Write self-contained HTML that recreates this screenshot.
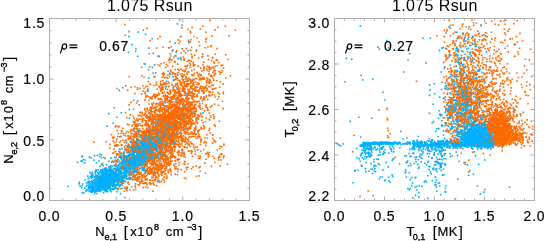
<!DOCTYPE html>
<html><head><meta charset="utf-8"><style>
html,body{margin:0;padding:0;background:#fff;}
svg{display:block;font-family:"Liberation Sans", sans-serif;}
</style></head><body>
<svg width="544" height="241" viewBox="0 0 544 241">
<rect width="544" height="241" fill="#fff"/>
<g stroke-width="1.6" fill="none"><path stroke="#ff6a00" d="M179.3 118.7h1.6M168.9 127.8h1.6M181.3 143.0h1.6M156.3 132.7h1.6M146.5 109.4h1.6M179.2 122.1h1.6M153.5 138.9h1.6M178.8 93.1h1.6M154.1 129.2h1.6M151.1 157.5h1.6M192.0 88.8h1.6M148.6 149.9h1.6M170.2 121.9h1.6M172.1 115.7h1.6M154.6 129.7h1.6M174.0 104.0h1.6M190.9 112.1h1.6M129.7 131.8h1.6M156.4 143.5h1.6M167.3 133.4h1.6M173.2 131.1h1.6M168.0 134.3h1.6M183.1 105.7h1.6M163.5 140.5h1.6M138.4 134.7h1.6M174.7 108.9h1.6M155.6 125.9h1.6M153.6 163.0h1.6M143.8 152.0h1.6M162.3 105.1h1.6M164.7 141.2h1.6M185.6 95.8h1.6M165.8 117.3h1.6M167.7 138.9h1.6M190.9 123.9h1.6M136.9 177.3h1.6M165.2 149.8h1.6M166.6 137.7h1.6M187.7 103.8h1.6M168.9 129.1h1.6M162.4 103.8h1.6M166.5 134.9h1.6M174.2 96.6h1.6M168.6 121.7h1.6M145.3 164.1h1.6M159.6 120.0h1.6M176.5 129.9h1.6M179.9 119.1h1.6M166.0 155.6h1.6M167.5 123.3h1.6M146.4 135.5h1.6M151.7 117.4h1.6M123.9 187.4h1.6M137.9 139.7h1.6M140.3 147.8h1.6M182.5 112.4h1.6M182.5 120.2h1.6M167.3 107.6h1.6M192.6 62.3h1.6M164.6 119.5h1.6M153.2 111.8h1.6M177.5 112.9h1.6M173.2 115.1h1.6M190.0 110.8h1.6M128.4 76.8h1.6M214.4 70.8h1.6M131.0 186.8h1.6M173.6 125.6h1.6M184.0 164.1h1.6M213.2 68.1h1.6M170.4 108.3h1.6M143.2 77.3h1.6M147.2 110.8h1.6M186.8 143.7h1.6M182.2 117.5h1.6M200.8 88.5h1.6M148.3 104.0h1.6M170.9 101.9h1.6M187.0 113.1h1.6M150.0 111.2h1.6M207.5 82.4h1.6M217.6 157.9h1.6M154.2 114.7h1.6M186.6 96.3h1.6M162.1 143.3h1.6M200.8 78.8h1.6M177.6 108.2h1.6M169.9 142.9h1.6M150.8 130.0h1.6M153.1 154.2h1.6M168.5 47.9h1.6M199.8 113.3h1.6M144.9 131.5h1.6M145.7 132.2h1.6M126.9 146.6h1.6M149.4 116.9h1.6M180.4 138.6h1.6M150.3 152.0h1.6M155.8 167.5h1.6M146.9 187.5h1.6M156.7 126.5h1.6M192.0 84.6h1.6M155.7 82.3h1.6M161.4 138.1h1.6M144.7 134.2h1.6M164.2 128.0h1.6M177.0 72.8h1.6M193.2 111.6h1.6M160.1 115.7h1.6M169.4 139.8h1.6M180.3 125.2h1.6M187.1 80.1h1.6M139.5 125.3h1.6M161.1 107.6h1.6M197.0 90.9h1.6M168.5 163.5h1.6M222.6 93.7h1.6M195.6 166.1h1.6M162.3 129.8h1.6M195.8 120.3h1.6M166.3 122.4h1.6M170.4 129.1h1.6M153.5 132.8h1.6M171.8 121.3h1.6M172.1 106.6h1.6M163.5 120.1h1.6M162.6 75.3h1.6M220.4 65.4h1.6M198.6 91.7h1.6M172.2 72.6h1.6M205.6 81.6h1.6M163.3 62.7h1.6M166.3 98.9h1.6M170.1 56.0h1.6M186.5 110.8h1.6M204.9 87.1h1.6M215.5 60.1h1.6M199.9 67.9h1.6M180.0 59.5h1.6M199.5 29.0h1.6M167.7 47.7h1.6M213.4 141.2h1.6M185.0 138.5h1.6M199.3 166.9h1.6M203.2 142.6h1.6M222.6 157.8h1.6M159.8 144.2h1.6M145.3 161.8h1.6M146.4 179.4h1.6M170.6 155.2h1.6M158.1 140.8h1.6M151.3 163.7h1.6M137.1 165.0h1.6M140.7 167.4h1.6M169.8 149.6h1.6M144.4 176.5h1.6M151.9 162.5h1.6M150.9 177.3h1.6M174.5 168.9h1.6M133.3 131.5h1.6M136.7 142.0h1.6M134.1 164.7h1.6M116.3 153.8h1.6M129.1 137.8h1.6M138.6 148.7h1.6M145.6 128.6h1.6M500.5 127.4h1.6M498.8 123.5h1.6M502.1 127.9h1.6M488.0 124.8h1.6M504.1 135.3h1.6M497.8 137.6h1.6M493.1 131.9h1.6M500.1 134.7h1.6M491.0 126.6h1.6M504.5 138.3h1.6M490.6 126.8h1.6M506.7 121.8h1.6M497.4 131.3h1.6M498.0 115.9h1.6M495.8 119.5h1.6M488.3 111.0h1.6M495.6 129.4h1.6M487.9 131.0h1.6M500.0 122.6h1.6M501.2 140.3h1.6M497.4 142.8h1.6M484.3 126.7h1.6M490.8 129.1h1.6M503.4 132.2h1.6M508.7 126.7h1.6M504.5 129.2h1.6M490.1 140.1h1.6M502.5 122.1h1.6M502.5 136.4h1.6M484.9 121.3h1.6M493.8 129.5h1.6M500.6 122.5h1.6M504.7 118.5h1.6M503.9 123.8h1.6M506.6 135.7h1.6M489.4 124.6h1.6M495.8 116.7h1.6M518.3 132.2h1.6M496.0 128.4h1.6M516.9 135.6h1.6M503.2 139.3h1.6M526.0 124.5h1.6M495.5 139.4h1.6M509.2 131.1h1.6M531.7 134.8h1.6M504.2 132.1h1.6M507.3 134.1h1.6M518.4 138.5h1.6M500.9 116.8h1.6M506.0 112.8h1.6M495.8 98.8h1.6M461.6 113.6h1.6M462.8 69.7h1.6M466.7 51.9h1.6M442.5 117.8h1.6M484.5 118.9h1.6M476.9 65.4h1.6M469.9 123.6h1.6M459.3 105.6h1.6M465.1 66.7h1.6M457.2 83.5h1.6M472.2 111.8h1.6M469.4 110.6h1.6M449.7 99.5h1.6M450.3 129.0h1.6M482.6 101.2h1.6M463.7 87.0h1.6M470.2 123.8h1.6M446.7 94.2h1.6M470.5 101.2h1.6M467.4 119.4h1.6M452.6 95.0h1.6M448.3 130.5h1.6M451.6 103.0h1.6M458.3 87.9h1.6M494.9 105.3h1.6M471.2 43.0h1.6M460.2 75.3h1.6M466.9 121.9h1.6M461.3 26.4h1.6M473.0 109.6h1.6M483.8 74.3h1.6M483.6 92.6h1.6M449.6 85.4h1.6M499.1 63.7h1.6M481.7 39.9h1.6M454.7 106.1h1.6M488.9 58.6h1.6M468.7 142.1h1.6M487.4 93.7h1.6M475.7 87.7h1.6M523.4 145.8h1.6M467.0 99.7h1.6M490.0 119.4h1.6M495.1 118.4h1.6M465.2 110.1h1.6M462.0 99.8h1.6M467.5 64.7h1.6M499.6 99.7h1.6M514.0 139.3h1.6M485.7 93.3h1.6M509.5 104.0h1.6M485.9 109.2h1.6M472.8 119.7h1.6M479.3 81.8h1.6M529.9 49.3h1.6M514.4 44.4h1.6M499.8 21.3h1.6M452.6 58.0h1.6M475.6 23.5h1.6M393.1 158.7h1.6M367.4 191.0h1.6M482.6 112.2h1.6"/><path stroke="#00b0ff" d="M106.7 181.1h1.6M109.1 184.7h1.6M108.0 177.4h1.6M108.2 178.0h1.6M116.2 169.1h1.6M101.7 178.9h1.6M99.5 180.0h1.6M113.7 174.0h1.6M100.9 185.4h1.6M102.1 169.3h1.6M108.8 176.4h1.6M105.1 186.8h1.6M101.9 182.7h1.6M106.3 179.0h1.6M104.8 177.1h1.6M99.0 183.3h1.6M102.9 177.5h1.6M101.7 179.3h1.6M103.7 178.0h1.6M100.3 176.5h1.6M100.9 175.9h1.6M107.6 182.9h1.6M123.8 173.0h1.6M100.0 179.4h1.6M114.9 168.6h1.6M101.8 185.9h1.6M104.2 184.1h1.6M117.4 182.7h1.6M95.6 186.3h1.6M103.5 177.2h1.6M105.1 183.1h1.6M93.9 184.5h1.6M111.7 172.3h1.6M103.2 179.5h1.6M91.8 187.0h1.6M106.2 176.8h1.6M99.9 183.7h1.6M101.5 185.1h1.6M111.2 171.6h1.6M108.4 183.8h1.6M110.4 174.9h1.6M123.1 157.0h1.6M184.3 104.9h1.6M147.8 139.4h1.6M146.5 153.5h1.6M97.5 182.2h1.6M135.9 165.1h1.6M153.2 153.8h1.6M148.7 149.4h1.6M133.4 161.3h1.6M158.2 148.2h1.6M126.6 156.2h1.6M142.7 151.0h1.6M143.1 150.3h1.6M164.1 155.1h1.6M142.4 149.7h1.6M137.6 143.4h1.6M139.3 157.7h1.6M144.0 156.8h1.6M126.0 156.2h1.6M134.2 151.9h1.6M132.2 164.2h1.6M115.6 172.2h1.6M130.7 155.6h1.6M139.0 145.5h1.6M134.9 157.9h1.6M154.3 127.6h1.6M143.0 154.7h1.6M144.4 151.5h1.6M118.4 169.6h1.6M147.0 137.6h1.6M148.8 151.6h1.6M150.1 150.4h1.6M133.9 165.9h1.6M127.0 157.6h1.6M132.8 161.5h1.6M133.6 147.2h1.6M144.7 147.2h1.6M107.0 185.8h1.6M128.0 165.3h1.6M122.2 162.9h1.6M141.2 148.5h1.6M139.7 164.6h1.6M106.7 180.2h1.6M128.4 175.1h1.6M121.0 156.7h1.6M164.3 140.8h1.6M150.1 149.2h1.6M137.2 155.4h1.6M157.7 154.7h1.6M124.8 170.9h1.6M136.0 149.5h1.6M118.6 149.2h1.6M140.5 164.2h1.6M145.1 157.7h1.6M162.8 142.1h1.6M172.6 113.6h1.6M141.3 160.6h1.6M144.1 148.9h1.6M135.2 161.0h1.6M135.0 164.4h1.6M152.2 122.9h1.6M128.6 118.1h1.6M189.6 117.2h1.6M172.1 50.1h1.6M106.3 126.1h1.6M93.8 155.6h1.6M127.7 52.3h1.6M124.5 35.2h1.6M488.4 138.0h1.6M484.3 125.9h1.6M467.4 137.1h1.6M472.3 142.7h1.6M490.9 144.1h1.6M480.6 134.9h1.6M465.4 138.3h1.6M465.5 137.1h1.6M484.0 135.3h1.6M481.2 131.9h1.6M484.6 133.9h1.6M473.0 133.2h1.6M474.6 140.8h1.6M481.6 139.6h1.6M473.1 144.2h1.6M472.7 143.6h1.6M478.0 140.7h1.6M471.6 143.9h1.6M471.4 137.3h1.6M469.2 128.3h1.6M473.8 146.2h1.6M471.8 135.0h1.6M477.8 135.8h1.6M470.9 139.5h1.6M488.6 142.9h1.6M474.9 128.0h1.6M465.6 138.1h1.6M474.9 137.3h1.6M480.2 142.1h1.6M465.4 134.9h1.6M474.9 134.1h1.6M480.0 138.4h1.6M474.7 134.1h1.6M473.6 129.7h1.6M477.6 138.0h1.6M463.9 137.3h1.6M472.0 143.5h1.6M374.9 143.4h1.6M392.2 143.2h1.6M389.9 143.2h1.6M383.5 142.8h1.6M389.5 142.6h1.6M387.8 143.3h1.6M404.2 143.5h1.6M372.5 148.6h1.6M425.6 143.6h1.6M423.9 145.9h1.6M413.6 144.8h1.6M429.7 141.6h1.6M426.1 144.1h1.6M478.7 146.3h1.6M459.1 143.2h1.6M460.9 145.1h1.6M485.8 145.2h1.6M490.8 140.8h1.6M469.0 141.0h1.6M473.9 140.9h1.6M468.7 145.3h1.6M489.4 146.1h1.6M470.7 145.3h1.6M446.2 144.4h1.6M476.9 142.5h1.6M470.2 144.4h1.6M456.4 143.5h1.6M477.7 145.2h1.6M474.8 145.4h1.6M365.3 162.5h1.6M363.0 148.3h1.6M367.2 144.5h1.6M361.7 157.9h1.6M362.9 147.9h1.6M368.5 145.1h1.6M364.6 168.6h1.6M374.1 168.7h1.6M352.1 182.7h1.6M389.2 182.3h1.6M377.6 159.3h1.6M426.0 164.8h1.6M414.7 195.4h1.6M404.6 172.7h1.6M420.9 155.3h1.6M414.3 187.3h1.6M419.5 154.4h1.6M440.4 148.3h1.6M429.7 171.9h1.6M405.5 155.8h1.6M439.9 115.8h1.6M465.6 89.5h1.6M475.4 131.4h1.6M447.1 103.4h1.6M459.2 140.3h1.6M460.7 126.6h1.6M431.5 123.0h1.6M461.5 76.0h1.6M470.9 70.5h1.6M464.3 37.4h1.6M456.4 55.4h1.6M464.9 46.6h1.6M463.4 120.2h1.6M476.1 113.9h1.6M469.8 101.0h1.6M458.2 120.0h1.6M454.8 138.3h1.6M437.7 118.3h1.6M463.0 124.2h1.6M453.0 121.3h1.6M457.9 95.5h1.6M454.6 115.3h1.6M451.7 82.6h1.6"/><path stroke="#ff6a00" d="M188.9 115.0h1.6M171.7 131.0h1.6M164.8 102.1h1.6M214.7 73.5h1.6M182.2 117.1h1.6M188.0 103.5h1.6M140.6 162.7h1.6M186.3 81.2h1.6M181.8 114.1h1.6M186.9 86.0h1.6M180.6 119.6h1.6M169.2 129.2h1.6M177.4 114.2h1.6M169.6 135.6h1.6M143.8 135.4h1.6M191.8 86.0h1.6M163.2 140.4h1.6M161.8 144.2h1.6M177.6 110.3h1.6M174.3 98.7h1.6M180.3 108.5h1.6M162.0 109.1h1.6M135.5 174.5h1.6M170.9 127.7h1.6M138.5 119.2h1.6M203.5 88.5h1.6M156.5 127.6h1.6M152.8 137.9h1.6M167.6 136.6h1.6M175.9 102.5h1.6M142.4 149.3h1.6M158.6 145.6h1.6M176.4 109.1h1.6M161.6 142.8h1.6M171.4 150.6h1.6M157.5 142.9h1.6M172.7 136.8h1.6M164.9 144.3h1.6M175.7 98.8h1.6M162.1 120.0h1.6M160.6 154.2h1.6M189.5 112.6h1.6M168.0 123.7h1.6M172.3 127.9h1.6M171.8 123.8h1.6M149.3 118.1h1.6M167.7 116.7h1.6M166.5 116.9h1.6M155.4 107.3h1.6M159.8 131.7h1.6M160.5 155.7h1.6M152.2 125.1h1.6M168.8 151.4h1.6M176.9 107.4h1.6M192.3 95.6h1.6M194.8 127.9h1.6M158.7 140.0h1.6M137.0 139.5h1.6M117.5 169.3h1.6M129.4 179.4h1.6M162.8 124.3h1.6M154.8 133.8h1.6M143.5 145.9h1.6M160.6 150.0h1.6M149.8 138.9h1.6M194.9 90.3h1.6M145.1 117.2h1.6M176.5 134.1h1.6M208.4 67.2h1.6M180.7 123.3h1.6M132.8 173.3h1.6M145.2 96.1h1.6M160.1 136.6h1.6M173.4 128.3h1.6M165.0 124.8h1.6M193.8 128.2h1.6M162.7 136.7h1.6M185.7 48.6h1.6M199.9 142.3h1.6M171.4 142.2h1.6M160.8 104.4h1.6M188.2 120.9h1.6M175.5 136.1h1.6M144.8 179.0h1.6M179.1 136.9h1.6M150.4 121.5h1.6M193.6 129.6h1.6M201.0 57.3h1.6M160.2 132.0h1.6M145.5 137.9h1.6M158.1 180.6h1.6M176.6 110.8h1.6M197.3 66.1h1.6M158.2 130.9h1.6M190.5 132.0h1.6M158.4 166.8h1.6M185.4 109.4h1.6M203.6 128.0h1.6M171.9 66.3h1.6M192.7 101.5h1.6M153.1 85.5h1.6M176.0 120.9h1.6M211.8 57.8h1.6M157.2 123.6h1.6M201.3 101.0h1.6M132.5 139.4h1.6M174.2 134.4h1.6M198.1 42.0h1.6M150.8 146.9h1.6M141.8 118.6h1.6M134.2 122.2h1.6M188.9 105.4h1.6M179.4 103.6h1.6M181.8 114.4h1.6M177.3 144.3h1.6M130.5 129.5h1.6M149.4 97.4h1.6M190.0 126.1h1.6M155.5 129.3h1.6M163.4 130.6h1.6M151.6 129.8h1.6M181.6 121.7h1.6M125.6 176.4h1.6M186.9 112.8h1.6M169.7 106.9h1.6M199.3 107.5h1.6M198.7 79.9h1.6M183.4 74.7h1.6M176.0 110.9h1.6M162.0 80.8h1.6M203.3 78.3h1.6M192.1 117.0h1.6M153.2 94.4h1.6M216.2 48.6h1.6M156.0 48.0h1.6M190.9 47.5h1.6M128.3 31.6h1.6M194.5 154.3h1.6M217.8 160.0h1.6M153.6 155.7h1.6M164.8 130.4h1.6M160.3 174.1h1.6M175.3 166.7h1.6M120.8 183.2h1.6M138.2 153.8h1.6M166.5 159.9h1.6M167.7 154.3h1.6M139.8 173.3h1.6M157.4 169.4h1.6M152.9 155.2h1.6M173.9 147.7h1.6M171.5 161.2h1.6M158.7 153.6h1.6M133.0 147.2h1.6M119.9 141.0h1.6M140.4 131.5h1.6M139.1 123.8h1.6M120.5 153.1h1.6M120.5 144.6h1.6M495.6 135.2h1.6M498.4 134.5h1.6M500.7 133.0h1.6M501.9 120.1h1.6M488.8 132.9h1.6M494.9 123.3h1.6M496.6 131.9h1.6M508.4 136.3h1.6M496.6 130.0h1.6M488.5 128.2h1.6M505.3 139.9h1.6M502.2 123.3h1.6M505.5 128.3h1.6M502.8 122.5h1.6M497.8 122.7h1.6M515.0 136.6h1.6M509.8 127.9h1.6M505.6 129.9h1.6M497.3 114.3h1.6M504.1 130.6h1.6M497.7 133.8h1.6M501.4 133.4h1.6M506.3 112.2h1.6M489.0 127.7h1.6M496.6 123.3h1.6M519.1 138.6h1.6M504.5 140.7h1.6M507.0 138.6h1.6M512.7 142.4h1.6M509.6 143.5h1.6M509.4 128.8h1.6M497.4 137.7h1.6M505.8 137.8h1.6M511.5 138.9h1.6M507.9 138.1h1.6M509.6 133.1h1.6M520.8 136.0h1.6M518.5 121.4h1.6M497.1 127.4h1.6M490.5 126.3h1.6M482.4 104.0h1.6M499.1 116.9h1.6M494.3 117.2h1.6M470.9 38.3h1.6M442.8 62.4h1.6M469.7 125.4h1.6M445.6 110.2h1.6M447.6 110.1h1.6M483.6 101.4h1.6M444.9 130.8h1.6M450.3 112.8h1.6M482.3 67.5h1.6M446.4 115.3h1.6M468.8 81.1h1.6M451.2 115.8h1.6M470.2 94.6h1.6M460.6 97.7h1.6M467.9 69.2h1.6M467.1 64.7h1.6M448.3 143.2h1.6M454.8 91.5h1.6M490.1 127.6h1.6M465.2 111.7h1.6M448.3 77.6h1.6M459.5 71.3h1.6M479.0 76.9h1.6M485.2 86.7h1.6M457.5 95.1h1.6M497.0 127.2h1.6M471.8 103.9h1.6M491.6 124.8h1.6M444.6 107.1h1.6M498.7 137.8h1.6M462.2 64.8h1.6M467.5 88.0h1.6M496.2 113.4h1.6M483.6 87.6h1.6M515.1 127.8h1.6M521.1 129.2h1.6M484.7 117.7h1.6M476.0 61.0h1.6M469.3 130.7h1.6M455.0 141.4h1.6M469.3 87.6h1.6M489.1 66.7h1.6M500.1 83.1h1.6M466.6 92.0h1.6M527.5 95.8h1.6M470.8 90.1h1.6M472.8 121.7h1.6M463.2 91.9h1.6M491.2 86.2h1.6M474.2 118.6h1.6M475.6 49.6h1.6M468.6 92.8h1.6M503.5 95.2h1.6M479.4 100.6h1.6M496.8 67.7h1.6M470.9 105.5h1.6M488.3 84.7h1.6M489.3 56.0h1.6M490.0 93.5h1.6M499.6 60.9h1.6M464.5 35.4h1.6M498.2 49.5h1.6M496.6 57.3h1.6M454.9 59.1h1.6M468.0 172.1h1.6M386.8 135.7h1.6M471.8 152.3h1.6"/><path stroke="#00b0ff" d="M109.4 182.3h1.6M117.7 180.4h1.6M106.6 183.6h1.6M91.2 191.3h1.6M98.5 189.7h1.6M124.7 173.6h1.6M109.6 174.5h1.6M113.6 176.6h1.6M103.8 175.0h1.6M95.4 183.2h1.6M104.3 174.4h1.6M120.2 168.3h1.6M97.2 181.0h1.6M97.5 184.5h1.6M99.6 178.9h1.6M92.8 188.4h1.6M97.8 176.5h1.6M67.3 186.2h1.6M98.4 177.3h1.6M104.3 171.3h1.6M91.9 189.3h1.6M96.6 185.8h1.6M111.1 174.5h1.6M96.9 189.4h1.6M103.5 184.5h1.6M97.4 177.2h1.6M109.3 179.4h1.6M107.9 183.3h1.6M110.8 183.5h1.6M110.9 179.8h1.6M128.1 173.2h1.6M111.5 180.1h1.6M94.2 182.8h1.6M98.8 180.8h1.6M95.0 187.6h1.6M113.7 174.1h1.6M99.6 179.8h1.6M113.3 182.6h1.6M114.1 181.4h1.6M96.2 185.7h1.6M108.8 172.4h1.6M110.7 176.0h1.6M107.8 183.3h1.6M93.6 189.9h1.6M104.9 173.1h1.6M117.7 168.2h1.6M157.5 143.6h1.6M144.5 147.3h1.6M139.3 155.5h1.6M132.9 152.4h1.6M140.0 148.8h1.6M135.7 171.8h1.6M139.9 159.0h1.6M133.7 169.1h1.6M153.1 146.9h1.6M173.6 140.3h1.6M130.8 165.4h1.6M167.2 129.3h1.6M127.0 162.6h1.6M141.6 153.6h1.6M168.9 140.1h1.6M161.5 131.7h1.6M145.5 158.8h1.6M140.5 158.5h1.6M137.8 134.3h1.6M132.5 159.1h1.6M131.6 160.0h1.6M149.3 149.0h1.6M134.7 178.5h1.6M146.4 144.6h1.6M128.8 163.2h1.6M167.2 143.7h1.6M146.3 145.7h1.6M103.4 183.9h1.6M158.9 148.1h1.6M138.5 153.3h1.6M137.2 147.4h1.6M122.1 168.3h1.6M140.4 153.7h1.6M128.1 174.0h1.6M144.2 152.1h1.6M121.2 165.5h1.6M143.8 164.7h1.6M147.7 127.8h1.6M156.0 143.8h1.6M139.1 137.1h1.6M145.3 147.7h1.6M146.6 144.7h1.6M153.7 145.9h1.6M119.8 154.0h1.6M136.9 169.7h1.6M149.0 152.8h1.6M118.4 171.2h1.6M136.4 170.2h1.6M156.7 150.7h1.6M158.6 138.9h1.6M162.3 141.4h1.6M145.2 162.4h1.6M140.7 151.5h1.6M154.6 146.2h1.6M147.6 144.9h1.6M138.7 157.0h1.6M123.4 172.3h1.6M160.0 124.4h1.6M116.2 117.3h1.6M177.0 171.5h1.6M172.2 76.8h1.6M163.4 119.0h1.6M159.3 105.1h1.6M154.9 109.2h1.6M148.8 67.0h1.6M152.1 120.4h1.6M115.7 153.7h1.6M98.3 161.0h1.6M488.3 133.8h1.6M479.3 129.9h1.6M461.6 134.9h1.6M476.5 142.4h1.6M490.9 135.7h1.6M467.9 134.8h1.6M487.9 139.4h1.6M467.6 138.4h1.6M469.7 135.3h1.6M491.1 141.2h1.6M468.2 136.9h1.6M488.8 130.7h1.6M482.6 134.4h1.6M468.7 130.4h1.6M484.8 141.7h1.6M483.8 127.2h1.6M473.6 137.1h1.6M472.5 142.0h1.6M477.9 131.4h1.6M489.3 138.7h1.6M485.3 140.1h1.6M473.4 142.4h1.6M480.5 132.6h1.6M468.3 131.8h1.6M474.4 138.5h1.6M485.1 145.2h1.6M462.7 136.6h1.6M487.9 139.7h1.6M474.7 143.5h1.6M475.4 114.7h1.6M472.0 138.4h1.6M492.0 133.5h1.6M477.5 132.4h1.6M457.0 133.5h1.6M473.8 138.1h1.6M456.5 138.8h1.6M473.3 140.6h1.6M472.7 138.0h1.6M482.1 146.0h1.6M481.2 132.8h1.6M456.0 131.7h1.6M475.3 126.8h1.6M488.1 146.4h1.6M472.0 145.7h1.6M392.3 144.1h1.6M372.6 142.3h1.6M384.6 142.9h1.6M364.4 143.4h1.6M364.6 143.7h1.6M384.3 142.1h1.6M384.9 143.0h1.6M378.0 143.6h1.6M386.6 143.1h1.6M395.4 142.2h1.6M374.7 171.8h1.6M384.2 149.7h1.6M437.0 141.4h1.6M412.9 143.6h1.6M434.0 143.5h1.6M414.1 145.3h1.6M437.0 141.8h1.6M434.5 148.2h1.6M433.4 145.3h1.6M427.3 146.2h1.6M435.5 145.2h1.6M438.9 142.5h1.6M432.6 143.9h1.6M420.6 141.3h1.6M488.5 145.4h1.6M485.2 145.0h1.6M477.0 146.7h1.6M470.9 148.1h1.6M491.6 144.2h1.6M486.7 148.7h1.6M454.9 143.0h1.6M454.9 146.4h1.6M444.7 145.2h1.6M451.5 143.9h1.6M481.4 141.9h1.6M480.3 145.3h1.6M457.0 142.9h1.6M360.5 146.2h1.6M364.4 145.9h1.6M368.8 145.8h1.6M360.5 145.1h1.6M368.0 144.7h1.6M359.4 145.6h1.6M368.9 153.3h1.6M373.1 166.6h1.6M417.3 159.7h1.6M432.9 168.1h1.6M418.6 156.4h1.6M435.4 169.1h1.6M479.5 69.4h1.6M465.5 100.8h1.6M453.4 80.1h1.6M456.4 116.8h1.6M472.9 93.8h1.6M452.7 49.2h1.6M477.6 90.3h1.6M454.1 83.0h1.6M463.1 130.8h1.6M453.8 139.9h1.6M478.9 50.5h1.6M429.5 38.3h1.6M361.9 79.9h1.6M441.0 114.9h1.6M456.2 121.0h1.6M462.9 93.6h1.6M447.6 111.1h1.6M473.1 96.9h1.6M452.8 97.2h1.6M477.6 102.3h1.6M464.5 129.6h1.6M449.0 112.7h1.6"/><path stroke="#ff6a00" d="M155.0 136.5h1.6M181.1 100.3h1.6M165.2 145.1h1.6M159.6 132.1h1.6M149.8 172.4h1.6M183.7 116.8h1.6M154.9 135.8h1.6M135.2 164.9h1.6M162.0 129.1h1.6M188.3 78.4h1.6M150.0 136.5h1.6M157.4 139.7h1.6M191.1 108.8h1.6M152.5 131.0h1.6M135.4 128.9h1.6M154.3 143.6h1.6M188.3 98.4h1.6M153.1 140.7h1.6M156.7 147.6h1.6M137.2 146.6h1.6M169.3 117.6h1.6M173.6 104.5h1.6M160.5 155.8h1.6M148.7 132.5h1.6M190.8 96.3h1.6M166.5 114.8h1.6M159.6 133.2h1.6M186.1 99.3h1.6M160.6 129.4h1.6M143.6 161.7h1.6M183.3 120.2h1.6M150.9 109.2h1.6M166.2 118.3h1.6M148.6 133.1h1.6M181.5 111.0h1.6M185.8 102.5h1.6M187.0 106.8h1.6M159.9 136.5h1.6M182.8 126.4h1.6M174.8 119.0h1.6M174.6 76.2h1.6M175.1 129.8h1.6M164.1 149.7h1.6M171.6 104.9h1.6M162.8 130.8h1.6M176.9 116.1h1.6M167.4 159.2h1.6M142.1 141.6h1.6M130.5 159.0h1.6M181.8 120.0h1.6M166.1 125.3h1.6M187.4 98.0h1.6M184.8 100.7h1.6M182.2 122.5h1.6M158.8 163.3h1.6M150.0 138.3h1.6M137.9 151.9h1.6M164.1 159.8h1.6M168.8 138.1h1.6M143.9 140.0h1.6M135.9 155.4h1.6M175.7 140.5h1.6M185.4 104.6h1.6M179.4 129.8h1.6M159.6 131.8h1.6M144.1 114.3h1.6M125.0 85.7h1.6M169.9 114.6h1.6M159.0 65.6h1.6M181.9 77.3h1.6M190.3 122.5h1.6M179.7 144.3h1.6M200.5 127.3h1.6M155.5 165.5h1.6M153.9 158.2h1.6M163.7 106.3h1.6M165.6 134.6h1.6M170.6 136.7h1.6M178.2 70.3h1.6M196.6 96.5h1.6M155.1 177.5h1.6M177.8 146.0h1.6M178.5 126.6h1.6M181.1 120.5h1.6M213.7 104.3h1.6M198.2 175.9h1.6M159.5 115.6h1.6M195.5 87.3h1.6M183.9 147.0h1.6M174.2 126.7h1.6M221.8 101.2h1.6M180.4 109.3h1.6M195.8 120.4h1.6M145.1 143.3h1.6M170.8 117.2h1.6M149.4 148.5h1.6M197.5 115.5h1.6M182.5 104.6h1.6M166.2 142.6h1.6M211.7 92.4h1.6M165.0 151.7h1.6M194.4 114.6h1.6M165.1 157.6h1.6M197.8 76.6h1.6M205.1 41.8h1.6M188.8 60.5h1.6M178.6 89.2h1.6M212.2 72.3h1.6M170.4 46.7h1.6M219.4 154.3h1.6M159.6 158.7h1.6M157.1 157.1h1.6M170.7 141.5h1.6M165.4 147.6h1.6M170.5 137.5h1.6M154.1 163.7h1.6M174.6 147.0h1.6M152.8 166.2h1.6M153.4 148.5h1.6M165.6 168.3h1.6M163.1 156.3h1.6M160.9 152.7h1.6M157.9 159.9h1.6M152.3 173.5h1.6M146.4 161.3h1.6M151.1 170.5h1.6M174.6 160.9h1.6M177.6 169.3h1.6M174.9 163.8h1.6M141.8 170.1h1.6M157.1 172.1h1.6M139.9 134.9h1.6M142.9 155.3h1.6M142.0 139.1h1.6M124.3 148.8h1.6M134.9 136.7h1.6M136.6 139.9h1.6M133.5 128.2h1.6M132.6 144.8h1.6M141.5 126.2h1.6M128.8 151.1h1.6M136.3 145.0h1.6M500.7 140.6h1.6M504.4 132.7h1.6M489.2 122.7h1.6M493.4 135.7h1.6M497.0 124.1h1.6M498.9 124.3h1.6M490.8 143.8h1.6M497.4 121.5h1.6M503.5 136.1h1.6M501.3 127.5h1.6M489.6 135.8h1.6M491.6 118.6h1.6M491.5 123.7h1.6M506.0 119.9h1.6M499.8 117.7h1.6M513.3 137.0h1.6M487.9 122.4h1.6M485.7 134.4h1.6M497.6 143.2h1.6M499.3 111.6h1.6M502.5 134.2h1.6M493.8 122.9h1.6M495.2 137.3h1.6M497.3 142.7h1.6M489.4 127.8h1.6M512.4 134.9h1.6M496.5 144.5h1.6M497.0 121.8h1.6M507.7 111.5h1.6M506.4 131.6h1.6M485.9 132.0h1.6M504.6 124.6h1.6M498.0 129.9h1.6M491.5 143.6h1.6M501.3 140.4h1.6M510.5 131.6h1.6M488.0 131.0h1.6M494.6 132.6h1.6M488.7 132.6h1.6M508.4 144.2h1.6M493.8 137.1h1.6M507.1 131.3h1.6M514.3 136.6h1.6M528.5 139.1h1.6M513.4 137.8h1.6M504.8 136.5h1.6M496.2 138.6h1.6M498.7 128.1h1.6M502.5 109.8h1.6M513.5 111.9h1.6M490.8 110.1h1.6M459.6 45.0h1.6M462.2 34.6h1.6M443.2 77.1h1.6M471.5 93.2h1.6M446.5 125.7h1.6M475.8 94.5h1.6M469.8 110.2h1.6M467.1 98.9h1.6M474.4 108.3h1.6M480.0 89.1h1.6M470.6 61.9h1.6M450.9 128.6h1.6M461.3 75.8h1.6M471.3 117.0h1.6M467.3 105.8h1.6M482.2 97.0h1.6M477.4 112.7h1.6M488.1 110.9h1.6M475.0 87.2h1.6M466.8 123.8h1.6M480.9 125.8h1.6M458.0 59.5h1.6M481.3 62.6h1.6M461.2 46.0h1.6M475.0 74.1h1.6M472.2 70.0h1.6M480.0 47.6h1.6M526.0 70.0h1.6M456.7 115.5h1.6M493.7 96.3h1.6M459.3 109.1h1.6M467.7 112.9h1.6M483.8 124.5h1.6M467.7 116.6h1.6M508.7 73.2h1.6M464.5 88.3h1.6M484.3 101.1h1.6M479.2 50.2h1.6M475.5 125.0h1.6M489.3 127.9h1.6M453.7 94.2h1.6M492.9 53.7h1.6M469.7 123.8h1.6M448.4 106.6h1.6M481.9 86.6h1.6M505.3 141.8h1.6M511.4 99.2h1.6M480.2 108.2h1.6M464.3 43.5h1.6M480.4 25.0h1.6M451.1 113.9h1.6M475.0 97.1h1.6M511.5 38.6h1.6M508.2 136.4h1.6M504.3 109.5h1.6M488.6 94.7h1.6M491.7 138.7h1.6M513.5 44.6h1.6M477.1 57.4h1.6M497.8 24.9h1.6M431.4 157.5h1.6M386.2 108.2h1.6"/><path stroke="#00b0ff" d="M96.6 179.7h1.6M101.5 183.5h1.6M89.8 187.7h1.6M107.1 187.7h1.6M108.0 178.8h1.6M108.4 183.8h1.6M117.8 173.9h1.6M116.2 173.7h1.6M97.9 183.8h1.6M110.0 177.7h1.6M105.2 175.9h1.6M121.3 177.6h1.6M113.7 174.9h1.6M97.7 184.6h1.6M98.9 178.5h1.6M106.0 170.6h1.6M99.9 175.2h1.6M92.1 184.6h1.6M115.8 176.4h1.6M93.9 182.1h1.6M111.6 183.3h1.6M91.7 183.6h1.6M103.4 178.5h1.6M112.9 179.2h1.6M92.9 182.7h1.6M112.2 171.1h1.6M107.2 178.2h1.6M118.6 173.6h1.6M106.8 170.8h1.6M105.6 177.1h1.6M85.2 191.1h1.6M96.9 177.1h1.6M104.1 173.6h1.6M108.3 183.9h1.6M110.1 185.6h1.6M114.0 184.8h1.6M108.9 177.1h1.6M106.5 177.9h1.6M113.3 185.5h1.6M94.0 183.1h1.6M122.6 175.7h1.6M88.7 190.8h1.6M90.4 176.7h1.6M92.0 183.8h1.6M105.9 181.6h1.6M125.2 164.9h1.6M99.6 190.3h1.6M137.1 156.8h1.6M140.7 157.8h1.6M139.4 156.4h1.6M152.2 148.6h1.6M159.6 152.7h1.6M147.0 137.5h1.6M156.8 139.3h1.6M145.4 145.8h1.6M155.5 122.8h1.6M154.2 123.8h1.6M148.3 148.0h1.6M139.4 160.8h1.6M146.4 148.2h1.6M167.3 120.3h1.6M152.1 149.1h1.6M140.6 157.3h1.6M147.2 151.9h1.6M162.1 130.2h1.6M161.2 141.5h1.6M139.4 153.1h1.6M151.1 137.6h1.6M140.3 153.5h1.6M126.5 158.9h1.6M129.4 167.1h1.6M131.9 166.1h1.6M134.0 150.1h1.6M150.0 145.0h1.6M153.2 142.6h1.6M112.7 180.2h1.6M121.2 176.0h1.6M154.3 130.0h1.6M116.7 183.4h1.6M146.3 153.6h1.6M132.0 159.3h1.6M136.3 148.6h1.6M150.1 151.0h1.6M139.0 158.6h1.6M152.2 149.4h1.6M144.3 150.8h1.6M140.9 148.6h1.6M134.7 162.4h1.6M155.7 141.7h1.6M134.9 51.2h1.6M153.8 64.9h1.6M143.4 63.8h1.6M176.6 23.9h1.6M81.3 156.9h1.6M490.9 133.2h1.6M486.6 135.3h1.6M473.8 134.4h1.6M469.6 128.5h1.6M463.7 139.1h1.6M481.4 138.3h1.6M472.2 141.1h1.6M461.5 138.2h1.6M471.9 144.8h1.6M475.1 139.1h1.6M473.5 127.9h1.6M469.4 136.5h1.6M468.7 124.2h1.6M472.9 128.5h1.6M487.6 135.0h1.6M476.9 145.7h1.6M476.0 132.2h1.6M480.9 131.8h1.6M471.5 146.3h1.6M473.5 127.6h1.6M470.4 135.7h1.6M478.1 138.0h1.6M461.3 138.0h1.6M475.7 137.0h1.6M481.9 136.8h1.6M470.5 126.9h1.6M481.2 136.3h1.6M463.2 139.5h1.6M486.3 121.7h1.6M471.9 133.4h1.6M466.0 133.2h1.6M478.2 141.9h1.6M469.6 134.2h1.6M477.5 125.5h1.6M476.6 143.9h1.6M482.3 145.5h1.6M487.4 138.1h1.6M469.7 146.1h1.6M484.7 130.8h1.6M471.3 137.5h1.6M472.2 139.8h1.6M485.3 139.3h1.6M470.2 142.0h1.6M466.6 121.2h1.6M482.6 141.5h1.6M388.6 143.6h1.6M384.7 143.3h1.6M373.6 144.4h1.6M369.5 143.8h1.6M378.6 143.2h1.6M370.3 142.8h1.6M380.2 147.7h1.6M374.3 147.0h1.6M413.9 148.4h1.6M413.3 142.9h1.6M437.2 144.8h1.6M430.2 142.1h1.6M413.7 149.4h1.6M428.2 145.3h1.6M420.6 143.0h1.6M436.3 145.8h1.6M458.2 143.1h1.6M447.5 144.2h1.6M482.3 141.3h1.6M458.8 143.5h1.6M491.8 143.6h1.6M466.0 145.9h1.6M479.9 144.9h1.6M465.4 142.2h1.6M478.1 147.9h1.6M466.4 143.2h1.6M479.8 144.3h1.6M478.4 141.7h1.6M454.7 145.1h1.6M474.7 141.6h1.6M450.0 140.7h1.6M453.2 145.0h1.6M360.8 153.8h1.6M362.7 146.3h1.6M381.3 149.3h1.6M361.1 166.1h1.6M385.3 162.4h1.6M440.5 152.0h1.6M414.3 177.8h1.6M421.1 158.3h1.6M439.7 147.1h1.6M427.0 175.8h1.6M426.9 148.1h1.6M441.6 175.1h1.6M435.4 187.0h1.6M444.6 153.7h1.6M483.2 192.1h1.6M477.9 164.3h1.6M457.1 179.1h1.6M466.9 104.4h1.6M449.2 65.0h1.6M473.0 76.3h1.6M460.4 79.8h1.6M462.9 93.9h1.6M474.8 119.6h1.6M456.4 131.9h1.6M471.7 83.3h1.6M441.0 48.0h1.6M469.8 112.6h1.6M479.7 102.5h1.6M448.4 105.7h1.6M459.8 47.6h1.6M458.6 62.8h1.6M449.9 74.6h1.6M406.1 137.8h1.6M448.9 109.0h1.6M454.3 110.2h1.6M461.5 104.2h1.6M448.1 118.2h1.6M449.3 115.5h1.6M470.6 129.7h1.6M455.3 108.5h1.6"/><path stroke="#ff6a00" d="M145.2 153.8h1.6M165.3 130.0h1.6M180.0 125.4h1.6M180.6 108.6h1.6M147.5 160.1h1.6M149.6 172.6h1.6M176.4 103.6h1.6M144.9 163.5h1.6M166.6 92.1h1.6M187.9 141.3h1.6M199.2 105.1h1.6M139.0 168.8h1.6M140.8 179.9h1.6M171.4 135.9h1.6M178.3 106.0h1.6M182.9 88.9h1.6M151.8 130.2h1.6M158.2 161.9h1.6M211.2 85.4h1.6M161.1 139.8h1.6M179.4 96.4h1.6M153.8 150.3h1.6M183.9 115.9h1.6M156.2 116.8h1.6M162.0 128.1h1.6M193.5 73.4h1.6M175.6 112.9h1.6M148.2 129.9h1.6M169.9 158.8h1.6M172.1 142.7h1.6M139.7 156.8h1.6M146.8 149.9h1.6M178.2 108.9h1.6M170.6 121.0h1.6M159.2 127.0h1.6M169.3 133.8h1.6M120.8 157.4h1.6M164.0 121.0h1.6M161.8 154.7h1.6M149.0 120.5h1.6M153.6 134.7h1.6M139.5 146.8h1.6M184.6 123.7h1.6M191.0 110.4h1.6M197.0 90.7h1.6M201.7 103.5h1.6M227.2 59.5h1.6M162.9 134.0h1.6M155.6 169.4h1.6M150.8 142.1h1.6M124.8 145.5h1.6M155.3 167.0h1.6M184.0 95.3h1.6M185.5 121.2h1.6M171.7 115.6h1.6M169.8 140.5h1.6M149.2 130.9h1.6M129.0 173.3h1.6M179.4 96.6h1.6M161.6 117.1h1.6M174.1 157.7h1.6M150.2 137.0h1.6M175.0 118.3h1.6M163.3 141.1h1.6M190.9 136.6h1.6M160.0 102.2h1.6M142.7 147.7h1.6M159.8 83.4h1.6M152.3 122.2h1.6M167.7 125.1h1.6M156.0 84.8h1.6M161.7 179.3h1.6M171.4 148.5h1.6M135.8 142.4h1.6M160.1 115.5h1.6M209.5 20.5h1.6M211.4 89.1h1.6M173.7 119.4h1.6M191.0 86.0h1.6M142.8 118.7h1.6M178.1 117.5h1.6M155.2 94.8h1.6M151.5 123.2h1.6M119.0 136.9h1.6M166.5 126.6h1.6M165.0 161.3h1.6M166.8 102.4h1.6M165.9 83.7h1.6M167.6 124.5h1.6M165.4 115.7h1.6M191.7 132.6h1.6M141.2 119.5h1.6M191.2 123.0h1.6M185.0 98.1h1.6M176.3 106.9h1.6M187.1 89.4h1.6M151.4 111.8h1.6M184.7 124.4h1.6M200.4 75.3h1.6M167.6 172.7h1.6M188.5 127.0h1.6M113.5 137.3h1.6M182.8 113.0h1.6M188.8 137.4h1.6M148.9 116.8h1.6M160.5 127.4h1.6M180.9 149.9h1.6M146.8 86.3h1.6M194.8 87.4h1.6M137.5 176.6h1.6M151.5 114.4h1.6M196.1 78.8h1.6M119.4 153.2h1.6M195.7 176.2h1.6M152.2 115.5h1.6M174.0 112.0h1.6M179.3 115.1h1.6M151.4 115.3h1.6M205.6 95.7h1.6M154.6 112.5h1.6M122.0 166.1h1.6M175.2 125.2h1.6M176.2 141.4h1.6M161.3 87.8h1.6M179.4 81.1h1.6M187.4 83.9h1.6M191.0 74.8h1.6M208.1 74.4h1.6M170.4 97.4h1.6M213.3 88.6h1.6M205.1 32.3h1.6M188.2 137.1h1.6M218.4 156.2h1.6M142.3 168.1h1.6M165.0 152.4h1.6M190.0 133.7h1.6M154.0 169.6h1.6M149.3 169.5h1.6M158.6 144.3h1.6M159.5 165.8h1.6M142.9 163.2h1.6M155.0 165.3h1.6M167.9 165.3h1.6M167.1 162.8h1.6M185.4 167.6h1.6M166.3 159.8h1.6M141.1 180.7h1.6M142.9 157.7h1.6M148.6 134.7h1.6M138.3 150.9h1.6M127.4 138.6h1.6M132.8 150.7h1.6M136.1 118.9h1.6M129.1 154.4h1.6M164.9 115.2h1.6M500.4 131.1h1.6M492.7 118.5h1.6M500.7 122.5h1.6M477.6 117.2h1.6M505.3 121.9h1.6M494.0 127.9h1.6M499.3 122.9h1.6M498.1 115.0h1.6M514.2 135.7h1.6M493.1 121.9h1.6M485.7 129.0h1.6M507.8 127.1h1.6M499.2 107.0h1.6M492.6 138.9h1.6M511.3 137.8h1.6M498.5 120.5h1.6M494.1 109.7h1.6M505.0 125.8h1.6M495.7 115.2h1.6M487.3 125.2h1.6M481.2 123.6h1.6M496.9 118.5h1.6M485.6 116.0h1.6M504.4 134.5h1.6M497.3 131.7h1.6M497.0 137.6h1.6M502.1 117.2h1.6M508.1 137.2h1.6M495.1 126.2h1.6M521.1 120.4h1.6M496.8 137.9h1.6M504.9 122.1h1.6M501.6 134.1h1.6M509.6 135.2h1.6M504.0 109.4h1.6M491.6 147.3h1.6M487.3 128.8h1.6M503.0 130.0h1.6M507.9 134.5h1.6M503.6 126.3h1.6M509.3 136.3h1.6M519.6 135.1h1.6M495.7 143.2h1.6M507.1 125.2h1.6M497.9 119.9h1.6M475.5 77.7h1.6M465.0 111.4h1.6M455.9 47.2h1.6M480.8 124.9h1.6M456.5 97.6h1.6M460.0 86.9h1.6M484.8 36.4h1.6M462.8 40.9h1.6M470.4 79.3h1.6M478.0 76.7h1.6M475.9 119.0h1.6M450.6 89.2h1.6M453.1 110.1h1.6M445.0 123.1h1.6M447.5 88.4h1.6M459.1 82.9h1.6M454.3 54.8h1.6M476.7 74.3h1.6M450.8 97.7h1.6M476.3 84.8h1.6M461.1 70.7h1.6M454.1 126.7h1.6M462.2 78.1h1.6M500.2 54.1h1.6M456.6 86.8h1.6M481.9 76.5h1.6M470.2 85.2h1.6M455.3 40.7h1.6M453.5 76.7h1.6M478.7 87.3h1.6M486.5 87.1h1.6M476.3 98.4h1.6M487.1 93.3h1.6M486.9 127.2h1.6M515.8 114.5h1.6M469.6 106.0h1.6M456.1 72.0h1.6M460.6 118.9h1.6M470.3 102.6h1.6M461.7 133.1h1.6M516.5 41.8h1.6M462.2 105.8h1.6M501.9 129.9h1.6M489.6 94.0h1.6M467.1 90.6h1.6M512.7 111.9h1.6M487.7 109.2h1.6M472.5 85.9h1.6M478.1 111.3h1.6M510.3 127.1h1.6M519.7 113.9h1.6M462.5 87.3h1.6M509.8 90.7h1.6M524.1 92.1h1.6M458.8 37.5h1.6M473.7 73.0h1.6M515.9 144.7h1.6M450.1 55.4h1.6M485.3 23.2h1.6M504.1 40.1h1.6M475.1 140.1h1.6M436.0 35.7h1.6"/><path stroke="#00b0ff" d="M98.0 183.1h1.6M99.6 171.9h1.6M103.9 180.8h1.6M106.7 179.6h1.6M101.7 181.8h1.6M115.7 173.5h1.6M97.4 188.3h1.6M115.3 175.6h1.6M111.1 174.3h1.6M109.2 168.3h1.6M81.7 184.0h1.6M98.0 186.6h1.6M101.4 185.4h1.6M111.0 179.1h1.6M129.4 171.2h1.6M97.2 185.4h1.6M101.6 181.3h1.6M108.6 184.1h1.6M111.8 170.0h1.6M104.1 175.9h1.6M100.0 184.7h1.6M94.6 183.0h1.6M105.9 175.8h1.6M103.2 171.2h1.6M106.8 178.4h1.6M107.8 184.1h1.6M104.2 179.0h1.6M98.7 183.1h1.6M123.6 173.7h1.6M101.0 172.6h1.6M106.8 179.5h1.6M91.1 192.2h1.6M110.1 179.5h1.6M113.3 175.4h1.6M112.5 181.6h1.6M101.7 189.0h1.6M97.6 189.4h1.6M114.4 165.7h1.6M116.2 170.2h1.6M133.8 162.0h1.6M120.6 168.4h1.6M152.1 131.0h1.6M132.0 151.4h1.6M125.1 173.5h1.6M133.6 156.9h1.6M137.7 148.4h1.6M137.6 149.6h1.6M169.0 140.9h1.6M139.0 131.6h1.6M122.0 168.5h1.6M133.1 154.9h1.6M137.2 160.5h1.6M158.9 144.6h1.6M156.9 133.3h1.6M161.0 148.0h1.6M157.5 156.2h1.6M123.1 160.7h1.6M143.4 143.5h1.6M149.9 143.6h1.6M123.8 167.6h1.6M157.9 139.8h1.6M160.2 152.5h1.6M145.5 147.0h1.6M161.3 151.4h1.6M149.0 152.4h1.6M133.6 156.5h1.6M163.2 144.4h1.6M137.6 166.1h1.6M132.1 154.1h1.6M162.3 144.4h1.6M122.2 162.5h1.6M150.1 138.7h1.6M154.7 153.8h1.6M154.7 144.1h1.6M138.9 159.1h1.6M138.9 155.9h1.6M133.9 164.0h1.6M145.6 139.4h1.6M120.4 166.7h1.6M134.3 179.1h1.6M135.1 165.3h1.6M127.0 162.5h1.6M147.0 136.0h1.6M117.2 178.8h1.6M164.4 144.9h1.6M107.5 178.3h1.6M130.8 163.1h1.6M156.5 137.0h1.6M152.0 143.2h1.6M126.3 147.3h1.6M132.5 148.8h1.6M146.8 157.6h1.6M129.8 163.3h1.6M163.7 132.7h1.6M145.0 124.3h1.6M149.8 155.8h1.6M135.5 165.5h1.6M136.3 140.9h1.6M133.6 176.2h1.6M151.3 38.8h1.6M196.5 115.8h1.6M95.6 162.8h1.6M470.5 139.6h1.6M481.1 141.9h1.6M470.9 125.3h1.6M483.2 136.8h1.6M462.0 144.7h1.6M478.2 145.9h1.6M466.3 133.5h1.6M483.1 129.2h1.6M470.8 126.6h1.6M476.8 143.3h1.6M470.5 136.7h1.6M467.7 143.5h1.6M485.4 140.9h1.6M488.2 134.5h1.6M469.3 138.8h1.6M475.2 132.7h1.6M477.0 143.3h1.6M480.2 132.2h1.6M489.0 143.6h1.6M462.4 139.1h1.6M464.5 143.3h1.6M471.8 140.0h1.6M487.2 133.1h1.6M467.4 134.2h1.6M486.0 140.0h1.6M481.4 134.2h1.6M467.8 136.4h1.6M488.6 145.8h1.6M478.5 124.4h1.6M490.6 146.5h1.6M482.9 144.3h1.6M457.7 141.8h1.6M463.8 145.3h1.6M479.7 141.9h1.6M477.7 137.6h1.6M472.9 123.4h1.6M492.8 137.9h1.6M477.5 132.3h1.6M480.6 134.6h1.6M492.7 144.3h1.6M388.0 142.5h1.6M370.0 143.7h1.6M381.5 143.3h1.6M373.8 143.4h1.6M375.9 143.3h1.6M370.3 143.1h1.6M390.0 143.2h1.6M368.0 143.5h1.6M379.1 142.1h1.6M389.5 144.7h1.6M377.9 143.3h1.6M407.1 143.5h1.6M371.3 169.2h1.6M393.1 148.5h1.6M374.0 147.6h1.6M420.3 142.0h1.6M426.5 143.9h1.6M421.9 146.3h1.6M430.0 143.4h1.6M420.5 143.0h1.6M413.4 147.2h1.6M420.5 143.4h1.6M423.6 141.8h1.6M487.1 146.5h1.6M478.2 143.6h1.6M476.8 144.3h1.6M455.6 147.3h1.6M490.1 141.8h1.6M486.9 145.7h1.6M456.1 146.9h1.6M486.1 144.1h1.6M481.5 145.1h1.6M484.0 147.8h1.6M486.1 144.4h1.6M485.2 146.4h1.6M442.2 144.4h1.6M370.7 155.8h1.6M377.5 163.8h1.6M435.7 157.5h1.6M418.4 167.0h1.6M418.0 196.9h1.6M438.9 186.0h1.6M437.6 148.0h1.6M472.8 88.4h1.6M460.8 95.2h1.6M449.4 76.7h1.6M485.7 139.3h1.6M462.2 135.4h1.6M474.7 129.9h1.6M443.9 88.4h1.6M471.9 36.4h1.6M454.6 90.6h1.6M483.6 82.9h1.6M475.5 46.2h1.6M463.7 117.8h1.6M386.0 40.6h1.6M408.9 53.7h1.6M432.4 104.3h1.6M462.3 140.3h1.6M451.6 84.1h1.6M464.0 116.0h1.6M463.2 99.0h1.6M472.8 123.7h1.6M459.6 115.9h1.6M453.6 110.6h1.6"/><path stroke="#ff6a00" d="M173.4 104.8h1.6M157.1 146.0h1.6M173.0 124.3h1.6M183.1 126.3h1.6M160.8 172.5h1.6M203.0 70.1h1.6M167.7 124.2h1.6M156.6 131.4h1.6M159.9 145.3h1.6M133.2 176.4h1.6M170.6 97.0h1.6M172.6 118.9h1.6M166.3 130.3h1.6M164.8 138.0h1.6M143.1 161.8h1.6M147.8 144.3h1.6M161.5 88.4h1.6M181.0 137.2h1.6M177.6 97.4h1.6M159.1 136.3h1.6M170.4 121.7h1.6M209.2 80.4h1.6M200.5 114.6h1.6M152.5 137.8h1.6M167.9 116.6h1.6M165.4 132.4h1.6M172.9 111.2h1.6M123.7 191.2h1.6M165.5 110.2h1.6M132.0 147.8h1.6M199.6 98.8h1.6M177.0 102.1h1.6M169.3 135.2h1.6M156.0 103.5h1.6M171.4 131.8h1.6M191.1 103.6h1.6M188.0 93.6h1.6M177.3 134.1h1.6M151.9 144.4h1.6M177.7 127.9h1.6M174.6 105.5h1.6M161.0 124.4h1.6M186.2 79.3h1.6M168.3 129.7h1.6M131.8 167.9h1.6M147.0 149.2h1.6M150.4 134.9h1.6M129.8 168.1h1.6M172.4 153.5h1.6M150.8 139.9h1.6M156.7 132.3h1.6M176.0 130.4h1.6M144.7 178.1h1.6M167.1 133.0h1.6M177.1 119.3h1.6M164.3 133.5h1.6M170.4 127.1h1.6M174.3 117.6h1.6M151.6 127.6h1.6M141.3 150.5h1.6M146.1 125.9h1.6M178.1 152.5h1.6M170.5 128.6h1.6M186.1 84.7h1.6M178.7 118.9h1.6M187.3 109.4h1.6M169.5 128.4h1.6M157.1 118.9h1.6M177.7 89.8h1.6M179.4 100.3h1.6M138.7 174.3h1.6M170.4 116.2h1.6M160.5 148.7h1.6M174.4 120.7h1.6M184.7 113.5h1.6M192.9 147.2h1.6M178.7 104.6h1.6M149.4 182.8h1.6M162.5 134.3h1.6M157.8 118.4h1.6M157.9 93.1h1.6M167.4 101.5h1.6M162.2 119.2h1.6M187.5 93.0h1.6M149.3 116.4h1.6M203.8 110.9h1.6M165.1 106.1h1.6M175.6 101.5h1.6M178.2 115.5h1.6M195.3 119.2h1.6M176.2 106.0h1.6M185.3 118.4h1.6M117.1 177.5h1.6M173.8 129.4h1.6M123.1 156.0h1.6M172.2 139.0h1.6M164.4 124.0h1.6M183.6 178.0h1.6M193.5 69.4h1.6M135.3 135.8h1.6M119.1 155.7h1.6M163.5 109.6h1.6M173.0 129.3h1.6M152.6 151.9h1.6M165.5 142.1h1.6M149.8 126.2h1.6M145.3 111.6h1.6M189.2 120.9h1.6M181.8 118.3h1.6M139.7 130.8h1.6M202.9 62.1h1.6M162.6 83.4h1.6M173.5 94.8h1.6M197.3 75.0h1.6M161.7 73.9h1.6M213.8 95.0h1.6M156.4 95.5h1.6M187.9 72.1h1.6M203.2 67.8h1.6M157.3 56.1h1.6M224.5 26.3h1.6M187.8 40.3h1.6M204.3 47.8h1.6M209.6 115.8h1.6M205.0 153.7h1.6M194.6 151.4h1.6M160.9 171.9h1.6M160.3 169.9h1.6M167.8 160.6h1.6M123.6 174.5h1.6M150.8 148.4h1.6M151.4 159.9h1.6M162.0 166.4h1.6M160.8 158.1h1.6M131.8 174.1h1.6M170.2 160.9h1.6M163.3 121.3h1.6M165.8 158.0h1.6M163.7 171.1h1.6M146.1 162.1h1.6M142.6 149.2h1.6M153.9 179.6h1.6M134.6 178.4h1.6M156.0 177.4h1.6M155.6 163.8h1.6M138.7 185.0h1.6M134.5 169.0h1.6M137.2 179.5h1.6M154.3 173.2h1.6M142.5 158.5h1.6M170.8 138.6h1.6M133.0 154.7h1.6M145.8 175.8h1.6M168.9 152.2h1.6M149.1 170.1h1.6M115.9 145.7h1.6M139.0 119.2h1.6M140.0 142.4h1.6M141.8 142.6h1.6M113.2 168.4h1.6M137.5 131.1h1.6M129.4 141.9h1.6M110.9 171.4h1.6M136.7 138.9h1.6M139.1 162.7h1.6M126.8 147.1h1.6M130.6 146.4h1.6M500.3 144.6h1.6M492.1 116.0h1.6M495.2 116.0h1.6M493.7 141.1h1.6M500.9 139.4h1.6M491.0 119.2h1.6M492.3 140.8h1.6M487.6 118.9h1.6M500.7 132.3h1.6M503.2 123.6h1.6M490.2 127.9h1.6M499.5 115.6h1.6M506.0 142.0h1.6M500.8 131.3h1.6M500.5 136.8h1.6M505.5 134.8h1.6M503.5 119.0h1.6M493.8 124.2h1.6M501.3 135.5h1.6M497.2 120.8h1.6M497.6 128.7h1.6M498.2 119.4h1.6M490.4 117.7h1.6M505.4 129.5h1.6M493.2 114.2h1.6M502.7 123.5h1.6M495.2 138.1h1.6M507.3 121.1h1.6M509.4 133.2h1.6M489.7 133.6h1.6M507.5 125.8h1.6M501.0 130.1h1.6M508.1 137.2h1.6M522.1 130.2h1.6M507.8 133.3h1.6M488.4 128.2h1.6M527.3 103.7h1.6M476.4 119.9h1.6M479.9 117.8h1.6M510.8 117.0h1.6M493.7 133.3h1.6M504.2 116.9h1.6M503.7 121.5h1.6M453.8 56.3h1.6M478.6 130.8h1.6M457.1 83.4h1.6M452.0 101.0h1.6M476.5 83.3h1.6M463.9 103.7h1.6M469.6 78.1h1.6M469.6 79.7h1.6M478.3 33.4h1.6M465.5 119.5h1.6M455.6 104.8h1.6M465.8 121.7h1.6M479.8 84.8h1.6M456.7 97.0h1.6M475.7 103.9h1.6M472.1 145.1h1.6M447.8 46.5h1.6M450.9 108.0h1.6M481.2 104.4h1.6M491.7 90.4h1.6M457.6 145.4h1.6M466.5 32.6h1.6M459.2 125.3h1.6M462.2 75.4h1.6M467.7 86.6h1.6M448.0 85.6h1.6M474.8 87.0h1.6M479.2 98.5h1.6M496.6 71.3h1.6M488.8 123.1h1.6M498.8 97.1h1.6M481.5 85.3h1.6M498.7 91.3h1.6M475.3 102.3h1.6M460.7 93.8h1.6M459.5 71.7h1.6M455.1 106.7h1.6M453.5 110.5h1.6M507.6 111.4h1.6M480.8 131.5h1.6M499.2 76.9h1.6M473.2 122.8h1.6M486.0 101.3h1.6M474.2 80.4h1.6M471.9 100.0h1.6M508.6 111.5h1.6M481.8 91.0h1.6M475.4 98.5h1.6M498.1 98.4h1.6M483.3 73.9h1.6M479.0 97.2h1.6M487.0 99.8h1.6M452.8 88.5h1.6M493.8 40.3h1.6M500.2 106.2h1.6M452.4 33.6h1.6M459.5 42.8h1.6M504.4 48.3h1.6M443.4 36.6h1.6M415.7 81.3h1.6M501.5 150.6h1.6"/><path stroke="#00b0ff" d="M115.4 184.9h1.6M104.3 187.7h1.6M90.7 189.0h1.6M111.1 182.7h1.6M108.7 183.0h1.6M107.3 182.3h1.6M104.6 175.8h1.6M93.7 177.5h1.6M113.9 179.0h1.6M118.2 176.7h1.6M90.9 181.9h1.6M106.9 176.0h1.6M93.8 176.7h1.6M109.6 181.3h1.6M102.2 171.7h1.6M101.0 173.4h1.6M105.1 183.6h1.6M107.3 174.6h1.6M96.4 189.1h1.6M83.1 192.9h1.6M106.6 177.7h1.6M94.9 182.9h1.6M107.3 180.7h1.6M104.8 182.7h1.6M105.0 176.8h1.6M104.2 187.4h1.6M94.7 183.4h1.6M104.2 181.9h1.6M109.4 175.4h1.6M120.4 171.2h1.6M103.8 179.6h1.6M106.2 174.6h1.6M97.0 186.7h1.6M115.0 175.7h1.6M126.0 170.0h1.6M97.2 178.2h1.6M112.5 176.2h1.6M102.2 184.9h1.6M141.3 146.1h1.6M158.4 131.4h1.6M151.0 140.0h1.6M131.3 160.7h1.6M123.6 162.5h1.6M132.8 155.0h1.6M129.3 159.8h1.6M150.1 148.7h1.6M154.3 144.4h1.6M148.8 155.2h1.6M136.3 149.1h1.6M129.9 159.6h1.6M158.3 135.2h1.6M141.3 150.4h1.6M157.5 137.4h1.6M133.4 155.4h1.6M122.4 181.3h1.6M151.6 148.8h1.6M144.2 147.4h1.6M128.7 171.9h1.6M115.4 157.6h1.6M156.4 132.2h1.6M143.7 139.6h1.6M146.0 144.0h1.6M125.9 158.1h1.6M121.0 160.1h1.6M105.7 164.9h1.6M140.0 149.0h1.6M141.1 152.2h1.6M122.9 173.0h1.6M117.2 189.7h1.6M143.4 150.1h1.6M153.9 148.2h1.6M151.3 137.2h1.6M143.6 154.3h1.6M132.5 153.0h1.6M160.9 129.4h1.6M137.1 143.7h1.6M155.2 132.1h1.6M124.3 155.8h1.6M141.1 159.0h1.6M117.3 179.1h1.6M128.4 155.6h1.6M136.6 166.9h1.6M146.3 158.0h1.6M141.7 144.9h1.6M147.7 153.6h1.6M150.3 147.4h1.6M142.1 162.3h1.6M141.6 161.6h1.6M154.4 143.1h1.6M148.8 152.3h1.6M155.5 146.7h1.6M119.5 181.3h1.6M133.8 159.5h1.6M133.7 160.4h1.6M145.5 164.6h1.6M139.4 156.4h1.6M121.4 177.9h1.6M136.9 56.3h1.6M151.9 131.6h1.6M189.0 104.8h1.6M101.7 163.9h1.6M473.7 132.1h1.6M483.7 137.1h1.6M473.0 130.1h1.6M478.1 138.7h1.6M476.2 131.9h1.6M483.2 140.5h1.6M476.5 138.4h1.6M473.5 125.5h1.6M477.2 125.4h1.6M491.4 137.5h1.6M462.8 134.6h1.6M479.5 136.0h1.6M476.1 125.4h1.6M471.3 144.1h1.6M465.2 141.8h1.6M489.8 145.0h1.6M473.4 137.6h1.6M488.9 131.0h1.6M486.6 136.5h1.6M475.5 126.0h1.6M464.9 133.8h1.6M470.1 134.2h1.6M480.1 132.0h1.6M478.2 145.5h1.6M462.8 143.3h1.6M494.5 143.6h1.6M479.5 131.6h1.6M466.1 140.8h1.6M479.7 136.8h1.6M477.0 142.1h1.6M492.8 145.6h1.6M486.6 147.1h1.6M464.3 136.6h1.6M474.3 117.0h1.6M481.9 144.2h1.6M477.1 124.1h1.6M462.5 132.7h1.6M473.0 134.8h1.6M484.3 139.0h1.6M469.0 144.2h1.6M477.2 137.9h1.6M482.5 131.7h1.6M469.4 130.0h1.6M382.4 142.5h1.6M390.2 142.9h1.6M387.4 142.5h1.6M380.7 143.4h1.6M380.3 143.8h1.6M385.1 143.0h1.6M378.5 144.4h1.6M378.8 142.6h1.6M374.7 142.9h1.6M382.5 142.8h1.6M376.7 144.4h1.6M366.8 144.3h1.6M398.8 143.2h1.6M379.1 149.0h1.6M420.0 144.0h1.6M417.7 149.2h1.6M439.5 143.9h1.6M415.4 143.7h1.6M420.0 142.1h1.6M439.2 147.3h1.6M437.4 143.4h1.6M439.2 146.8h1.6M417.2 144.9h1.6M456.0 142.4h1.6M463.9 144.0h1.6M483.3 143.8h1.6M454.3 143.9h1.6M449.7 146.1h1.6M482.3 145.2h1.6M451.4 141.9h1.6M460.0 142.7h1.6M479.5 142.3h1.6M458.6 147.0h1.6M452.5 143.1h1.6M448.2 145.6h1.6M452.0 142.0h1.6M452.9 146.8h1.6M476.2 144.3h1.6M479.1 144.7h1.6M370.2 154.4h1.6M363.4 147.6h1.6M368.1 171.2h1.6M367.9 153.9h1.6M366.5 143.9h1.6M368.1 149.7h1.6M354.2 171.1h1.6M422.5 151.7h1.6M431.0 149.2h1.6M413.2 163.5h1.6M416.9 164.6h1.6M429.2 166.6h1.6M443.2 155.0h1.6M439.9 153.4h1.6M437.5 146.8h1.6M418.3 150.5h1.6M438.6 159.2h1.6M442.4 150.1h1.6M456.7 155.4h1.6M466.6 164.9h1.6M469.0 170.6h1.6M477.4 112.4h1.6M449.1 124.3h1.6M476.9 108.3h1.6M478.7 96.5h1.6M463.1 83.4h1.6M450.2 109.6h1.6M461.9 139.0h1.6M472.3 65.8h1.6M444.7 56.1h1.6M460.2 97.4h1.6M467.8 99.6h1.6M470.6 90.5h1.6M458.4 89.5h1.6M467.1 116.2h1.6M370.9 118.3h1.6M445.8 131.1h1.6M466.9 103.9h1.6M452.7 100.5h1.6M441.8 125.4h1.6M458.0 117.3h1.6M459.3 126.8h1.6"/><path stroke="#ff6a00" d="M175.6 79.0h1.6M148.0 133.6h1.6M179.7 123.3h1.6M171.5 129.7h1.6M187.0 109.0h1.6M160.0 118.4h1.6M152.8 128.4h1.6M151.1 133.9h1.6M194.5 104.7h1.6M152.1 149.6h1.6M136.8 151.7h1.6M169.5 128.0h1.6M171.1 157.2h1.6M167.4 139.9h1.6M179.0 112.1h1.6M139.2 146.2h1.6M155.1 121.6h1.6M160.4 135.7h1.6M144.4 183.0h1.6M191.8 120.4h1.6M176.7 118.3h1.6M174.8 111.4h1.6M174.0 127.6h1.6M166.8 105.8h1.6M183.8 70.8h1.6M192.3 136.7h1.6M171.8 138.4h1.6M205.2 107.2h1.6M153.4 131.2h1.6M140.4 152.3h1.6M175.7 127.6h1.6M160.7 125.3h1.6M169.6 137.2h1.6M159.4 117.4h1.6M174.2 106.3h1.6M160.5 129.3h1.6M152.8 134.2h1.6M189.5 117.0h1.6M170.7 107.4h1.6M159.6 141.1h1.6M170.9 153.3h1.6M163.6 130.9h1.6M168.5 115.6h1.6M189.4 114.8h1.6M157.7 142.8h1.6M191.2 88.2h1.6M184.2 114.8h1.6M169.1 115.4h1.6M162.8 128.8h1.6M184.2 88.9h1.6M167.7 135.7h1.6M132.1 142.3h1.6M189.8 124.2h1.6M178.6 159.4h1.6M179.1 80.4h1.6M168.1 143.0h1.6M199.2 88.3h1.6M191.8 80.7h1.6M152.6 128.1h1.6M151.2 123.0h1.6M181.8 127.7h1.6M176.2 118.0h1.6M146.3 118.1h1.6M162.0 121.6h1.6M206.1 134.7h1.6M141.2 75.7h1.6M189.5 108.1h1.6M189.3 92.3h1.6M193.2 133.9h1.6M124.4 135.8h1.6M177.7 109.0h1.6M182.6 87.6h1.6M171.1 149.0h1.6M164.5 95.1h1.6M158.4 86.6h1.6M187.3 92.5h1.6M191.9 134.3h1.6M157.6 139.1h1.6M151.6 149.3h1.6M147.7 116.8h1.6M194.2 89.4h1.6M137.6 173.7h1.6M172.3 121.7h1.6M116.4 130.8h1.6M174.8 157.0h1.6M124.3 187.9h1.6M177.6 154.8h1.6M181.1 118.3h1.6M191.3 93.6h1.6M208.8 128.6h1.6M189.2 115.0h1.6M208.6 113.1h1.6M174.1 62.3h1.6M171.7 96.9h1.6M122.6 182.5h1.6M166.9 115.5h1.6M164.3 119.5h1.6M176.2 168.8h1.6M215.0 88.3h1.6M177.3 98.2h1.6M135.4 148.6h1.6M150.0 110.1h1.6M161.8 136.5h1.6M169.9 92.9h1.6M182.8 103.3h1.6M132.7 109.2h1.6M166.8 150.2h1.6M135.4 156.3h1.6M144.1 120.3h1.6M161.5 119.6h1.6M149.6 84.7h1.6M167.4 130.4h1.6M154.5 108.2h1.6M162.8 105.2h1.6M145.5 154.3h1.6M145.0 86.6h1.6M157.2 119.3h1.6M186.3 147.6h1.6M134.8 126.1h1.6M218.5 121.2h1.6M190.7 153.4h1.6M150.6 134.9h1.6M199.3 78.1h1.6M173.3 97.1h1.6M172.4 105.7h1.6M184.1 113.9h1.6M161.1 124.8h1.6M157.7 154.1h1.6M207.0 80.3h1.6M185.3 138.4h1.6M144.8 135.9h1.6M163.6 182.4h1.6M159.7 106.9h1.6M180.9 155.0h1.6M187.4 139.6h1.6M171.9 127.6h1.6M183.7 90.5h1.6M192.4 79.4h1.6M213.0 80.2h1.6M222.7 68.1h1.6M205.3 91.0h1.6M221.8 65.4h1.6M169.1 41.6h1.6M219.5 146.3h1.6M214.0 162.5h1.6M139.3 159.2h1.6M146.5 154.4h1.6M167.2 162.5h1.6M158.0 142.5h1.6M139.0 178.9h1.6M144.0 164.5h1.6M139.6 173.8h1.6M122.8 169.8h1.6M140.8 167.5h1.6M156.4 157.6h1.6M132.7 190.0h1.6M147.4 167.3h1.6M171.3 154.9h1.6M154.3 168.2h1.6M137.7 172.3h1.6M174.4 160.5h1.6M101.3 186.3h1.6M168.0 170.8h1.6M141.3 177.8h1.6M135.0 150.0h1.6M121.1 145.1h1.6M127.7 161.0h1.6M138.6 128.9h1.6M115.3 163.7h1.6M111.7 161.1h1.6M137.4 139.1h1.6M138.9 131.3h1.6M134.2 143.7h1.6M496.8 139.8h1.6M495.5 127.0h1.6M512.1 134.3h1.6M498.9 104.2h1.6M495.0 145.5h1.6M496.8 114.7h1.6M500.9 136.1h1.6M493.4 124.2h1.6M501.7 134.2h1.6M496.4 114.0h1.6M503.2 120.2h1.6M499.9 128.7h1.6M513.5 127.7h1.6M495.2 119.3h1.6M482.7 123.2h1.6M491.5 118.7h1.6M500.1 129.0h1.6M494.5 129.1h1.6M499.5 138.8h1.6M498.0 139.5h1.6M498.9 133.6h1.6M494.0 116.6h1.6M502.1 122.4h1.6M516.8 137.1h1.6M496.8 139.1h1.6M482.2 114.6h1.6M509.2 116.0h1.6M507.3 131.1h1.6M516.4 138.5h1.6M519.7 142.4h1.6M513.1 137.7h1.6M509.9 141.4h1.6M509.0 143.4h1.6M506.8 128.6h1.6M511.6 130.3h1.6M521.5 136.5h1.6M505.2 120.9h1.6M480.2 119.8h1.6M491.0 126.8h1.6M508.7 111.7h1.6M463.4 123.6h1.6M456.9 115.6h1.6M469.9 104.8h1.6M479.3 122.9h1.6M447.7 107.6h1.6M455.4 118.3h1.6M472.9 70.2h1.6M450.7 84.4h1.6M458.8 100.3h1.6M464.7 103.4h1.6M466.6 94.5h1.6M462.5 89.5h1.6M469.5 116.1h1.6M476.0 89.3h1.6M473.3 75.5h1.6M463.1 78.5h1.6M477.3 98.8h1.6M455.6 78.2h1.6M449.4 44.8h1.6M472.5 112.7h1.6M459.3 109.0h1.6M453.3 112.0h1.6M469.3 93.6h1.6M474.7 100.2h1.6M470.6 112.5h1.6M453.4 81.3h1.6M459.1 68.5h1.6M488.6 73.1h1.6M465.2 94.0h1.6M463.4 79.2h1.6M465.9 74.4h1.6M448.4 101.4h1.6M447.7 123.4h1.6M457.1 125.4h1.6M464.0 126.6h1.6M489.9 67.5h1.6M461.9 93.9h1.6M455.0 102.5h1.6M475.9 114.6h1.6M474.1 101.8h1.6M492.4 72.5h1.6M478.2 47.4h1.6M466.3 76.3h1.6M466.9 133.3h1.6M508.3 107.6h1.6M468.7 99.8h1.6M472.0 57.9h1.6M489.3 118.1h1.6M463.7 128.0h1.6M497.7 94.0h1.6M458.2 97.4h1.6M492.6 115.2h1.6M480.9 92.5h1.6M478.2 105.3h1.6M466.3 77.3h1.6M509.1 133.6h1.6M467.4 101.1h1.6M484.9 40.1h1.6M485.9 125.5h1.6M496.8 119.2h1.6M469.3 52.9h1.6M462.6 115.2h1.6M478.0 70.1h1.6M467.7 29.0h1.6M448.2 20.1h1.6M500.0 21.0h1.6M494.4 24.2h1.6M451.4 156.0h1.6"/><path stroke="#00b0ff" d="M102.5 177.4h1.6M120.6 179.6h1.6M104.6 180.2h1.6M109.3 182.7h1.6M107.3 181.5h1.6M107.3 177.1h1.6M92.0 189.7h1.6M105.8 176.8h1.6M115.3 172.3h1.6M104.9 177.4h1.6M102.6 184.0h1.6M122.1 179.3h1.6M92.7 184.7h1.6M105.3 173.6h1.6M102.8 174.1h1.6M89.1 190.8h1.6M114.5 172.5h1.6M102.4 184.4h1.6M104.8 181.3h1.6M98.9 172.3h1.6M99.0 188.8h1.6M102.5 182.0h1.6M105.3 174.9h1.6M96.8 178.0h1.6M119.5 185.8h1.6M101.4 185.6h1.6M98.8 178.7h1.6M106.6 185.3h1.6M88.1 178.2h1.6M93.7 193.7h1.6M99.5 181.0h1.6M103.8 173.6h1.6M110.9 181.0h1.6M110.1 177.0h1.6M120.0 174.2h1.6M109.9 189.6h1.6M105.1 171.5h1.6M102.8 176.3h1.6M107.8 175.6h1.6M122.1 181.0h1.6M103.8 177.9h1.6M113.9 177.9h1.6M110.0 178.6h1.6M142.4 151.0h1.6M141.9 154.2h1.6M122.8 161.3h1.6M117.4 177.2h1.6M125.5 160.4h1.6M153.6 156.1h1.6M154.8 143.3h1.6M138.4 150.8h1.6M117.6 183.8h1.6M157.9 146.4h1.6M147.9 148.7h1.6M139.5 162.2h1.6M134.5 161.1h1.6M145.6 152.0h1.6M125.2 157.6h1.6M150.5 152.8h1.6M133.6 148.0h1.6M128.0 160.8h1.6M134.5 163.6h1.6M143.5 132.7h1.6M138.3 157.3h1.6M134.8 144.1h1.6M114.5 174.0h1.6M139.6 162.1h1.6M126.0 164.8h1.6M145.2 149.7h1.6M129.1 151.8h1.6M144.3 132.2h1.6M152.1 145.7h1.6M154.3 145.1h1.6M160.6 132.8h1.6M140.9 154.6h1.6M153.4 140.9h1.6M124.5 160.9h1.6M138.5 140.7h1.6M133.1 168.4h1.6M109.1 175.2h1.6M128.2 152.3h1.6M117.7 165.6h1.6M136.5 160.8h1.6M129.3 162.8h1.6M129.6 169.4h1.6M150.8 144.0h1.6M158.6 143.4h1.6M148.8 157.4h1.6M124.8 174.0h1.6M156.2 137.8h1.6M141.0 145.5h1.6M146.4 153.9h1.6M140.9 154.1h1.6M149.1 153.9h1.6M125.7 163.6h1.6M136.9 153.9h1.6M126.2 171.0h1.6M117.3 176.9h1.6M103.3 189.4h1.6M141.1 137.6h1.6M168.8 101.9h1.6M187.0 94.2h1.6M150.0 117.0h1.6M128.1 156.1h1.6M100.7 154.7h1.6M480.4 144.3h1.6M482.6 140.7h1.6M472.9 130.9h1.6M466.9 131.7h1.6M481.3 136.2h1.6M465.2 142.1h1.6M468.9 139.2h1.6M481.6 138.7h1.6M471.9 133.9h1.6M484.0 129.7h1.6M481.6 142.8h1.6M478.4 121.0h1.6M467.2 147.2h1.6M487.7 141.8h1.6M473.9 130.2h1.6M486.3 141.6h1.6M465.5 133.4h1.6M466.1 139.2h1.6M483.2 142.0h1.6M473.4 140.4h1.6M476.1 135.7h1.6M487.1 146.5h1.6M481.3 136.3h1.6M473.6 124.6h1.6M476.6 136.0h1.6M475.2 131.0h1.6M473.7 128.0h1.6M474.1 141.0h1.6M491.4 145.6h1.6M487.9 144.0h1.6M487.3 121.5h1.6M490.1 133.6h1.6M484.9 124.7h1.6M486.8 136.9h1.6M484.1 128.8h1.6M475.6 146.7h1.6M478.8 137.6h1.6M479.3 128.3h1.6M479.5 143.0h1.6M476.7 138.9h1.6M476.1 141.8h1.6M476.4 145.4h1.6M475.1 134.1h1.6M374.5 143.2h1.6M386.2 143.5h1.6M363.9 142.9h1.6M387.8 143.1h1.6M364.5 143.0h1.6M379.7 143.8h1.6M370.4 143.9h1.6M372.9 144.1h1.6M409.4 142.5h1.6M407.0 143.5h1.6M397.2 143.7h1.6M381.3 148.4h1.6M382.8 151.9h1.6M412.0 143.6h1.6M425.5 144.6h1.6M415.6 143.4h1.6M431.4 145.9h1.6M416.0 146.6h1.6M417.2 142.8h1.6M420.9 143.2h1.6M428.4 150.2h1.6M413.8 145.3h1.6M431.2 144.5h1.6M424.8 145.6h1.6M414.5 145.2h1.6M424.0 145.2h1.6M463.2 143.1h1.6M449.9 143.8h1.6M459.8 143.9h1.6M441.5 141.7h1.6M466.8 143.2h1.6M441.1 148.7h1.6M460.8 144.8h1.6M470.4 140.9h1.6M487.2 140.8h1.6M491.2 142.3h1.6M460.3 141.7h1.6M369.2 145.6h1.6M367.8 155.2h1.6M361.2 145.7h1.6M370.9 152.1h1.6M368.8 149.4h1.6M361.6 153.1h1.6M354.4 170.2h1.6M411.1 148.6h1.6M428.1 166.5h1.6M416.2 190.0h1.6M443.7 164.2h1.6M435.0 150.3h1.6M460.0 85.1h1.6M465.8 101.0h1.6M466.1 103.8h1.6M451.7 79.2h1.6M456.0 116.6h1.6M449.4 93.0h1.6M474.4 49.6h1.6M457.7 94.9h1.6M472.4 37.3h1.6M464.9 107.5h1.6M460.8 120.7h1.6M494.3 92.3h1.6M358.0 117.2h1.6M470.4 110.7h1.6M460.2 105.3h1.6M468.2 105.1h1.6M438.3 110.7h1.6M464.3 105.1h1.6M444.9 88.9h1.6"/><path stroke="#ff6a00" d="M145.6 130.5h1.6M189.7 93.0h1.6M159.4 152.0h1.6M146.5 108.4h1.6M180.3 95.2h1.6M160.0 98.6h1.6M176.1 108.1h1.6M172.0 104.6h1.6M134.3 163.0h1.6M168.8 117.4h1.6M186.6 129.3h1.6M170.6 116.0h1.6M189.7 82.4h1.6M177.8 129.2h1.6M154.0 158.6h1.6M128.1 169.3h1.6M160.8 132.5h1.6M167.8 120.8h1.6M141.5 122.0h1.6M183.3 108.0h1.6M192.5 65.9h1.6M159.7 141.6h1.6M159.5 142.7h1.6M145.3 157.2h1.6M188.8 121.7h1.6M139.6 174.2h1.6M164.7 122.8h1.6M202.8 96.9h1.6M170.2 113.9h1.6M186.1 104.2h1.6M171.9 115.0h1.6M164.3 98.2h1.6M147.8 161.2h1.6M160.2 147.8h1.6M154.8 142.5h1.6M134.5 148.6h1.6M139.7 165.3h1.6M158.2 159.3h1.6M174.5 127.0h1.6M163.7 119.0h1.6M172.7 95.0h1.6M169.6 114.4h1.6M173.4 79.9h1.6M187.5 102.3h1.6M133.4 155.3h1.6M170.3 139.3h1.6M153.4 159.0h1.6M155.3 128.9h1.6M159.6 139.7h1.6M164.1 105.7h1.6M162.2 121.9h1.6M193.9 114.0h1.6M170.2 129.7h1.6M155.3 149.7h1.6M175.7 124.9h1.6M202.9 90.5h1.6M181.1 113.6h1.6M132.6 168.8h1.6M157.2 95.1h1.6M170.4 137.5h1.6M180.4 127.6h1.6M174.0 149.5h1.6M184.8 134.5h1.6M179.3 101.3h1.6M150.4 113.0h1.6M210.6 166.4h1.6M154.9 129.7h1.6M169.7 141.1h1.6M178.5 90.2h1.6M195.8 87.7h1.6M151.5 96.8h1.6M148.7 130.6h1.6M170.2 142.5h1.6M177.1 108.2h1.6M201.1 91.1h1.6M202.3 89.0h1.6M163.8 150.0h1.6M140.9 94.0h1.6M151.3 107.3h1.6M203.6 99.6h1.6M145.2 133.4h1.6M180.2 94.1h1.6M163.9 141.3h1.6M161.9 141.0h1.6M161.0 150.6h1.6M169.3 90.4h1.6M183.9 120.1h1.6M193.9 106.3h1.6M188.5 109.6h1.6M117.0 136.5h1.6M183.4 132.5h1.6M162.3 140.3h1.6M154.4 129.1h1.6M160.2 153.7h1.6M121.8 128.3h1.6M163.5 109.1h1.6M217.3 92.6h1.6M191.6 156.2h1.6M173.4 124.3h1.6M193.0 82.5h1.6M153.3 171.5h1.6M146.2 184.6h1.6M170.2 130.3h1.6M217.7 105.2h1.6M168.8 119.7h1.6M191.3 27.4h1.6M207.1 55.9h1.6M152.5 73.1h1.6M202.8 79.3h1.6M151.5 67.4h1.6M171.9 90.7h1.6M183.3 82.1h1.6M165.6 64.5h1.6M162.7 95.6h1.6M193.7 64.7h1.6M157.8 56.0h1.6M195.5 111.5h1.6M152.5 53.4h1.6M205.6 38.2h1.6M223.0 144.9h1.6M204.1 163.1h1.6M181.2 141.0h1.6M223.2 144.2h1.6M213.4 158.2h1.6M164.0 149.5h1.6M164.3 146.3h1.6M160.7 158.1h1.6M165.2 140.3h1.6M145.2 172.0h1.6M175.4 144.0h1.6M165.6 151.1h1.6M144.1 176.4h1.6M134.6 187.4h1.6M164.3 160.1h1.6M144.5 171.2h1.6M140.8 153.4h1.6M161.3 166.7h1.6M162.4 154.0h1.6M142.7 152.9h1.6M113.3 165.3h1.6M125.1 149.1h1.6M126.7 124.4h1.6M140.9 116.5h1.6M130.5 150.7h1.6M120.6 130.7h1.6M105.5 141.8h1.6M496.5 114.6h1.6M496.9 128.8h1.6M499.7 116.0h1.6M492.0 140.3h1.6M500.2 133.8h1.6M497.6 142.8h1.6M502.6 123.4h1.6M515.8 134.9h1.6M506.4 124.9h1.6M496.9 131.8h1.6M490.1 108.2h1.6M490.0 135.3h1.6M493.6 143.1h1.6M498.5 134.7h1.6M500.5 129.9h1.6M497.2 132.0h1.6M497.4 130.3h1.6M487.3 129.4h1.6M516.9 143.5h1.6M487.8 130.9h1.6M499.7 131.6h1.6M488.5 120.9h1.6M492.9 136.3h1.6M498.5 137.2h1.6M498.3 116.0h1.6M505.6 115.5h1.6M496.4 119.6h1.6M492.8 137.0h1.6M503.0 118.1h1.6M495.7 118.1h1.6M498.6 146.2h1.6M496.5 140.9h1.6M496.3 129.6h1.6M509.5 138.3h1.6M494.1 129.7h1.6M495.1 142.4h1.6M521.2 142.1h1.6M500.4 139.5h1.6M521.7 123.9h1.6M514.2 137.5h1.6M515.5 131.7h1.6M528.8 127.8h1.6M507.1 143.3h1.6M510.1 137.8h1.6M491.3 104.3h1.6M451.9 135.4h1.6M458.7 116.7h1.6M466.2 71.0h1.6M470.1 59.2h1.6M473.5 107.4h1.6M474.8 44.0h1.6M458.6 132.9h1.6M455.5 60.7h1.6M471.3 38.1h1.6M460.0 58.9h1.6M464.4 113.8h1.6M460.7 85.0h1.6M488.8 67.5h1.6M469.1 72.0h1.6M461.2 100.5h1.6M467.7 39.8h1.6M475.2 109.2h1.6M485.6 69.6h1.6M477.7 62.6h1.6M469.5 83.9h1.6M464.1 67.5h1.6M448.4 57.1h1.6M455.0 87.3h1.6M452.2 119.6h1.6M469.3 113.4h1.6M454.8 100.1h1.6M463.2 64.2h1.6M448.9 114.3h1.6M472.8 53.0h1.6M453.8 43.4h1.6M469.5 58.0h1.6M474.1 39.4h1.6M495.6 83.2h1.6M451.3 111.6h1.6M493.2 78.6h1.6M463.6 87.8h1.6M484.6 93.8h1.6M443.3 93.4h1.6M516.1 81.0h1.6M495.6 60.0h1.6M480.8 115.9h1.6M447.6 117.9h1.6M510.7 141.0h1.6M462.3 87.4h1.6M478.1 111.5h1.6M461.4 121.7h1.6M495.8 71.3h1.6M504.0 106.3h1.6M497.3 107.5h1.6M439.1 114.6h1.6M491.3 94.8h1.6M457.9 99.8h1.6M464.4 113.3h1.6M457.4 36.4h1.6M503.7 142.8h1.6M461.0 77.6h1.6M499.0 91.2h1.6M503.2 21.2h1.6M494.6 38.1h1.6M508.6 187.1h1.6"/><path stroke="#00b0ff" d="M101.5 179.9h1.6M112.1 182.3h1.6M113.3 185.4h1.6M114.7 181.2h1.6M91.6 184.0h1.6M90.6 173.7h1.6M117.5 177.1h1.6M103.1 177.1h1.6M95.0 189.4h1.6M107.8 181.6h1.6M95.8 180.6h1.6M105.5 172.3h1.6M96.8 179.7h1.6M92.7 191.4h1.6M96.8 189.3h1.6M108.3 169.2h1.6M100.4 171.7h1.6M101.5 182.7h1.6M104.7 180.4h1.6M114.1 177.9h1.6M99.2 181.1h1.6M118.3 186.7h1.6M99.2 183.0h1.6M100.8 182.8h1.6M118.0 172.1h1.6M104.1 169.2h1.6M123.0 169.4h1.6M109.3 180.7h1.6M109.7 179.8h1.6M117.6 181.4h1.6M106.1 187.0h1.6M88.7 181.6h1.6M91.6 172.4h1.6M108.8 181.9h1.6M114.5 166.4h1.6M103.2 178.3h1.6M103.8 175.4h1.6M120.5 168.1h1.6M103.7 180.2h1.6M105.1 182.4h1.6M105.8 182.0h1.6M107.2 184.7h1.6M115.9 180.4h1.6M123.4 168.4h1.6M116.4 170.1h1.6M92.0 182.9h1.6M134.9 161.1h1.6M112.7 180.3h1.6M131.0 168.8h1.6M145.9 162.9h1.6M145.5 146.6h1.6M131.0 148.5h1.6M134.1 159.2h1.6M128.2 163.1h1.6M137.1 161.1h1.6M131.0 164.7h1.6M154.7 137.5h1.6M125.5 167.4h1.6M152.3 145.1h1.6M141.2 143.2h1.6M134.2 163.8h1.6M116.4 170.3h1.6M156.9 139.3h1.6M134.5 149.5h1.6M147.1 142.0h1.6M154.6 139.0h1.6M149.4 150.1h1.6M115.5 175.9h1.6M133.8 165.7h1.6M143.4 158.6h1.6M111.9 186.4h1.6M140.4 156.0h1.6M145.0 149.5h1.6M157.1 140.1h1.6M127.3 165.9h1.6M163.3 138.0h1.6M123.6 164.8h1.6M133.6 171.7h1.6M142.4 158.1h1.6M152.5 139.0h1.6M136.9 166.7h1.6M150.2 145.9h1.6M138.2 157.8h1.6M124.8 181.7h1.6M135.4 157.6h1.6M112.1 181.3h1.6M151.8 139.4h1.6M136.9 150.4h1.6M157.4 131.1h1.6M133.9 159.4h1.6M124.5 168.8h1.6M145.1 165.4h1.6M121.0 177.3h1.6M146.7 150.8h1.6M146.5 164.4h1.6M123.8 180.9h1.6M149.6 146.5h1.6M158.7 141.1h1.6M149.7 146.7h1.6M155.2 136.4h1.6M156.5 140.2h1.6M88.7 157.1h1.6M487.2 130.2h1.6M464.3 139.3h1.6M471.1 144.8h1.6M471.4 143.8h1.6M478.2 129.4h1.6M458.5 136.9h1.6M480.9 137.4h1.6M480.0 126.4h1.6M476.6 132.3h1.6M486.8 141.5h1.6M487.3 128.1h1.6M481.2 143.4h1.6M484.0 130.9h1.6M481.7 127.8h1.6M477.3 133.8h1.6M463.6 136.5h1.6M473.8 143.0h1.6M473.7 136.1h1.6M489.3 131.1h1.6M485.2 143.0h1.6M485.9 134.7h1.6M477.1 129.6h1.6M480.7 134.9h1.6M473.4 137.6h1.6M483.1 136.4h1.6M474.9 133.3h1.6M473.8 143.7h1.6M475.4 135.1h1.6M481.4 125.1h1.6M479.6 143.6h1.6M478.7 141.7h1.6M478.4 137.7h1.6M471.3 129.7h1.6M392.2 142.8h1.6M374.7 143.4h1.6M388.2 143.3h1.6M367.7 144.3h1.6M365.5 142.8h1.6M380.7 142.4h1.6M387.4 143.1h1.6M370.2 143.0h1.6M384.6 143.7h1.6M375.4 142.4h1.6M392.8 151.9h1.6M382.5 154.1h1.6M425.2 144.3h1.6M427.8 140.9h1.6M427.1 144.7h1.6M427.5 145.7h1.6M431.1 140.0h1.6M427.1 149.3h1.6M434.9 147.1h1.6M427.2 140.7h1.6M428.8 145.4h1.6M417.4 147.0h1.6M430.7 141.0h1.6M427.7 145.3h1.6M412.8 144.3h1.6M413.0 144.4h1.6M488.5 144.7h1.6M467.3 143.3h1.6M458.3 144.0h1.6M455.5 146.9h1.6M449.8 140.9h1.6M460.9 146.4h1.6M488.5 143.4h1.6M485.2 143.8h1.6M470.0 144.3h1.6M445.0 142.5h1.6M455.5 144.6h1.6M487.9 142.1h1.6M451.0 143.6h1.6M366.7 153.3h1.6M368.2 156.3h1.6M370.3 163.6h1.6M366.6 146.9h1.6M392.0 159.0h1.6M379.6 177.0h1.6M379.1 152.3h1.6M432.9 169.8h1.6M420.8 150.7h1.6M436.0 171.7h1.6M441.4 163.3h1.6M436.8 162.9h1.6M468.4 79.4h1.6M464.9 40.9h1.6M475.2 67.7h1.6M457.4 51.9h1.6M459.4 116.8h1.6M457.5 62.1h1.6M467.2 39.0h1.6M475.8 95.0h1.6M458.7 72.8h1.6M465.3 86.7h1.6M469.0 91.7h1.6M460.3 78.1h1.6M466.7 97.5h1.6M458.8 107.2h1.6M454.9 111.7h1.6M462.4 114.1h1.6M455.2 119.7h1.6M447.8 126.1h1.6"/><path stroke="#ff6a00" d="M154.2 128.8h1.6M187.3 71.7h1.6M208.6 68.9h1.6M186.2 123.3h1.6M148.4 133.5h1.6M161.7 144.3h1.6M172.4 126.1h1.6M174.9 133.6h1.6M144.6 170.3h1.6M151.5 129.7h1.6M173.9 130.8h1.6M169.3 135.4h1.6M172.7 109.8h1.6M150.9 156.2h1.6M166.4 121.8h1.6M216.4 65.7h1.6M152.9 140.0h1.6M172.0 110.5h1.6M156.2 157.0h1.6M143.1 144.5h1.6M162.8 120.8h1.6M157.2 142.0h1.6M187.9 116.6h1.6M160.9 145.2h1.6M160.9 149.0h1.6M142.3 152.5h1.6M172.0 117.7h1.6M128.6 164.1h1.6M151.4 160.0h1.6M153.5 111.5h1.6M119.6 156.8h1.6M166.9 129.2h1.6M165.6 144.7h1.6M150.8 145.7h1.6M140.4 116.1h1.6M146.5 150.3h1.6M163.1 131.3h1.6M179.5 110.2h1.6M185.0 114.7h1.6M180.9 112.0h1.6M148.7 121.4h1.6M168.0 132.2h1.6M189.8 122.4h1.6M184.2 107.0h1.6M192.7 113.1h1.6M185.7 86.7h1.6M152.5 120.5h1.6M141.2 135.1h1.6M160.3 126.7h1.6M160.6 111.2h1.6M174.1 112.3h1.6M173.7 121.0h1.6M159.0 141.5h1.6M174.9 107.9h1.6M163.4 101.7h1.6M141.6 175.6h1.6M141.7 158.5h1.6M163.9 135.3h1.6M187.1 116.5h1.6M194.7 114.6h1.6M187.3 140.0h1.6M149.9 143.6h1.6M165.8 135.3h1.6M169.9 142.5h1.6M168.7 132.6h1.6M147.7 117.6h1.6M176.0 110.1h1.6M158.0 139.6h1.6M163.0 83.3h1.6M159.0 182.2h1.6M190.5 123.1h1.6M139.1 115.2h1.6M154.6 97.9h1.6M198.4 101.2h1.6M185.1 107.6h1.6M179.3 146.4h1.6M149.2 180.3h1.6M171.3 157.3h1.6M173.2 147.1h1.6M159.3 110.1h1.6M174.5 101.8h1.6M125.3 149.9h1.6M142.0 181.4h1.6M153.9 113.3h1.6M152.6 95.9h1.6M191.0 70.6h1.6M187.1 167.3h1.6M152.7 107.7h1.6M167.3 138.1h1.6M198.1 134.5h1.6M186.7 129.7h1.6M173.1 124.5h1.6M144.6 124.6h1.6M144.5 141.9h1.6M184.2 106.6h1.6M161.6 77.3h1.6M195.2 134.5h1.6M185.7 101.6h1.6M166.9 137.2h1.6M198.7 136.9h1.6M175.7 137.5h1.6M208.8 120.0h1.6M153.2 122.0h1.6M179.1 143.9h1.6M187.9 90.7h1.6M166.9 123.2h1.6M191.1 91.8h1.6M182.9 113.4h1.6M153.6 128.8h1.6M164.8 145.3h1.6M189.1 91.7h1.6M186.9 118.0h1.6M123.8 147.4h1.6M181.5 151.0h1.6M145.7 115.3h1.6M160.9 147.7h1.6M195.2 110.7h1.6M167.1 170.4h1.6M190.8 125.0h1.6M197.7 58.1h1.6M210.6 82.3h1.6M189.8 50.1h1.6M186.2 83.2h1.6M175.8 93.3h1.6M177.5 39.9h1.6M187.2 29.5h1.6M170.9 147.4h1.6M146.2 168.8h1.6M150.8 183.8h1.6M143.3 160.6h1.6M156.0 168.9h1.6M160.0 132.1h1.6M127.5 182.3h1.6M134.9 189.5h1.6M136.8 157.8h1.6M142.5 156.2h1.6M125.2 188.5h1.6M180.7 126.6h1.6M154.2 153.0h1.6M162.5 152.0h1.6M149.1 158.1h1.6M162.2 137.6h1.6M138.3 171.0h1.6M130.4 142.7h1.6M133.6 134.0h1.6M153.8 127.8h1.6M126.7 164.9h1.6M135.7 135.5h1.6M118.1 151.5h1.6M496.5 128.2h1.6M499.7 134.6h1.6M502.5 130.3h1.6M501.9 129.5h1.6M494.2 116.6h1.6M500.7 137.0h1.6M492.5 143.9h1.6M502.2 124.5h1.6M491.4 125.9h1.6M492.3 113.4h1.6M497.0 136.0h1.6M493.1 128.2h1.6M494.4 132.4h1.6M496.5 131.6h1.6M498.0 134.7h1.6M495.2 127.1h1.6M499.5 122.8h1.6M502.5 117.7h1.6M489.7 123.3h1.6M494.2 141.8h1.6M496.2 138.6h1.6M501.2 136.6h1.6M489.8 121.6h1.6M495.8 128.4h1.6M503.9 135.7h1.6M524.4 132.6h1.6M519.2 128.4h1.6M501.4 122.6h1.6M530.1 134.1h1.6M525.4 137.2h1.6M508.7 128.5h1.6M530.5 134.6h1.6M501.7 133.7h1.6M508.7 136.7h1.6M517.8 140.3h1.6M513.1 140.1h1.6M497.0 123.9h1.6M510.2 131.3h1.6M508.3 111.2h1.6M495.2 111.9h1.6M461.6 127.0h1.6M472.4 118.5h1.6M456.4 117.1h1.6M457.2 127.4h1.6M484.8 89.8h1.6M474.3 114.2h1.6M469.8 119.2h1.6M461.8 91.5h1.6M476.7 107.0h1.6M485.8 97.5h1.6M475.4 74.9h1.6M469.5 78.0h1.6M469.1 84.4h1.6M486.2 59.3h1.6M449.7 130.2h1.6M482.5 96.7h1.6M462.9 67.1h1.6M450.4 72.4h1.6M463.1 70.9h1.6M461.1 94.5h1.6M463.1 91.4h1.6M482.4 47.3h1.6M459.8 101.3h1.6M463.2 91.1h1.6M478.0 50.6h1.6M469.1 88.7h1.6M473.9 55.4h1.6M461.3 91.2h1.6M469.8 75.6h1.6M465.1 116.8h1.6M476.6 65.3h1.6M453.5 72.8h1.6M451.1 140.9h1.6M457.1 50.7h1.6M459.6 113.1h1.6M456.6 95.4h1.6M467.1 118.7h1.6M472.2 82.8h1.6M449.6 107.0h1.6M445.6 76.3h1.6M515.5 126.3h1.6M490.4 97.0h1.6M483.2 114.7h1.6M492.4 88.0h1.6M449.6 114.8h1.6M493.7 62.8h1.6M475.0 106.0h1.6M499.1 89.3h1.6M482.8 117.6h1.6M494.8 103.7h1.6M472.8 92.4h1.6M483.2 79.0h1.6M467.1 93.6h1.6M485.8 121.5h1.6M503.8 73.3h1.6M460.1 124.5h1.6M516.1 115.3h1.6M510.5 87.9h1.6M502.9 74.3h1.6M502.3 125.1h1.6M481.7 59.8h1.6M491.7 90.3h1.6M498.2 61.0h1.6M444.8 109.1h1.6M457.6 37.9h1.6M465.4 27.0h1.6M461.9 24.1h1.6M494.9 58.3h1.6"/><path stroke="#00b0ff" d="M100.7 185.0h1.6M102.8 186.1h1.6M101.9 178.2h1.6M107.6 180.0h1.6M112.1 180.1h1.6M96.0 188.5h1.6M110.1 177.2h1.6M110.7 169.6h1.6M93.5 190.5h1.6M100.1 190.4h1.6M136.3 170.5h1.6M87.7 188.9h1.6M108.1 171.1h1.6M109.8 177.4h1.6M95.6 188.4h1.6M114.4 160.4h1.6M111.4 181.3h1.6M101.9 180.6h1.6M117.3 179.7h1.6M114.0 174.3h1.6M101.2 179.0h1.6M117.5 174.5h1.6M120.9 172.5h1.6M94.6 191.8h1.6M101.1 185.1h1.6M101.4 184.0h1.6M107.9 183.6h1.6M107.1 185.4h1.6M109.3 176.9h1.6M108.9 182.3h1.6M111.1 184.0h1.6M107.2 183.3h1.6M112.0 176.8h1.6M109.3 169.4h1.6M117.7 176.6h1.6M117.2 168.7h1.6M98.6 183.6h1.6M107.1 171.1h1.6M105.4 190.3h1.6M109.4 182.3h1.6M122.1 177.1h1.6M105.2 181.0h1.6M115.5 184.7h1.6M112.9 176.3h1.6M107.5 178.0h1.6M99.0 177.1h1.6M152.4 146.1h1.6M124.4 160.5h1.6M170.1 134.6h1.6M125.6 161.3h1.6M126.3 167.8h1.6M140.3 156.7h1.6M127.8 160.3h1.6M115.9 191.7h1.6M159.0 138.5h1.6M121.6 188.2h1.6M117.5 168.8h1.6M143.3 149.0h1.6M143.9 151.5h1.6M153.3 146.1h1.6M134.7 160.3h1.6M139.8 151.6h1.6M133.0 162.1h1.6M131.6 165.5h1.6M147.3 143.1h1.6M135.5 155.6h1.6M104.4 168.5h1.6M151.5 140.5h1.6M141.9 151.9h1.6M138.5 159.0h1.6M162.5 144.6h1.6M141.3 145.1h1.6M145.0 139.9h1.6M136.6 159.0h1.6M113.4 175.5h1.6M125.7 178.8h1.6M124.6 176.7h1.6M132.0 172.2h1.6M116.4 179.3h1.6M154.0 137.4h1.6M126.8 168.1h1.6M144.0 158.0h1.6M145.7 140.5h1.6M136.0 167.7h1.6M148.8 148.5h1.6M138.7 165.9h1.6M133.3 142.4h1.6M129.1 162.4h1.6M152.1 150.4h1.6M139.1 153.8h1.6M153.2 76.7h1.6M144.9 151.5h1.6M124.6 133.5h1.6M192.5 112.2h1.6M96.6 155.4h1.6M477.1 138.4h1.6M488.7 136.2h1.6M473.0 138.7h1.6M463.9 141.1h1.6M480.5 131.8h1.6M486.5 134.4h1.6M473.0 134.1h1.6M464.7 143.1h1.6M464.7 146.6h1.6M463.5 145.1h1.6M479.0 126.9h1.6M479.0 139.6h1.6M478.6 136.3h1.6M472.7 134.7h1.6M484.4 129.4h1.6M469.2 136.4h1.6M482.7 136.1h1.6M471.6 142.2h1.6M464.9 134.9h1.6M479.5 139.0h1.6M482.9 130.5h1.6M466.3 129.0h1.6M483.3 143.3h1.6M486.4 135.2h1.6M481.4 139.3h1.6M489.4 142.7h1.6M483.6 138.9h1.6M492.3 131.7h1.6M472.6 138.3h1.6M456.7 135.7h1.6M478.1 133.3h1.6M473.8 128.2h1.6M484.2 128.0h1.6M488.4 141.1h1.6M486.1 115.5h1.6M478.5 142.3h1.6M481.2 125.3h1.6M483.2 138.2h1.6M465.1 128.2h1.6M472.2 127.1h1.6M486.9 147.1h1.6M471.1 128.9h1.6M385.4 142.8h1.6M363.6 143.6h1.6M379.9 143.5h1.6M376.2 143.6h1.6M373.0 142.7h1.6M375.9 143.4h1.6M388.3 143.8h1.6M390.8 144.0h1.6M373.2 143.7h1.6M406.9 142.5h1.6M377.4 155.4h1.6M381.8 147.2h1.6M373.1 159.5h1.6M438.9 146.1h1.6M421.5 143.5h1.6M417.0 146.0h1.6M416.9 144.3h1.6M418.9 144.4h1.6M438.6 145.5h1.6M427.0 148.1h1.6M433.2 145.9h1.6M430.2 141.5h1.6M431.0 144.0h1.6M461.6 145.1h1.6M490.6 145.8h1.6M457.0 140.2h1.6M472.3 143.7h1.6M452.2 143.8h1.6M468.8 142.0h1.6M453.5 144.4h1.6M473.1 144.3h1.6M481.0 141.3h1.6M447.1 144.5h1.6M462.8 144.4h1.6M368.0 152.3h1.6M360.5 165.4h1.6M335.5 143.2h1.6M365.0 171.6h1.6M378.6 179.0h1.6M356.1 157.6h1.6M384.0 152.6h1.6M366.3 156.9h1.6M404.1 155.8h1.6M404.9 170.1h1.6M424.7 180.9h1.6M409.7 188.5h1.6M411.7 182.9h1.6M443.7 153.6h1.6M473.4 151.9h1.6M458.2 161.3h1.6M480.0 91.0h1.6M474.2 43.6h1.6M461.3 136.5h1.6M472.4 79.4h1.6M478.8 81.2h1.6M470.5 55.6h1.6M474.1 41.6h1.6M451.1 88.5h1.6M467.6 48.3h1.6M449.3 54.5h1.6M477.3 98.0h1.6M470.9 112.3h1.6M433.3 83.7h1.6M428.6 85.1h1.6M466.5 102.7h1.6M465.7 114.3h1.6M458.0 121.3h1.6M455.9 119.9h1.6M455.9 113.4h1.6M438.0 128.6h1.6M454.4 114.7h1.6M478.3 98.5h1.6M454.7 141.5h1.6"/><path stroke="#ff6a00" d="M174.0 123.3h1.6M149.2 128.7h1.6M167.4 122.5h1.6M139.2 142.7h1.6M160.7 120.9h1.6M137.3 125.9h1.6M157.3 121.8h1.6M173.8 118.1h1.6M166.2 122.0h1.6M148.1 131.2h1.6M146.3 143.0h1.6M173.5 125.8h1.6M182.1 108.8h1.6M186.3 104.9h1.6M155.9 138.3h1.6M176.5 111.6h1.6M159.8 108.9h1.6M179.1 136.9h1.6M167.0 93.0h1.6M168.7 147.8h1.6M156.3 168.4h1.6M170.8 141.6h1.6M141.4 125.5h1.6M146.4 145.0h1.6M164.3 121.0h1.6M179.3 108.4h1.6M152.8 128.7h1.6M170.1 71.7h1.6M172.1 110.5h1.6M153.8 107.0h1.6M147.9 118.4h1.6M185.2 126.8h1.6M164.6 133.3h1.6M156.8 106.4h1.6M156.3 156.9h1.6M124.5 159.7h1.6M165.8 119.3h1.6M184.6 125.7h1.6M188.7 120.4h1.6M184.2 124.2h1.6M182.5 138.8h1.6M154.0 119.0h1.6M147.9 150.5h1.6M165.7 111.5h1.6M206.5 80.5h1.6M182.6 109.2h1.6M159.7 90.3h1.6M169.5 107.4h1.6M164.4 122.0h1.6M169.4 148.0h1.6M162.5 96.3h1.6M117.5 175.5h1.6M169.5 91.8h1.6M177.9 94.1h1.6M177.1 97.7h1.6M149.2 127.0h1.6M213.8 73.2h1.6M169.1 133.7h1.6M165.1 118.9h1.6M165.2 77.3h1.6M159.1 122.4h1.6M152.6 126.0h1.6M179.9 124.2h1.6M187.1 108.0h1.6M143.5 183.1h1.6M147.5 81.8h1.6M144.1 141.9h1.6M166.5 96.1h1.6M152.5 121.4h1.6M154.7 128.8h1.6M183.6 120.9h1.6M187.3 124.4h1.6M158.3 86.9h1.6M168.4 137.4h1.6M173.0 120.8h1.6M171.2 134.5h1.6M152.4 164.6h1.6M171.3 99.2h1.6M176.3 133.8h1.6M176.7 144.5h1.6M152.0 155.0h1.6M173.2 146.5h1.6M187.4 139.5h1.6M93.2 142.3h1.6M186.6 122.8h1.6M158.1 169.3h1.6M187.9 90.9h1.6M170.8 97.4h1.6M159.9 146.8h1.6M157.6 129.1h1.6M176.7 82.9h1.6M147.3 145.9h1.6M184.5 109.9h1.6M162.3 89.5h1.6M180.5 83.4h1.6M174.3 168.1h1.6M153.0 126.3h1.6M187.0 111.1h1.6M202.3 64.8h1.6M174.6 74.8h1.6M208.1 86.5h1.6M163.9 78.0h1.6M183.1 51.0h1.6M206.6 107.7h1.6M160.6 87.3h1.6M182.3 89.5h1.6M169.7 70.4h1.6M203.8 87.2h1.6M187.8 41.7h1.6M124.0 24.5h1.6M205.2 159.3h1.6M161.0 154.1h1.6M152.8 172.9h1.6M135.9 180.7h1.6M148.7 182.7h1.6M156.6 165.0h1.6M118.8 176.5h1.6M150.0 169.4h1.6M137.4 184.9h1.6M173.5 133.1h1.6M149.8 159.0h1.6M140.1 172.8h1.6M165.6 157.6h1.6M170.5 147.6h1.6M161.0 175.4h1.6M145.4 161.6h1.6M123.4 178.5h1.6M137.0 174.4h1.6M125.7 178.7h1.6M170.3 171.6h1.6M122.0 176.7h1.6M144.9 187.2h1.6M125.8 131.6h1.6M147.7 141.0h1.6M136.9 125.8h1.6M122.5 133.2h1.6M165.5 106.3h1.6M136.1 131.5h1.6M112.3 141.0h1.6M141.5 133.4h1.6M152.1 130.4h1.6M132.5 116.6h1.6M508.0 142.0h1.6M485.7 126.7h1.6M493.6 138.1h1.6M508.9 133.9h1.6M501.4 129.8h1.6M500.7 111.5h1.6M498.6 134.6h1.6M504.9 132.0h1.6M509.5 140.7h1.6M501.4 139.6h1.6M493.0 137.9h1.6M502.9 99.2h1.6M506.4 134.5h1.6M490.3 134.4h1.6M494.0 118.0h1.6M493.1 117.0h1.6M481.1 131.2h1.6M498.0 118.7h1.6M497.3 121.3h1.6M508.4 120.5h1.6M500.7 119.0h1.6M501.9 131.9h1.6M496.9 130.5h1.6M498.9 131.9h1.6M492.1 120.1h1.6M507.8 135.4h1.6M486.4 130.0h1.6M504.3 132.2h1.6M500.7 129.3h1.6M514.6 136.5h1.6M507.0 133.1h1.6M495.1 122.6h1.6M496.0 132.7h1.6M494.2 127.6h1.6M500.2 123.4h1.6M496.2 110.4h1.6M493.1 136.4h1.6M492.1 133.3h1.6M498.2 128.6h1.6M508.3 132.8h1.6M513.4 121.8h1.6M496.4 137.4h1.6M519.9 130.0h1.6M523.6 146.0h1.6M515.2 140.2h1.6M502.7 145.1h1.6M518.7 139.9h1.6M511.8 132.6h1.6M520.8 144.6h1.6M522.1 143.1h1.6M490.8 131.7h1.6M516.2 128.3h1.6M504.0 140.7h1.6M507.9 141.4h1.6M507.2 129.6h1.6M483.3 117.0h1.6M505.6 101.1h1.6M493.4 123.9h1.6M501.1 133.9h1.6M463.9 37.9h1.6M473.9 106.4h1.6M449.9 109.5h1.6M461.3 132.0h1.6M460.4 90.1h1.6M454.0 87.6h1.6M450.9 80.5h1.6M493.9 83.0h1.6M479.0 116.6h1.6M484.2 57.7h1.6M462.2 99.6h1.6M480.1 135.1h1.6M458.7 106.6h1.6M474.7 82.1h1.6M473.9 122.2h1.6M464.5 107.4h1.6M484.9 94.0h1.6M466.9 90.7h1.6M474.3 126.2h1.6M449.4 138.9h1.6M462.8 80.1h1.6M465.6 99.1h1.6M466.3 77.5h1.6M461.3 123.2h1.6M477.9 58.6h1.6M475.5 91.2h1.6M462.0 110.3h1.6M453.2 96.8h1.6M466.4 77.3h1.6M463.5 113.3h1.6M476.7 112.3h1.6M468.0 104.9h1.6M447.2 83.2h1.6M456.8 119.0h1.6M452.4 104.4h1.6M457.8 86.9h1.6M480.1 96.3h1.6M494.2 84.3h1.6M489.3 129.4h1.6M447.9 50.8h1.6M447.3 114.4h1.6M467.9 72.8h1.6M472.1 84.0h1.6M455.3 81.8h1.6M446.4 129.3h1.6M496.3 119.1h1.6M525.3 95.1h1.6M466.5 108.2h1.6M485.8 93.7h1.6M454.2 135.6h1.6M496.2 74.7h1.6M460.1 91.9h1.6M486.2 96.2h1.6M492.0 96.1h1.6M480.9 102.1h1.6M480.0 65.7h1.6M474.7 74.4h1.6M521.6 87.5h1.6M517.5 54.1h1.6M467.5 82.9h1.6M521.7 41.0h1.6M475.9 44.5h1.6M501.8 72.6h1.6M378.1 109.9h1.6M454.6 198.7h1.6"/><path stroke="#00b0ff" d="M95.9 177.9h1.6M98.7 184.6h1.6M119.9 181.6h1.6M88.3 184.9h1.6M106.2 191.3h1.6M120.5 155.8h1.6M99.9 184.1h1.6M110.1 174.3h1.6M99.9 186.5h1.6M95.2 184.8h1.6M97.4 179.4h1.6M104.7 183.3h1.6M109.0 181.9h1.6M98.5 178.7h1.6M94.6 170.7h1.6M95.8 182.9h1.6M105.0 180.0h1.6M102.7 181.1h1.6M111.7 172.2h1.6M101.4 184.1h1.6M85.7 183.0h1.6M100.9 172.9h1.6M115.0 187.8h1.6M103.8 189.5h1.6M125.7 175.4h1.6M120.7 180.9h1.6M94.2 190.6h1.6M109.0 185.8h1.6M113.8 180.9h1.6M109.1 173.5h1.6M102.3 170.0h1.6M105.4 175.3h1.6M119.9 184.6h1.6M109.6 172.2h1.6M116.4 176.8h1.6M101.9 181.0h1.6M98.2 176.8h1.6M89.6 176.5h1.6M112.2 170.5h1.6M105.8 181.0h1.6M100.8 170.9h1.6M112.0 189.4h1.6M109.8 171.2h1.6M108.2 186.0h1.6M110.6 184.0h1.6M107.5 171.2h1.6M119.2 180.0h1.6M108.4 171.0h1.6M114.9 173.8h1.6M118.6 164.4h1.6M94.6 183.3h1.6M117.4 177.8h1.6M91.1 175.5h1.6M133.7 176.7h1.6M129.4 166.2h1.6M113.2 179.3h1.6M150.5 140.4h1.6M156.0 148.9h1.6M150.6 145.5h1.6M163.9 126.9h1.6M132.4 173.9h1.6M129.0 164.5h1.6M156.4 149.8h1.6M165.1 145.9h1.6M150.2 150.9h1.6M153.5 160.9h1.6M141.9 161.5h1.6M152.0 136.3h1.6M148.0 138.7h1.6M140.6 149.2h1.6M148.0 144.1h1.6M132.7 171.5h1.6M154.3 149.6h1.6M149.6 139.0h1.6M158.2 139.0h1.6M154.5 137.5h1.6M138.7 157.1h1.6M116.9 162.1h1.6M142.3 150.8h1.6M150.6 153.4h1.6M136.8 148.0h1.6M125.5 158.5h1.6M121.0 163.8h1.6M126.1 151.9h1.6M144.6 151.1h1.6M124.8 172.5h1.6M150.4 147.4h1.6M146.1 153.5h1.6M136.6 157.9h1.6M128.8 165.9h1.6M138.1 140.8h1.6M129.6 174.6h1.6M149.5 141.7h1.6M146.1 137.7h1.6M130.0 141.8h1.6M104.6 180.5h1.6M134.1 156.3h1.6M137.3 147.6h1.6M152.2 125.8h1.6M144.1 138.1h1.6M110.6 180.6h1.6M141.5 157.0h1.6M158.0 142.9h1.6M142.9 156.9h1.6M146.5 136.9h1.6M136.8 144.2h1.6M166.0 108.0h1.6M165.8 81.2h1.6M131.2 44.6h1.6M475.7 127.3h1.6M471.4 145.8h1.6M481.5 136.6h1.6M465.0 133.8h1.6M487.7 137.2h1.6M469.6 141.3h1.6M470.1 136.1h1.6M486.7 142.1h1.6M476.5 141.6h1.6M470.7 135.2h1.6M469.4 129.3h1.6M466.2 142.8h1.6M461.8 139.5h1.6M466.2 139.9h1.6M470.9 142.5h1.6M488.2 134.0h1.6M483.2 146.4h1.6M478.7 129.9h1.6M486.6 140.1h1.6M470.3 135.7h1.6M482.6 136.2h1.6M480.8 124.7h1.6M472.4 132.3h1.6M466.7 125.5h1.6M474.2 139.0h1.6M469.1 133.9h1.6M469.5 117.9h1.6M491.1 127.7h1.6M488.5 128.3h1.6M480.4 147.1h1.6M462.5 126.1h1.6M467.7 139.4h1.6M485.6 129.0h1.6M479.9 137.3h1.6M471.8 131.7h1.6M474.1 134.0h1.6M488.8 126.1h1.6M479.9 141.4h1.6M375.7 143.2h1.6M392.0 143.1h1.6M362.8 143.6h1.6M362.4 143.8h1.6M363.4 143.9h1.6M429.5 144.7h1.6M437.2 146.3h1.6M418.4 145.4h1.6M422.6 145.9h1.6M421.3 143.9h1.6M418.9 144.3h1.6M431.5 140.3h1.6M433.7 149.0h1.6M423.0 144.7h1.6M430.4 145.5h1.6M436.0 145.3h1.6M438.7 144.7h1.6M439.9 141.0h1.6M443.5 145.9h1.6M455.4 145.6h1.6M475.7 142.4h1.6M477.7 146.4h1.6M491.3 144.9h1.6M491.7 146.2h1.6M448.2 143.0h1.6M455.5 145.2h1.6M474.8 144.8h1.6M489.3 143.5h1.6M479.1 140.9h1.6M441.4 143.9h1.6M467.5 141.0h1.6M482.0 142.5h1.6M364.7 154.2h1.6M363.0 150.5h1.6M370.5 146.4h1.6M364.3 143.8h1.6M360.6 145.1h1.6M370.1 169.3h1.6M372.2 195.8h1.6M421.9 153.4h1.6M417.9 168.4h1.6M440.4 167.1h1.6M410.0 156.1h1.6M427.0 162.2h1.6M418.4 185.6h1.6M455.9 91.3h1.6M455.5 66.2h1.6M466.6 93.0h1.6M467.1 108.3h1.6M459.5 80.9h1.6M448.3 26.9h1.6M452.3 98.6h1.6M466.2 94.5h1.6M457.5 59.9h1.6M442.8 135.0h1.6M446.7 111.2h1.6M468.5 26.9h1.6M461.6 64.5h1.6M429.2 90.1h1.6M464.4 108.2h1.6M457.1 55.4h1.6M462.9 89.7h1.6M382.4 92.2h1.6M459.7 87.5h1.6M451.6 106.8h1.6M457.0 113.1h1.6M450.2 98.0h1.6M467.2 111.0h1.6M462.8 134.4h1.6M459.8 113.2h1.6M464.9 102.4h1.6M453.8 100.4h1.6M467.3 124.1h1.6M466.9 108.8h1.6M451.0 126.9h1.6M457.0 122.4h1.6"/><path stroke="#ff6a00" d="M182.4 99.3h1.6M186.8 121.8h1.6M196.8 87.3h1.6M162.7 114.6h1.6M157.6 114.5h1.6M171.3 143.9h1.6M163.9 120.3h1.6M154.2 134.0h1.6M152.7 119.0h1.6M159.0 102.6h1.6M153.8 137.1h1.6M173.8 133.0h1.6M169.9 163.1h1.6M170.7 107.8h1.6M162.4 123.6h1.6M155.0 157.1h1.6M173.1 118.3h1.6M151.5 104.8h1.6M155.3 151.6h1.6M184.5 119.0h1.6M175.8 126.2h1.6M172.7 99.0h1.6M174.1 108.2h1.6M151.0 119.6h1.6M161.0 115.4h1.6M173.9 136.3h1.6M158.7 141.2h1.6M161.8 132.5h1.6M128.6 177.3h1.6M153.9 133.8h1.6M153.1 129.7h1.6M161.2 117.8h1.6M194.6 111.8h1.6M155.6 133.7h1.6M169.2 104.1h1.6M176.3 130.8h1.6M163.2 121.0h1.6M167.3 127.1h1.6M161.0 137.4h1.6M119.8 163.4h1.6M164.5 114.5h1.6M169.9 134.2h1.6M163.2 118.4h1.6M166.2 142.9h1.6M180.4 99.9h1.6M162.4 117.7h1.6M183.4 154.2h1.6M164.1 121.7h1.6M185.8 117.0h1.6M176.8 152.4h1.6M171.5 112.2h1.6M152.0 159.4h1.6M164.5 100.3h1.6M187.5 102.1h1.6M178.2 118.3h1.6M147.8 167.7h1.6M162.8 141.0h1.6M177.7 139.7h1.6M157.1 133.7h1.6M203.0 67.9h1.6M169.6 123.2h1.6M131.1 171.8h1.6M193.2 130.6h1.6M130.2 133.8h1.6M184.8 110.8h1.6M173.9 90.3h1.6M142.6 138.9h1.6M156.3 114.6h1.6M174.9 111.0h1.6M171.5 113.0h1.6M140.3 142.4h1.6M176.4 159.4h1.6M160.7 133.8h1.6M172.8 133.2h1.6M172.4 127.3h1.6M160.1 119.4h1.6M193.9 105.0h1.6M164.4 116.4h1.6M143.5 130.5h1.6M182.6 106.3h1.6M145.3 158.1h1.6M139.5 162.5h1.6M143.9 158.1h1.6M185.2 125.1h1.6M167.6 118.9h1.6M192.0 83.7h1.6M165.9 116.0h1.6M155.9 185.7h1.6M180.6 95.7h1.6M187.9 129.4h1.6M189.3 67.2h1.6M208.3 130.3h1.6M184.1 121.9h1.6M170.7 119.6h1.6M187.2 118.5h1.6M201.8 86.9h1.6M190.2 121.8h1.6M136.0 138.3h1.6M156.2 132.9h1.6M152.2 191.2h1.6M170.9 114.8h1.6M167.5 81.8h1.6M178.2 121.8h1.6M192.9 108.4h1.6M144.0 131.7h1.6M171.1 84.3h1.6M195.6 109.0h1.6M170.0 113.3h1.6M151.7 132.3h1.6M176.6 78.8h1.6M193.2 100.9h1.6M147.3 118.3h1.6M186.0 113.9h1.6M150.1 158.0h1.6M120.4 133.3h1.6M173.4 123.0h1.6M172.4 114.6h1.6M163.9 84.1h1.6M188.4 110.6h1.6M184.7 85.5h1.6M152.6 160.4h1.6M164.0 83.7h1.6M166.1 138.5h1.6M169.7 134.1h1.6M183.2 130.7h1.6M134.1 93.6h1.6M155.6 150.0h1.6M112.6 162.3h1.6M145.3 122.8h1.6M164.8 119.3h1.6M160.4 124.0h1.6M129.6 114.9h1.6M167.1 123.4h1.6M163.6 114.6h1.6M153.6 95.9h1.6M155.4 169.0h1.6M191.3 81.7h1.6M162.8 87.2h1.6M202.8 91.6h1.6M177.4 98.8h1.6M213.4 70.8h1.6M182.5 57.0h1.6M186.0 73.3h1.6M195.9 49.7h1.6M207.7 154.7h1.6M199.4 171.2h1.6M190.3 150.8h1.6M190.6 143.4h1.6M119.7 179.8h1.6M139.1 183.3h1.6M147.2 158.3h1.6M163.8 162.8h1.6M182.6 152.7h1.6M180.9 128.8h1.6M154.2 163.9h1.6M130.3 178.3h1.6M173.3 146.7h1.6M156.6 172.5h1.6M147.5 157.2h1.6M161.8 140.4h1.6M153.5 173.1h1.6M145.8 163.7h1.6M164.1 146.0h1.6M134.6 179.7h1.6M151.2 140.5h1.6M157.7 170.2h1.6M143.0 162.6h1.6M122.9 161.8h1.6M131.9 150.4h1.6M128.1 145.1h1.6M496.3 109.5h1.6M496.3 142.8h1.6M496.3 127.8h1.6M501.6 121.5h1.6M499.1 142.8h1.6M495.0 134.0h1.6M496.9 105.4h1.6M500.2 137.8h1.6M498.8 131.9h1.6M495.6 138.6h1.6M495.7 130.0h1.6M508.2 115.7h1.6M494.5 129.9h1.6M499.1 141.6h1.6M495.5 125.2h1.6M495.2 132.0h1.6M492.4 123.9h1.6M497.7 122.6h1.6M509.5 119.6h1.6M497.2 122.0h1.6M507.8 123.8h1.6M503.5 123.2h1.6M496.5 107.1h1.6M506.0 140.3h1.6M487.5 124.5h1.6M499.9 128.6h1.6M486.0 111.6h1.6M494.3 125.9h1.6M494.7 120.1h1.6M495.0 141.4h1.6M506.9 124.0h1.6M499.6 145.3h1.6M493.2 135.2h1.6M511.4 135.6h1.6M502.8 127.7h1.6M509.6 136.8h1.6M505.4 126.9h1.6M504.3 136.9h1.6M504.8 135.9h1.6M506.6 128.6h1.6M512.5 132.2h1.6M514.4 139.0h1.6M509.0 108.3h1.6M493.2 122.8h1.6M492.5 121.0h1.6M480.8 110.3h1.6M498.4 119.7h1.6M501.6 118.0h1.6M475.1 121.0h1.6M459.4 84.9h1.6M477.5 115.9h1.6M456.4 81.9h1.6M471.7 67.4h1.6M462.4 92.1h1.6M459.4 97.9h1.6M484.1 64.8h1.6M464.6 86.3h1.6M488.5 86.2h1.6M467.9 118.5h1.6M463.9 59.4h1.6M473.2 109.7h1.6M457.3 128.9h1.6M483.0 79.4h1.6M468.4 96.3h1.6M473.4 122.2h1.6M456.1 135.3h1.6M454.5 94.9h1.6M474.9 89.2h1.6M466.8 96.3h1.6M468.9 45.5h1.6M456.1 113.0h1.6M457.2 125.2h1.6M459.8 75.4h1.6M457.1 136.1h1.6M465.2 82.9h1.6M479.2 93.1h1.6M469.3 42.2h1.6M491.2 84.0h1.6M474.1 127.2h1.6M473.9 120.7h1.6M457.5 118.9h1.6M490.9 122.4h1.6M463.7 115.3h1.6M459.2 36.0h1.6M495.1 122.1h1.6M455.9 113.0h1.6M483.0 39.2h1.6M460.4 131.7h1.6M474.1 113.9h1.6M463.9 95.5h1.6M477.0 70.3h1.6M472.8 89.0h1.6M501.8 93.6h1.6M452.8 86.9h1.6M466.6 66.5h1.6M513.1 23.6h1.6M493.5 49.9h1.6M518.7 48.3h1.6M500.9 59.1h1.6M515.6 36.6h1.6M386.7 118.6h1.6"/><path stroke="#00b0ff" d="M88.8 181.6h1.6M85.4 186.4h1.6M103.3 187.9h1.6M110.3 191.8h1.6M107.2 180.9h1.6M95.1 185.0h1.6M115.2 177.4h1.6M114.5 178.2h1.6M113.9 184.8h1.6M106.8 191.4h1.6M108.5 179.2h1.6M110.4 173.8h1.6M102.8 175.2h1.6M99.4 185.2h1.6M93.4 180.4h1.6M105.3 181.4h1.6M115.8 174.6h1.6M106.2 185.7h1.6M99.5 182.9h1.6M79.3 186.3h1.6M123.6 175.7h1.6M110.8 174.0h1.6M105.8 171.9h1.6M98.5 179.5h1.6M105.1 174.0h1.6M111.5 179.7h1.6M108.1 188.0h1.6M114.1 178.2h1.6M116.5 170.7h1.6M84.2 180.0h1.6M114.4 178.5h1.6M112.3 178.0h1.6M125.7 176.2h1.6M114.7 177.0h1.6M95.5 176.9h1.6M119.1 177.2h1.6M107.5 184.0h1.6M98.9 183.7h1.6M100.4 183.6h1.6M104.9 176.3h1.6M91.7 185.8h1.6M109.9 182.1h1.6M121.0 184.0h1.6M110.1 180.4h1.6M118.9 185.5h1.6M118.3 166.6h1.6M88.3 191.0h1.6M101.6 186.5h1.6M102.6 173.9h1.6M104.3 176.3h1.6M109.2 178.7h1.6M95.3 171.3h1.6M96.6 175.5h1.6M81.2 185.7h1.6M99.1 187.4h1.6M155.5 136.1h1.6M135.6 147.4h1.6M121.8 161.7h1.6M127.8 145.3h1.6M141.0 149.6h1.6M146.4 157.8h1.6M115.9 181.1h1.6M145.2 153.5h1.6M132.1 149.5h1.6M139.6 146.2h1.6M133.0 162.2h1.6M131.3 156.2h1.6M135.3 157.8h1.6M161.8 145.6h1.6M139.7 155.6h1.6M144.4 157.1h1.6M156.2 144.6h1.6M166.0 127.8h1.6M144.8 153.5h1.6M154.3 153.9h1.6M151.2 149.3h1.6M143.7 146.0h1.6M140.9 140.1h1.6M140.8 144.4h1.6M133.3 141.5h1.6M119.2 173.1h1.6M135.2 165.5h1.6M143.4 152.6h1.6M146.4 137.9h1.6M120.2 165.9h1.6M168.8 137.3h1.6M160.2 150.6h1.6M147.6 149.5h1.6M134.1 167.4h1.6M137.1 160.3h1.6M152.6 143.0h1.6M136.8 160.2h1.6M148.3 145.7h1.6M160.6 141.9h1.6M118.7 161.3h1.6M153.6 148.3h1.6M162.9 120.6h1.6M168.6 145.9h1.6M160.9 142.0h1.6M113.8 188.9h1.6M156.9 141.1h1.6M151.0 156.9h1.6M154.3 142.8h1.6M139.6 148.4h1.6M137.4 162.4h1.6M140.2 161.0h1.6M202.2 112.9h1.6M133.6 128.4h1.6M175.3 100.5h1.6M135.1 48.6h1.6M491.4 144.8h1.6M487.6 136.6h1.6M468.9 135.1h1.6M474.8 143.5h1.6M471.2 125.4h1.6M470.2 133.0h1.6M463.9 132.0h1.6M465.6 139.5h1.6M477.8 132.6h1.6M478.0 135.2h1.6M478.5 127.6h1.6M482.2 143.6h1.6M466.7 143.3h1.6M463.9 137.4h1.6M480.4 124.4h1.6M482.3 131.3h1.6M463.7 134.6h1.6M480.0 131.7h1.6M462.1 145.7h1.6M469.9 135.4h1.6M485.1 138.2h1.6M485.3 146.5h1.6M475.8 131.0h1.6M488.4 129.8h1.6M493.4 128.9h1.6M468.1 140.2h1.6M487.8 130.4h1.6M468.5 134.5h1.6M475.4 139.8h1.6M480.4 118.9h1.6M482.4 128.1h1.6M484.0 142.1h1.6M484.7 124.3h1.6M465.7 140.5h1.6M368.2 143.6h1.6M371.7 143.7h1.6M375.0 142.7h1.6M374.5 143.8h1.6M364.2 143.8h1.6M385.9 143.8h1.6M389.3 143.1h1.6M364.2 143.2h1.6M383.1 142.8h1.6M371.8 143.1h1.6M371.6 142.8h1.6M402.1 143.7h1.6M400.2 144.6h1.6M404.1 143.8h1.6M390.6 149.1h1.6M378.6 145.9h1.6M372.4 148.5h1.6M413.2 145.1h1.6M413.8 145.7h1.6M416.2 144.6h1.6M421.0 142.3h1.6M424.3 143.6h1.6M421.7 145.5h1.6M455.7 143.8h1.6M464.0 144.6h1.6M440.9 145.2h1.6M484.8 143.0h1.6M461.7 142.5h1.6M451.5 145.5h1.6M490.6 142.7h1.6M490.5 142.8h1.6M457.8 146.3h1.6M458.0 144.5h1.6M461.5 145.3h1.6M488.7 145.9h1.6M476.3 142.5h1.6M370.2 148.1h1.6M362.9 148.4h1.6M370.4 148.6h1.6M370.6 150.4h1.6M365.3 148.5h1.6M394.4 157.3h1.6M387.8 177.2h1.6M427.7 161.3h1.6M424.1 163.2h1.6M406.9 161.0h1.6M431.0 158.2h1.6M412.1 153.2h1.6M428.4 169.6h1.6M433.8 165.1h1.6M444.4 150.1h1.6M434.9 164.4h1.6M443.1 174.7h1.6M439.3 165.8h1.6M445.1 192.0h1.6M440.4 163.3h1.6M480.0 148.4h1.6M460.3 80.1h1.6M455.3 65.9h1.6M458.4 64.1h1.6M460.6 81.4h1.6M455.3 50.7h1.6M464.7 90.6h1.6M460.3 126.1h1.6M453.4 90.7h1.6M453.1 86.4h1.6M459.0 86.5h1.6M485.7 51.6h1.6M458.8 63.7h1.6M456.4 140.0h1.6M359.9 137.0h1.6M359.6 26.1h1.6M417.5 136.5h1.6M455.7 100.7h1.6M459.7 130.5h1.6M481.9 119.3h1.6M468.3 133.7h1.6M461.9 73.5h1.6M471.5 118.4h1.6M466.1 91.4h1.6M462.7 104.8h1.6M452.5 107.2h1.6M455.5 103.9h1.6M450.6 103.0h1.6"/><path stroke="#ff6a00" d="M165.6 129.3h1.6M206.3 66.4h1.6M177.6 116.2h1.6M180.5 136.5h1.6M136.3 120.5h1.6M169.2 98.2h1.6M137.1 123.9h1.6M176.5 125.7h1.6M202.2 77.7h1.6M141.3 131.6h1.6M157.2 135.1h1.6M143.5 150.9h1.6M133.3 174.8h1.6M122.9 158.8h1.6M163.8 147.2h1.6M184.9 86.7h1.6M166.9 130.2h1.6M168.6 103.2h1.6M181.0 115.8h1.6M167.2 110.0h1.6M155.4 142.0h1.6M151.8 169.5h1.6M159.6 154.6h1.6M166.2 124.9h1.6M171.6 118.8h1.6M165.6 116.8h1.6M151.7 139.8h1.6M180.3 134.6h1.6M154.7 162.3h1.6M154.1 133.1h1.6M133.5 122.6h1.6M197.9 93.3h1.6M179.8 94.4h1.6M178.5 107.6h1.6M164.1 99.5h1.6M175.8 115.5h1.6M166.5 157.6h1.6M139.8 143.7h1.6M161.0 158.2h1.6M178.5 94.7h1.6M180.0 118.2h1.6M144.9 120.8h1.6M172.1 105.0h1.6M166.8 111.1h1.6M157.4 133.5h1.6M151.3 98.4h1.6M135.7 147.3h1.6M123.3 159.0h1.6M164.7 84.2h1.6M199.1 79.2h1.6M159.1 115.6h1.6M211.6 135.0h1.6M190.8 118.9h1.6M171.2 115.6h1.6M175.3 104.8h1.6M164.6 135.7h1.6M142.2 169.7h1.6M212.1 138.3h1.6M195.4 138.0h1.6M134.7 125.6h1.6M180.4 152.7h1.6M180.2 140.3h1.6M159.4 108.1h1.6M181.2 145.4h1.6M152.4 154.5h1.6M204.6 121.8h1.6M213.5 116.8h1.6M160.5 156.8h1.6M182.1 70.7h1.6M192.9 96.1h1.6M148.3 100.2h1.6M212.6 114.9h1.6M204.8 105.9h1.6M144.2 183.2h1.6M139.4 88.4h1.6M171.4 116.3h1.6M186.3 109.7h1.6M171.3 98.9h1.6M182.0 139.4h1.6M155.3 143.4h1.6M125.8 150.2h1.6M156.4 110.2h1.6M128.6 152.1h1.6M157.9 175.5h1.6M184.5 137.1h1.6M194.0 133.1h1.6M170.5 100.8h1.6M143.3 163.1h1.6M156.9 165.4h1.6M171.2 133.6h1.6M182.3 75.5h1.6M188.7 78.8h1.6M212.4 67.2h1.6M182.7 79.8h1.6M213.3 74.8h1.6M191.7 75.4h1.6M184.3 91.7h1.6M219.5 72.3h1.6M160.4 63.7h1.6M182.2 75.7h1.6M171.3 51.5h1.6M213.8 70.4h1.6M181.1 27.9h1.6M212.1 156.5h1.6M204.0 138.0h1.6M226.7 164.3h1.6M213.5 140.3h1.6M198.0 136.6h1.6M181.2 153.1h1.6M141.9 176.9h1.6M142.8 160.7h1.6M127.4 166.5h1.6M165.0 141.0h1.6M152.2 171.6h1.6M161.2 172.9h1.6M164.4 154.7h1.6M145.7 171.2h1.6M149.3 184.1h1.6M128.4 175.4h1.6M147.4 131.9h1.6M115.8 139.1h1.6M152.4 118.2h1.6M146.9 143.5h1.6M137.2 144.1h1.6M133.0 129.9h1.6M134.2 134.9h1.6M135.9 156.2h1.6M138.3 134.3h1.6M490.1 125.6h1.6M499.1 138.8h1.6M495.8 125.9h1.6M494.4 130.7h1.6M501.1 139.2h1.6M496.3 133.2h1.6M495.3 121.2h1.6M485.9 128.7h1.6M502.6 122.6h1.6M497.8 125.6h1.6M492.2 119.6h1.6M491.0 129.7h1.6M501.5 122.3h1.6M506.1 113.1h1.6M495.4 126.2h1.6M496.1 111.1h1.6M494.6 140.6h1.6M502.7 123.0h1.6M497.5 132.3h1.6M508.8 125.1h1.6M505.7 128.1h1.6M495.3 126.6h1.6M503.2 115.7h1.6M496.1 129.8h1.6M514.1 109.7h1.6M522.4 112.4h1.6M496.4 122.2h1.6M502.9 145.7h1.6M494.9 139.2h1.6M488.4 125.2h1.6M502.9 139.7h1.6M504.3 133.5h1.6M496.6 124.1h1.6M502.3 141.6h1.6M500.0 135.9h1.6M484.1 122.8h1.6M503.5 116.2h1.6M494.7 127.5h1.6M496.5 122.2h1.6M498.3 121.8h1.6M499.5 131.7h1.6M508.4 128.6h1.6M513.6 133.6h1.6M512.7 133.1h1.6M527.1 141.9h1.6M516.3 138.6h1.6M516.3 130.8h1.6M522.3 137.4h1.6M525.9 133.5h1.6M520.7 134.2h1.6M508.6 144.5h1.6M514.9 127.9h1.6M500.9 122.8h1.6M505.4 119.4h1.6M492.9 118.3h1.6M452.3 81.5h1.6M469.2 106.3h1.6M460.4 132.7h1.6M468.4 121.5h1.6M471.2 72.9h1.6M469.8 116.3h1.6M460.4 114.0h1.6M467.2 134.4h1.6M464.9 95.8h1.6M473.1 62.8h1.6M484.3 96.4h1.6M469.4 61.1h1.6M451.3 102.7h1.6M466.1 63.1h1.6M475.5 72.4h1.6M467.6 101.2h1.6M462.5 96.1h1.6M462.8 80.1h1.6M480.5 51.0h1.6M470.1 100.2h1.6M468.6 110.3h1.6M446.2 29.9h1.6M463.9 88.7h1.6M454.0 129.7h1.6M460.6 76.9h1.6M453.8 90.7h1.6M459.1 102.0h1.6M477.8 105.0h1.6M515.3 135.8h1.6M507.5 51.9h1.6M478.6 105.7h1.6M494.3 105.7h1.6M475.2 106.2h1.6M502.7 87.2h1.6M509.3 112.6h1.6M487.7 69.5h1.6M508.8 126.4h1.6M466.4 100.6h1.6M512.3 107.5h1.6M500.4 70.6h1.6M451.9 48.5h1.6M491.7 101.9h1.6M448.5 83.3h1.6M475.1 121.6h1.6M474.8 87.5h1.6M484.7 97.5h1.6M515.3 96.3h1.6M500.0 83.7h1.6M476.7 94.4h1.6M479.7 102.1h1.6M518.2 126.2h1.6M476.8 112.4h1.6M479.3 80.8h1.6M496.4 126.4h1.6M530.9 76.5h1.6M503.5 29.3h1.6M485.8 33.3h1.6M472.3 40.5h1.6M523.2 73.2h1.6M477.0 31.1h1.6"/><path stroke="#00b0ff" d="M106.9 185.8h1.6M118.1 184.0h1.6M102.5 178.3h1.6M105.5 177.5h1.6M90.2 184.0h1.6M120.3 173.2h1.6M105.0 171.2h1.6M89.7 186.1h1.6M104.8 176.9h1.6M97.0 182.6h1.6M88.5 181.4h1.6M109.5 170.4h1.6M90.7 181.1h1.6M110.3 177.2h1.6M98.1 182.4h1.6M104.7 173.6h1.6M122.1 173.7h1.6M105.5 181.1h1.6M78.6 182.2h1.6M99.2 179.2h1.6M106.6 188.2h1.6M108.7 173.9h1.6M109.4 180.0h1.6M117.2 179.8h1.6M109.4 180.2h1.6M86.0 190.5h1.6M122.6 183.2h1.6M96.4 182.4h1.6M121.3 167.5h1.6M121.3 178.1h1.6M106.3 180.0h1.6M125.5 169.7h1.6M109.7 176.9h1.6M104.5 184.0h1.6M94.2 192.3h1.6M124.7 177.6h1.6M113.9 169.1h1.6M119.6 176.8h1.6M100.1 187.8h1.6M99.8 177.6h1.6M91.4 192.0h1.6M97.0 184.7h1.6M99.2 178.8h1.6M135.1 161.8h1.6M155.2 132.1h1.6M150.4 146.9h1.6M132.0 146.7h1.6M119.0 180.6h1.6M138.2 149.3h1.6M124.4 150.3h1.6M122.8 155.4h1.6M141.3 149.3h1.6M163.0 138.5h1.6M135.0 152.2h1.6M139.1 157.2h1.6M145.0 147.4h1.6M149.3 151.2h1.6M128.7 170.2h1.6M150.3 154.5h1.6M142.0 148.6h1.6M133.4 153.7h1.6M139.4 159.7h1.6M144.9 152.2h1.6M125.1 169.9h1.6M131.2 153.0h1.6M148.2 144.1h1.6M130.8 162.3h1.6M151.3 149.8h1.6M118.1 180.0h1.6M123.0 153.5h1.6M126.1 167.7h1.6M155.9 144.9h1.6M157.1 137.0h1.6M128.7 152.8h1.6M130.3 161.5h1.6M163.8 137.2h1.6M136.3 151.7h1.6M151.9 148.2h1.6M176.0 132.4h1.6M134.6 148.4h1.6M149.1 151.0h1.6M142.4 165.3h1.6M142.6 161.1h1.6M124.5 168.7h1.6M143.5 157.4h1.6M133.1 100.2h1.6M121.9 87.8h1.6M171.3 107.4h1.6M128.7 109.6h1.6M158.4 56.5h1.6M168.9 73.4h1.6M473.3 133.9h1.6M484.9 140.9h1.6M474.2 131.9h1.6M477.2 130.8h1.6M471.5 126.8h1.6M480.9 132.4h1.6M478.1 141.7h1.6M481.7 139.0h1.6M465.1 135.5h1.6M467.3 143.4h1.6M469.1 141.4h1.6M484.5 135.8h1.6M464.7 136.6h1.6M469.6 130.5h1.6M471.7 141.2h1.6M473.1 126.3h1.6M481.7 130.1h1.6M487.8 140.0h1.6M470.6 144.9h1.6M478.6 132.2h1.6M491.4 135.1h1.6M477.9 142.3h1.6M478.4 140.7h1.6M471.9 131.4h1.6M480.8 139.2h1.6M481.3 143.0h1.6M467.1 135.3h1.6M485.6 134.3h1.6M477.4 141.1h1.6M473.7 138.7h1.6M478.3 141.8h1.6M465.7 139.4h1.6M491.3 142.8h1.6M478.6 133.9h1.6M481.6 134.1h1.6M465.7 138.4h1.6M471.3 125.1h1.6M470.3 146.8h1.6M481.7 133.9h1.6M476.9 146.3h1.6M489.1 137.6h1.6M490.7 137.2h1.6M470.8 137.7h1.6M482.0 133.2h1.6M468.5 137.5h1.6M466.0 127.3h1.6M465.3 132.2h1.6M487.2 141.1h1.6M446.5 142.3h1.6M491.9 146.1h1.6M386.7 143.9h1.6M393.6 142.3h1.6M390.3 143.3h1.6M372.9 142.5h1.6M377.9 143.5h1.6M370.1 143.6h1.6M377.7 144.3h1.6M374.2 143.1h1.6M398.2 142.3h1.6M395.5 143.4h1.6M432.8 142.9h1.6M433.8 141.6h1.6M435.6 145.6h1.6M417.6 143.0h1.6M415.1 143.0h1.6M420.8 143.7h1.6M463.9 143.0h1.6M471.8 144.0h1.6M482.6 144.9h1.6M463.6 142.0h1.6M475.6 143.0h1.6M453.4 143.8h1.6M488.4 141.6h1.6M471.8 145.4h1.6M441.1 147.2h1.6M490.5 143.5h1.6M484.7 146.0h1.6M445.5 143.8h1.6M471.1 143.5h1.6M475.3 143.1h1.6M361.5 144.5h1.6M390.7 151.3h1.6M373.0 161.7h1.6M423.4 182.0h1.6M413.9 157.2h1.6M410.2 165.5h1.6M409.6 163.5h1.6M434.4 161.9h1.6M421.1 186.2h1.6M407.7 165.7h1.6M434.6 182.2h1.6M431.4 147.6h1.6M424.7 149.6h1.6M440.9 150.6h1.6M450.1 103.8h1.6M461.3 94.9h1.6M444.8 48.2h1.6M449.2 117.0h1.6M462.2 108.2h1.6M440.9 120.7h1.6M464.9 117.3h1.6M459.2 103.0h1.6M474.4 46.1h1.6M469.1 94.0h1.6M461.0 115.2h1.6M467.5 75.7h1.6M466.0 49.3h1.6M466.3 96.3h1.6M387.8 47.9h1.6M456.8 136.2h1.6M466.5 85.4h1.6M446.2 105.1h1.6"/><path stroke="#ff6a00" d="M189.9 104.0h1.6M181.9 103.0h1.6M122.2 162.0h1.6M172.2 122.1h1.6M171.4 133.9h1.6M198.3 107.0h1.6M108.2 166.9h1.6M187.2 109.9h1.6M162.0 113.2h1.6M180.0 120.3h1.6M175.6 93.0h1.6M132.8 145.7h1.6M154.0 133.3h1.6M164.8 124.2h1.6M132.9 147.0h1.6M196.0 101.9h1.6M183.5 117.5h1.6M151.3 149.8h1.6M170.4 153.8h1.6M130.4 172.7h1.6M169.6 144.4h1.6M161.6 119.3h1.6M149.6 154.3h1.6M165.1 129.1h1.6M159.3 126.6h1.6M173.0 80.0h1.6M153.0 148.6h1.6M194.1 123.6h1.6M179.9 127.4h1.6M171.6 127.2h1.6M163.1 165.4h1.6M176.9 110.6h1.6M156.2 128.8h1.6M161.6 158.9h1.6M150.6 124.0h1.6M173.0 94.7h1.6M175.2 115.0h1.6M131.9 146.1h1.6M161.2 126.3h1.6M185.5 85.7h1.6M148.4 142.5h1.6M161.5 173.5h1.6M160.2 127.7h1.6M178.5 115.1h1.6M172.7 124.9h1.6M183.7 100.3h1.6M162.3 127.0h1.6M171.8 139.8h1.6M181.7 118.4h1.6M165.2 146.3h1.6M141.1 156.7h1.6M162.5 105.2h1.6M209.6 68.9h1.6M152.7 136.7h1.6M160.3 119.3h1.6M179.6 88.0h1.6M149.2 143.6h1.6M169.4 126.4h1.6M157.9 115.9h1.6M190.9 98.5h1.6M171.4 115.2h1.6M163.9 113.9h1.6M162.2 137.9h1.6M160.6 119.3h1.6M128.3 184.2h1.6M163.7 112.4h1.6M160.7 181.4h1.6M182.9 103.0h1.6M189.3 102.5h1.6M186.6 61.5h1.6M175.2 78.3h1.6M203.0 78.8h1.6M200.8 116.7h1.6M155.6 110.1h1.6M164.1 138.0h1.6M164.2 106.4h1.6M183.4 129.1h1.6M150.6 108.0h1.6M155.3 84.6h1.6M182.3 120.2h1.6M196.6 122.6h1.6M149.8 117.9h1.6M149.3 83.7h1.6M168.6 115.1h1.6M196.2 38.0h1.6M153.8 122.4h1.6M117.2 126.6h1.6M172.3 97.0h1.6M137.1 178.5h1.6M152.7 108.5h1.6M165.1 98.9h1.6M159.1 142.4h1.6M152.2 130.0h1.6M131.7 130.4h1.6M196.7 123.1h1.6M204.7 173.3h1.6M163.4 146.9h1.6M194.5 136.2h1.6M197.4 105.7h1.6M129.1 158.2h1.6M174.8 126.2h1.6M133.8 124.0h1.6M143.7 153.4h1.6M209.7 107.1h1.6M149.5 119.2h1.6M191.0 103.2h1.6M172.4 132.9h1.6M186.2 114.9h1.6M171.6 72.8h1.6M192.3 166.9h1.6M214.4 66.2h1.6M153.0 139.9h1.6M161.5 93.1h1.6M158.1 139.2h1.6M191.3 116.3h1.6M184.2 91.5h1.6M170.7 138.8h1.6M183.5 91.2h1.6M159.5 104.1h1.6M162.2 132.0h1.6M188.7 119.6h1.6M159.2 119.8h1.6M172.4 109.3h1.6M160.5 168.2h1.6M174.3 108.1h1.6M177.2 58.8h1.6M195.5 51.1h1.6M206.2 78.3h1.6M188.9 63.3h1.6M219.5 81.7h1.6M167.3 71.2h1.6M206.3 88.6h1.6M189.7 65.1h1.6M209.9 46.7h1.6M168.8 58.0h1.6M214.8 141.6h1.6M205.9 153.7h1.6M199.1 158.1h1.6M154.2 154.1h1.6M162.5 147.6h1.6M151.7 149.5h1.6M158.1 151.8h1.6M173.9 139.4h1.6M154.7 143.4h1.6M140.3 172.3h1.6M143.3 169.8h1.6M155.2 158.0h1.6M153.4 171.7h1.6M131.4 171.0h1.6M152.6 167.8h1.6M155.2 163.5h1.6M143.3 149.9h1.6M161.4 157.6h1.6M130.1 173.6h1.6M149.4 180.1h1.6M147.0 172.8h1.6M156.9 155.4h1.6M181.4 137.7h1.6M139.0 151.4h1.6M165.8 163.1h1.6M185.4 132.2h1.6M169.4 130.6h1.6M166.2 177.7h1.6M152.1 180.4h1.6M140.6 148.6h1.6M169.1 137.3h1.6M118.8 151.9h1.6M134.2 137.0h1.6M121.0 156.0h1.6M136.0 128.3h1.6M147.6 133.8h1.6M135.2 125.9h1.6M127.5 132.2h1.6M504.6 120.8h1.6M499.7 123.2h1.6M501.7 128.8h1.6M499.8 118.2h1.6M510.1 138.9h1.6M501.7 129.3h1.6M492.9 127.3h1.6M491.1 130.3h1.6M504.0 138.0h1.6M499.5 115.3h1.6M504.3 118.8h1.6M498.6 118.2h1.6M503.9 123.7h1.6M494.2 129.8h1.6M496.4 131.6h1.6M497.0 126.7h1.6M506.4 139.7h1.6M504.2 142.2h1.6M494.0 119.4h1.6M498.4 121.7h1.6M499.5 117.6h1.6M502.6 139.2h1.6M499.1 143.2h1.6M486.6 127.6h1.6M497.9 135.4h1.6M485.2 143.9h1.6M494.1 128.3h1.6M502.0 116.5h1.6M499.2 120.3h1.6M486.2 126.6h1.6M488.2 119.7h1.6M499.7 139.2h1.6M501.0 120.8h1.6M488.3 131.3h1.6M490.9 123.3h1.6M494.9 131.8h1.6M490.3 130.2h1.6M484.5 121.3h1.6M518.5 137.8h1.6M511.6 126.5h1.6M503.2 132.1h1.6M516.8 123.4h1.6M491.2 142.2h1.6M515.0 134.1h1.6M501.3 143.2h1.6M519.8 133.4h1.6M499.1 140.1h1.6M513.9 140.9h1.6M507.9 127.2h1.6M505.9 128.8h1.6M512.9 111.5h1.6M515.8 115.9h1.6M475.6 118.7h1.6M448.6 54.3h1.6M475.6 74.0h1.6M459.5 28.8h1.6M475.4 60.6h1.6M453.4 140.3h1.6M460.6 55.5h1.6M468.3 95.5h1.6M471.1 111.5h1.6M454.4 59.9h1.6M477.2 90.8h1.6M473.8 110.8h1.6M451.0 107.1h1.6M445.8 141.2h1.6M463.5 89.1h1.6M470.7 99.5h1.6M458.0 50.3h1.6M448.6 85.3h1.6M457.1 138.7h1.6M462.6 79.9h1.6M479.2 85.7h1.6M461.1 141.0h1.6M475.5 80.4h1.6M465.5 105.9h1.6M448.0 132.1h1.6M481.6 123.1h1.6M451.5 75.9h1.6M463.6 96.6h1.6M469.0 72.5h1.6M463.0 122.6h1.6M464.8 98.2h1.6M468.7 102.0h1.6M462.6 69.0h1.6M477.8 114.3h1.6M453.7 52.6h1.6M455.6 124.8h1.6M472.8 74.3h1.6M453.4 75.2h1.6M482.7 40.0h1.6M487.5 95.3h1.6M485.6 73.3h1.6M455.2 138.5h1.6M492.2 70.6h1.6M462.2 118.8h1.6M469.9 29.5h1.6M476.7 41.8h1.6M456.9 79.7h1.6M485.6 65.2h1.6M509.6 128.8h1.6M519.2 33.4h1.6M478.8 100.1h1.6M500.7 137.7h1.6M455.0 74.7h1.6M502.9 83.7h1.6M492.5 115.6h1.6M516.3 107.2h1.6M474.2 102.8h1.6M472.9 124.1h1.6M474.4 112.8h1.6M502.9 104.8h1.6M526.1 82.0h1.6M490.0 114.7h1.6M449.8 25.2h1.6M449.3 28.1h1.6M470.6 56.1h1.6M478.7 52.5h1.6M481.4 35.4h1.6M508.5 29.1h1.6M516.2 20.8h1.6M513.6 56.5h1.6M344.1 81.7h1.6M387.4 130.8h1.6"/><path stroke="#00b0ff" d="M119.6 174.6h1.6M91.5 187.6h1.6M109.7 179.6h1.6M100.0 181.5h1.6M102.7 181.0h1.6M102.1 179.6h1.6M116.4 176.7h1.6M116.1 178.4h1.6M111.7 182.1h1.6M102.0 178.9h1.6M89.3 190.5h1.6M99.9 170.8h1.6M109.2 186.6h1.6M101.3 177.6h1.6M113.6 178.7h1.6M102.7 175.9h1.6M88.6 188.1h1.6M87.0 176.1h1.6M112.5 186.0h1.6M78.3 183.9h1.6M116.4 175.0h1.6M105.0 178.5h1.6M105.7 185.8h1.6M111.7 178.2h1.6M104.5 180.0h1.6M122.2 180.9h1.6M113.5 187.0h1.6M94.3 187.6h1.6M98.3 190.9h1.6M118.6 174.6h1.6M105.2 188.1h1.6M113.8 173.6h1.6M103.3 178.5h1.6M86.2 189.5h1.6M112.2 176.7h1.6M96.5 186.2h1.6M125.6 169.5h1.6M103.7 183.5h1.6M111.8 173.3h1.6M116.4 185.0h1.6M102.4 185.6h1.6M116.9 175.0h1.6M125.3 172.1h1.6M107.1 179.6h1.6M94.8 186.3h1.6M120.0 170.6h1.6M95.7 191.3h1.6M116.6 179.3h1.6M172.1 129.1h1.6M115.0 170.4h1.6M114.6 178.1h1.6M134.5 160.1h1.6M160.0 138.2h1.6M125.3 163.5h1.6M130.3 160.3h1.6M136.6 155.3h1.6M127.6 167.7h1.6M141.8 155.3h1.6M146.9 129.8h1.6M145.8 147.7h1.6M136.6 143.1h1.6M128.8 168.2h1.6M136.3 146.1h1.6M140.1 136.0h1.6M141.1 145.6h1.6M137.0 151.8h1.6M152.9 157.5h1.6M144.8 152.5h1.6M148.9 140.2h1.6M153.3 130.4h1.6M138.4 160.1h1.6M160.4 148.3h1.6M172.2 122.4h1.6M114.6 166.0h1.6M144.8 148.8h1.6M135.4 165.0h1.6M122.8 169.4h1.6M157.0 130.3h1.6M168.6 122.1h1.6M161.3 155.0h1.6M111.4 183.9h1.6M133.5 146.7h1.6M152.8 139.4h1.6M142.8 150.1h1.6M138.2 157.2h1.6M137.8 163.4h1.6M156.3 148.4h1.6M115.9 181.4h1.6M128.9 179.0h1.6M137.0 162.9h1.6M149.0 114.3h1.6M157.4 181.1h1.6M132.4 121.6h1.6M132.5 121.6h1.6M84.2 160.0h1.6M110.2 157.9h1.6M93.2 160.1h1.6M480.5 127.5h1.6M475.7 131.6h1.6M467.2 134.5h1.6M474.1 132.0h1.6M462.5 144.2h1.6M491.5 145.3h1.6M461.8 134.8h1.6M484.4 141.2h1.6M479.2 135.5h1.6M488.8 139.1h1.6M471.6 142.2h1.6M464.8 134.4h1.6M462.7 135.3h1.6M487.6 141.4h1.6M484.2 127.3h1.6M481.8 130.1h1.6M474.9 136.2h1.6M465.4 134.1h1.6M492.3 144.4h1.6M478.7 134.2h1.6M476.8 137.4h1.6M476.9 139.3h1.6M465.1 142.1h1.6M459.7 136.9h1.6M488.5 127.1h1.6M435.1 131.2h1.6M465.0 136.4h1.6M488.2 147.0h1.6M488.2 121.2h1.6M482.6 141.9h1.6M488.5 133.6h1.6M479.3 138.8h1.6M457.2 123.3h1.6M481.5 132.8h1.6M486.8 135.4h1.6M482.6 115.5h1.6M473.0 136.3h1.6M471.7 144.2h1.6M466.5 142.5h1.6M486.5 127.9h1.6M368.9 143.2h1.6M387.7 142.8h1.6M371.7 143.9h1.6M384.6 143.2h1.6M375.2 143.5h1.6M371.4 142.7h1.6M406.1 144.1h1.6M387.9 153.2h1.6M382.1 169.9h1.6M431.1 143.2h1.6M432.2 145.5h1.6M426.1 147.7h1.6M428.5 138.8h1.6M421.0 142.3h1.6M433.4 144.3h1.6M430.6 141.7h1.6M430.8 145.1h1.6M438.1 141.2h1.6M445.5 147.1h1.6M458.7 146.6h1.6M486.0 139.6h1.6M454.9 142.2h1.6M485.6 146.1h1.6M479.5 144.2h1.6M482.0 143.6h1.6M464.4 141.4h1.6M462.3 142.9h1.6M443.6 144.3h1.6M452.0 146.2h1.6M492.2 144.4h1.6M483.8 144.5h1.6M450.9 142.6h1.6M442.3 143.7h1.6M478.2 144.4h1.6M364.3 150.3h1.6M370.7 155.1h1.6M367.0 144.1h1.6M439.7 166.8h1.6M434.6 150.1h1.6M433.3 155.1h1.6M412.9 153.3h1.6M437.3 153.9h1.6M435.4 170.0h1.6M435.4 161.4h1.6M462.1 51.4h1.6M478.3 97.6h1.6M456.0 70.6h1.6M461.3 90.3h1.6M444.5 112.6h1.6M467.2 134.8h1.6M441.3 126.1h1.6M457.8 131.5h1.6M452.5 86.5h1.6M475.6 75.4h1.6M452.8 41.6h1.6M447.9 89.1h1.6M470.7 117.9h1.6M445.8 109.1h1.6M462.5 123.0h1.6M456.1 129.1h1.6M450.3 105.3h1.6M458.0 103.0h1.6M444.5 97.1h1.6M449.8 101.7h1.6"/><path stroke="#ff6a00" d="M159.1 125.1h1.6M203.1 68.7h1.6M143.2 157.1h1.6M190.3 108.4h1.6M175.1 129.3h1.6M174.0 105.5h1.6M157.2 121.4h1.6M155.4 169.2h1.6M181.7 110.0h1.6M157.3 154.2h1.6M185.8 121.0h1.6M200.1 86.1h1.6M169.6 100.3h1.6M160.2 139.5h1.6M137.9 130.8h1.6M160.9 156.7h1.6M151.3 138.4h1.6M180.0 59.4h1.6M134.5 185.6h1.6M165.6 125.2h1.6M173.7 92.5h1.6M187.3 95.1h1.6M145.7 151.1h1.6M155.9 138.7h1.6M160.8 150.7h1.6M178.4 124.9h1.6M156.4 138.4h1.6M148.7 167.7h1.6M168.8 119.7h1.6M165.8 133.6h1.6M172.1 128.2h1.6M181.4 91.1h1.6M189.8 109.8h1.6M188.1 93.5h1.6M160.1 122.7h1.6M145.7 137.7h1.6M158.3 111.5h1.6M149.2 108.9h1.6M206.1 90.3h1.6M156.7 135.1h1.6M129.7 155.5h1.6M155.1 125.4h1.6M146.2 131.9h1.6M184.6 126.8h1.6M162.6 119.7h1.6M182.5 110.3h1.6M171.1 136.3h1.6M158.5 142.2h1.6M191.3 102.3h1.6M165.1 112.7h1.6M170.4 152.3h1.6M170.3 141.7h1.6M176.0 87.7h1.6M174.0 113.8h1.6M130.0 150.3h1.6M171.8 121.9h1.6M177.8 114.7h1.6M155.6 120.0h1.6M160.6 114.9h1.6M163.6 149.6h1.6M159.7 163.9h1.6M205.9 69.0h1.6M195.1 126.1h1.6M179.7 116.1h1.6M134.6 142.1h1.6M167.0 105.8h1.6M197.5 131.1h1.6M137.4 115.6h1.6M174.1 93.1h1.6M189.5 102.4h1.6M160.5 91.5h1.6M184.1 161.6h1.6M189.6 105.3h1.6M181.3 130.2h1.6M193.2 85.0h1.6M161.8 124.6h1.6M148.1 145.8h1.6M187.9 110.5h1.6M184.3 122.3h1.6M182.6 114.6h1.6M162.5 131.1h1.6M157.6 166.1h1.6M176.3 104.5h1.6M166.5 123.0h1.6M189.2 118.4h1.6M175.1 126.1h1.6M153.1 161.4h1.6M165.8 178.5h1.6M189.6 142.0h1.6M169.3 126.3h1.6M186.3 142.7h1.6M163.8 97.1h1.6M136.8 120.7h1.6M163.5 137.2h1.6M113.2 149.4h1.6M200.1 128.5h1.6M137.8 172.3h1.6M183.0 126.8h1.6M189.6 31.4h1.6M138.5 104.9h1.6M160.3 121.7h1.6M157.0 138.1h1.6M163.2 162.0h1.6M190.2 104.0h1.6M170.4 174.6h1.6M134.7 149.1h1.6M117.6 170.8h1.6M139.6 112.3h1.6M137.6 162.3h1.6M134.8 126.5h1.6M192.9 75.4h1.6M185.1 124.2h1.6M180.1 155.6h1.6M191.4 114.4h1.6M145.5 147.1h1.6M178.0 102.7h1.6M188.5 106.3h1.6M218.6 93.9h1.6M177.2 88.3h1.6M188.3 41.9h1.6M191.3 56.5h1.6M197.2 82.6h1.6M178.5 95.1h1.6M165.2 96.5h1.6M214.2 29.9h1.6M193.1 36.5h1.6M149.5 40.6h1.6M142.6 30.3h1.6M204.9 145.6h1.6M155.0 176.1h1.6M150.0 154.9h1.6M157.8 167.9h1.6M176.0 135.9h1.6M156.7 158.4h1.6M154.9 172.4h1.6M172.5 138.4h1.6M160.0 169.2h1.6M146.4 152.9h1.6M167.2 133.9h1.6M114.9 162.0h1.6M144.1 108.5h1.6M143.7 134.4h1.6M127.4 144.0h1.6M131.1 143.9h1.6M126.7 136.0h1.6M129.9 130.7h1.6M141.4 112.4h1.6M143.6 139.7h1.6M491.1 137.7h1.6M508.1 139.0h1.6M498.9 111.5h1.6M501.6 133.2h1.6M486.0 126.2h1.6M488.1 122.3h1.6M500.9 118.2h1.6M508.2 133.5h1.6M513.2 128.4h1.6M492.9 132.9h1.6M505.5 129.6h1.6M494.6 127.9h1.6M473.6 121.0h1.6M494.6 116.6h1.6M503.0 125.0h1.6M503.5 134.5h1.6M497.9 129.0h1.6M503.7 134.4h1.6M502.1 144.4h1.6M495.8 115.1h1.6M497.1 124.4h1.6M510.2 132.5h1.6M496.4 111.7h1.6M503.0 142.9h1.6M497.9 131.8h1.6M490.4 127.6h1.6M499.9 138.6h1.6M496.4 124.5h1.6M492.4 121.3h1.6M501.9 134.2h1.6M500.9 122.0h1.6M503.5 112.2h1.6M483.9 144.3h1.6M488.5 140.3h1.6M502.5 119.9h1.6M493.8 125.4h1.6M492.0 119.2h1.6M504.9 132.6h1.6M518.8 135.8h1.6M497.0 129.0h1.6M495.7 125.8h1.6M520.8 134.7h1.6M512.9 130.4h1.6M516.1 138.1h1.6M508.9 135.1h1.6M514.9 144.5h1.6M516.0 140.0h1.6M511.7 140.6h1.6M521.5 134.0h1.6M481.7 123.2h1.6M507.9 124.4h1.6M498.7 129.5h1.6M507.5 132.7h1.6M484.9 106.2h1.6M501.8 121.7h1.6M471.0 132.8h1.6M462.4 96.4h1.6M444.9 55.1h1.6M447.1 131.6h1.6M459.5 119.2h1.6M469.6 92.2h1.6M458.9 108.8h1.6M459.8 117.0h1.6M446.8 68.9h1.6M461.2 85.9h1.6M449.5 88.1h1.6M456.6 118.3h1.6M468.2 72.6h1.6M469.5 93.1h1.6M468.6 112.7h1.6M480.1 115.0h1.6M469.3 79.9h1.6M476.2 118.2h1.6M465.5 60.7h1.6M477.5 80.9h1.6M453.0 89.2h1.6M460.1 121.6h1.6M466.7 119.6h1.6M476.2 121.0h1.6M471.2 20.1h1.6M452.3 119.9h1.6M497.9 75.3h1.6M501.3 114.1h1.6M525.8 85.8h1.6M500.0 110.4h1.6M453.9 104.0h1.6M456.7 93.2h1.6M494.5 63.7h1.6M447.5 99.7h1.6M485.5 106.4h1.6M458.5 91.1h1.6M492.3 78.5h1.6M447.4 112.7h1.6M480.7 55.4h1.6M490.3 99.0h1.6M472.9 25.4h1.6M496.8 90.8h1.6M472.0 53.1h1.6M492.8 128.4h1.6M494.7 143.0h1.6M489.3 85.7h1.6M526.3 119.9h1.6M452.2 25.0h1.6M484.4 48.8h1.6M476.5 101.6h1.6"/><path stroke="#00b0ff" d="M101.5 185.1h1.6M106.7 170.4h1.6M83.7 188.1h1.6M103.9 180.2h1.6M105.7 178.1h1.6M104.1 175.7h1.6M109.1 178.4h1.6M98.6 188.9h1.6M123.7 176.5h1.6M100.1 169.8h1.6M101.2 174.9h1.6M128.5 169.5h1.6M96.4 187.5h1.6M103.5 179.6h1.6M106.0 182.2h1.6M98.7 179.5h1.6M109.4 179.4h1.6M113.3 183.6h1.6M114.7 165.2h1.6M108.8 180.3h1.6M98.5 184.4h1.6M110.8 184.6h1.6M110.7 178.1h1.6M101.7 186.3h1.6M91.2 188.6h1.6M90.6 187.4h1.6M124.3 171.0h1.6M110.9 184.3h1.6M104.6 191.4h1.6M115.2 188.2h1.6M91.3 187.8h1.6M110.1 178.1h1.6M113.6 175.6h1.6M88.0 181.7h1.6M123.1 167.2h1.6M106.9 181.1h1.6M109.7 173.2h1.6M116.4 165.5h1.6M115.5 176.6h1.6M103.4 178.5h1.6M88.7 181.7h1.6M110.2 176.2h1.6M98.7 172.9h1.6M96.1 193.5h1.6M113.0 174.8h1.6M97.1 179.5h1.6M110.3 169.3h1.6M144.5 165.8h1.6M99.7 179.8h1.6M117.4 184.1h1.6M137.7 150.5h1.6M133.8 150.2h1.6M154.9 143.6h1.6M143.7 157.7h1.6M118.6 178.4h1.6M140.4 157.6h1.6M174.4 124.1h1.6M155.6 147.7h1.6M134.0 164.3h1.6M119.5 177.5h1.6M128.2 157.4h1.6M153.4 138.5h1.6M113.3 182.2h1.6M134.5 157.0h1.6M159.6 154.7h1.6M122.9 164.0h1.6M132.9 163.2h1.6M135.0 159.8h1.6M123.6 176.4h1.6M134.0 176.5h1.6M164.3 129.1h1.6M132.4 167.1h1.6M146.1 148.7h1.6M140.6 165.3h1.6M134.4 162.8h1.6M135.8 170.5h1.6M155.9 135.6h1.6M179.2 113.7h1.6M125.7 172.7h1.6M129.2 146.8h1.6M122.7 162.8h1.6M122.3 163.7h1.6M143.4 170.5h1.6M133.2 165.4h1.6M158.8 120.5h1.6M123.8 155.7h1.6M133.6 170.9h1.6M181.7 76.3h1.6M190.0 127.9h1.6M187.3 50.7h1.6M136.7 101.1h1.6M124.3 197.5h1.6M100.7 157.8h1.6M82.4 159.7h1.6M469.9 135.4h1.6M467.8 133.9h1.6M472.9 144.5h1.6M481.0 145.4h1.6M485.6 133.7h1.6M474.7 140.4h1.6M473.3 125.7h1.6M478.9 134.8h1.6M471.9 131.5h1.6M482.4 129.3h1.6M476.0 126.9h1.6M479.1 139.8h1.6M486.5 141.2h1.6M486.9 138.9h1.6M471.5 143.6h1.6M477.5 138.7h1.6M484.4 131.7h1.6M474.7 142.3h1.6M476.4 129.0h1.6M471.5 135.3h1.6M478.1 126.1h1.6M478.5 126.0h1.6M476.1 127.3h1.6M467.7 134.0h1.6M486.8 141.4h1.6M475.8 144.8h1.6M491.3 140.1h1.6M480.7 136.0h1.6M463.5 143.6h1.6M486.3 138.2h1.6M480.7 119.3h1.6M480.3 133.5h1.6M487.8 145.8h1.6M475.9 129.8h1.6M483.9 116.4h1.6M470.0 139.7h1.6M466.8 138.4h1.6M481.1 117.9h1.6M486.4 124.3h1.6M474.8 137.5h1.6M476.9 139.7h1.6M475.6 121.2h1.6M478.1 143.7h1.6M460.2 134.8h1.6M376.6 142.6h1.6M381.3 142.5h1.6M381.6 142.4h1.6M377.8 143.2h1.6M362.5 142.7h1.6M385.1 143.6h1.6M384.1 143.1h1.6M405.8 143.2h1.6M397.0 144.1h1.6M388.1 180.8h1.6M390.7 149.8h1.6M384.6 180.3h1.6M439.2 145.5h1.6M419.0 144.5h1.6M414.2 142.8h1.6M419.0 147.9h1.6M416.4 144.4h1.6M466.7 144.2h1.6M484.0 144.0h1.6M486.8 143.1h1.6M473.1 143.4h1.6M487.8 142.0h1.6M445.3 141.8h1.6M477.8 142.6h1.6M443.1 142.9h1.6M453.4 144.5h1.6M443.4 146.4h1.6M464.1 145.0h1.6M488.5 141.4h1.6M487.0 148.3h1.6M369.2 147.5h1.6M359.8 145.9h1.6M371.9 173.5h1.6M437.5 163.7h1.6M416.0 186.5h1.6M415.7 157.1h1.6M444.6 188.5h1.6M440.7 150.6h1.6M474.7 155.6h1.6M449.8 156.5h1.6M455.6 84.4h1.6M442.6 98.2h1.6M454.2 76.9h1.6M456.9 71.3h1.6M436.0 128.8h1.6M474.7 88.0h1.6M474.9 88.3h1.6M440.7 125.3h1.6M455.2 87.9h1.6M460.4 62.1h1.6M457.1 86.1h1.6M402.1 138.8h1.6M456.1 120.8h1.6M451.1 124.7h1.6M458.2 111.6h1.6M462.2 96.4h1.6M445.9 115.2h1.6M447.5 119.5h1.6M455.6 128.0h1.6M431.6 139.8h1.6M456.2 101.6h1.6M456.8 114.7h1.6M458.5 112.6h1.6M448.4 117.5h1.6"/><path stroke="#ff6a00" d="M160.7 158.0h1.6M177.1 111.3h1.6M143.5 137.9h1.6M159.9 147.0h1.6M141.6 167.2h1.6M173.2 134.8h1.6M118.2 157.2h1.6M143.4 150.5h1.6M151.7 149.6h1.6M178.5 119.1h1.6M182.2 128.0h1.6M176.6 144.8h1.6M177.7 115.7h1.6M162.3 159.0h1.6M192.2 109.3h1.6M182.0 114.6h1.6M201.8 108.8h1.6M163.2 122.5h1.6M171.1 124.2h1.6M164.6 116.2h1.6M169.2 94.0h1.6M205.8 82.7h1.6M189.2 120.7h1.6M154.3 112.0h1.6M162.1 129.2h1.6M148.7 144.1h1.6M182.6 135.9h1.6M130.1 138.7h1.6M196.8 101.9h1.6M156.1 143.5h1.6M162.1 152.3h1.6M175.0 115.1h1.6M180.8 115.3h1.6M185.7 77.9h1.6M143.5 136.7h1.6M156.9 152.4h1.6M185.2 68.9h1.6M161.4 116.4h1.6M174.9 137.8h1.6M166.6 132.0h1.6M169.4 102.7h1.6M176.1 122.2h1.6M185.5 114.4h1.6M153.6 162.0h1.6M172.2 102.0h1.6M155.8 117.1h1.6M150.1 172.0h1.6M158.6 146.2h1.6M159.6 151.6h1.6M160.1 167.2h1.6M194.1 91.3h1.6M161.1 128.2h1.6M152.6 177.8h1.6M167.0 131.9h1.6M141.1 157.8h1.6M157.9 153.7h1.6M162.4 137.3h1.6M206.5 109.0h1.6M141.7 120.8h1.6M198.7 74.7h1.6M191.5 113.8h1.6M177.0 101.5h1.6M169.3 124.0h1.6M181.4 120.6h1.6M172.6 116.6h1.6M136.1 153.6h1.6M182.8 108.5h1.6M176.1 109.8h1.6M192.1 108.6h1.6M168.4 86.0h1.6M166.4 122.2h1.6M168.5 100.3h1.6M163.0 120.1h1.6M176.5 84.4h1.6M163.4 118.4h1.6M191.3 97.6h1.6M123.5 157.5h1.6M159.8 129.7h1.6M222.3 108.6h1.6M165.4 128.7h1.6M163.8 116.9h1.6M154.9 104.6h1.6M148.4 168.2h1.6M166.3 110.2h1.6M152.8 119.1h1.6M162.1 132.8h1.6M162.8 92.9h1.6M160.1 81.4h1.6M167.5 123.3h1.6M176.0 50.7h1.6M165.3 100.3h1.6M212.5 85.3h1.6M114.0 145.6h1.6M187.8 113.0h1.6M158.7 111.1h1.6M209.8 95.7h1.6M172.4 87.6h1.6M180.9 111.9h1.6M190.3 39.8h1.6M170.7 112.3h1.6M136.6 129.1h1.6M172.2 136.7h1.6M190.5 61.3h1.6M200.6 139.1h1.6M215.9 80.7h1.6M198.5 83.7h1.6M187.6 60.4h1.6M211.7 57.6h1.6M211.1 105.6h1.6M167.0 66.0h1.6M211.8 142.9h1.6M198.0 158.3h1.6M135.9 180.3h1.6M160.1 161.4h1.6M168.2 150.9h1.6M150.3 158.9h1.6M144.5 180.5h1.6M161.0 156.7h1.6M152.4 183.1h1.6M152.8 163.4h1.6M154.6 156.5h1.6M164.3 156.5h1.6M158.4 152.2h1.6M155.9 161.0h1.6M126.4 153.0h1.6M132.7 138.6h1.6M144.2 133.2h1.6M134.8 132.1h1.6M109.3 144.4h1.6M133.0 141.1h1.6M124.7 140.2h1.6M121.9 163.9h1.6M135.5 124.3h1.6M157.4 116.4h1.6M147.8 125.8h1.6M142.9 143.3h1.6M136.2 146.9h1.6M137.5 119.8h1.6M135.5 134.0h1.6M128.1 151.0h1.6M142.0 139.8h1.6M129.2 137.9h1.6M147.8 131.1h1.6M136.0 128.9h1.6M127.7 139.4h1.6M497.8 132.8h1.6M494.3 110.5h1.6M487.9 123.5h1.6M492.8 118.7h1.6M503.5 137.3h1.6M489.1 133.5h1.6M497.1 121.3h1.6M496.2 113.0h1.6M505.0 142.8h1.6M494.5 138.0h1.6M484.5 120.1h1.6M497.7 113.4h1.6M490.8 135.6h1.6M494.5 120.3h1.6M503.0 113.7h1.6M496.1 135.7h1.6M505.3 122.3h1.6M506.8 126.2h1.6M502.5 121.9h1.6M509.0 137.4h1.6M489.0 122.2h1.6M501.6 114.6h1.6M494.7 135.7h1.6M490.6 126.5h1.6M493.5 128.4h1.6M486.2 116.5h1.6M500.1 122.7h1.6M487.0 111.2h1.6M496.0 131.6h1.6M503.3 141.6h1.6M495.0 130.6h1.6M502.0 139.1h1.6M492.0 126.8h1.6M507.3 131.0h1.6M504.7 139.0h1.6M505.5 131.0h1.6M528.4 137.2h1.6M512.1 132.6h1.6M527.3 142.5h1.6M490.4 121.3h1.6M474.5 118.1h1.6M507.3 117.1h1.6M519.9 115.5h1.6M495.2 133.9h1.6M479.2 123.9h1.6M453.7 71.7h1.6M463.5 59.0h1.6M472.6 125.7h1.6M474.2 94.5h1.6M481.7 112.4h1.6M471.4 112.7h1.6M478.0 70.3h1.6M458.3 99.1h1.6M450.7 124.0h1.6M474.9 119.5h1.6M453.7 96.8h1.6M485.7 100.9h1.6M443.8 117.7h1.6M445.0 111.0h1.6M458.6 98.4h1.6M458.9 59.9h1.6M478.8 87.0h1.6M457.5 142.2h1.6M473.9 114.1h1.6M482.2 96.2h1.6M467.5 70.8h1.6M458.2 85.0h1.6M449.4 108.0h1.6M455.8 99.1h1.6M467.0 41.9h1.6M471.9 77.1h1.6M458.2 76.3h1.6M470.5 116.8h1.6M459.6 115.9h1.6M451.2 136.9h1.6M477.6 92.6h1.6M460.8 57.8h1.6M478.4 54.3h1.6M484.4 82.3h1.6M470.2 97.1h1.6M469.7 98.7h1.6M472.4 82.0h1.6M470.7 125.0h1.6M483.4 80.9h1.6M465.4 122.9h1.6M447.0 141.8h1.6M503.4 67.1h1.6M495.2 65.6h1.6M514.1 99.8h1.6M443.4 68.5h1.6M473.6 107.4h1.6M453.5 111.6h1.6M484.8 117.2h1.6M477.0 92.1h1.6M457.5 110.1h1.6M483.1 73.0h1.6M498.8 127.3h1.6M453.8 92.8h1.6M480.9 125.9h1.6M516.2 73.0h1.6M475.8 109.2h1.6M497.5 61.1h1.6M505.3 107.0h1.6M494.4 134.2h1.6M477.8 94.1h1.6M492.3 119.8h1.6M495.6 91.9h1.6M460.3 37.5h1.6M486.9 48.6h1.6"/><path stroke="#00b0ff" d="M109.6 175.5h1.6M105.0 182.5h1.6M114.9 172.2h1.6M105.4 178.6h1.6M100.8 178.4h1.6M111.5 169.6h1.6M102.6 184.0h1.6M106.9 172.3h1.6M107.2 186.4h1.6M105.2 176.8h1.6M110.4 170.9h1.6M104.0 178.9h1.6M107.4 178.0h1.6M101.0 172.1h1.6M110.4 182.7h1.6M105.7 184.9h1.6M109.9 179.9h1.6M115.8 178.1h1.6M102.3 176.7h1.6M95.5 184.9h1.6M109.1 181.0h1.6M103.3 180.8h1.6M90.7 188.7h1.6M96.6 184.0h1.6M109.5 175.2h1.6M104.2 187.7h1.6M119.6 171.3h1.6M110.8 182.1h1.6M111.5 176.2h1.6M105.6 180.8h1.6M100.2 182.2h1.6M110.5 174.5h1.6M114.7 186.2h1.6M123.5 167.0h1.6M108.8 183.5h1.6M103.9 179.4h1.6M107.8 188.3h1.6M144.9 142.1h1.6M144.5 152.1h1.6M122.4 161.6h1.6M171.1 140.6h1.6M134.6 151.4h1.6M160.3 139.4h1.6M159.1 160.0h1.6M162.9 138.6h1.6M137.5 159.9h1.6M168.7 139.3h1.6M157.7 140.2h1.6M126.9 166.4h1.6M151.2 158.6h1.6M121.8 164.4h1.6M146.0 159.9h1.6M151.1 149.7h1.6M127.6 162.9h1.6M118.9 156.6h1.6M129.3 152.9h1.6M157.4 141.3h1.6M149.4 143.8h1.6M136.4 145.6h1.6M176.6 123.4h1.6M162.5 121.5h1.6M154.9 138.2h1.6M141.5 151.6h1.6M119.7 171.5h1.6M144.4 148.2h1.6M154.6 123.8h1.6M154.9 124.8h1.6M146.5 169.3h1.6M157.2 154.4h1.6M159.9 136.7h1.6M159.2 129.7h1.6M141.1 144.3h1.6M113.7 169.2h1.6M162.6 130.4h1.6M137.7 148.7h1.6M110.2 182.5h1.6M126.6 168.0h1.6M155.9 149.7h1.6M142.7 161.1h1.6M151.8 149.7h1.6M144.2 152.7h1.6M164.2 141.4h1.6M136.3 172.7h1.6M195.4 117.8h1.6M128.1 36.6h1.6M466.8 138.5h1.6M481.5 133.5h1.6M486.8 140.9h1.6M479.3 133.4h1.6M478.9 129.4h1.6M477.1 136.9h1.6M467.2 143.2h1.6M469.5 130.1h1.6M471.2 132.8h1.6M479.9 132.2h1.6M460.9 137.2h1.6M481.6 140.6h1.6M470.3 143.1h1.6M480.5 143.6h1.6M477.7 142.3h1.6M463.0 134.5h1.6M480.9 130.6h1.6M469.0 130.3h1.6M470.4 140.6h1.6M464.3 139.4h1.6M471.0 130.7h1.6M475.0 131.4h1.6M472.7 133.2h1.6M475.6 127.7h1.6M473.5 144.5h1.6M470.0 134.4h1.6M487.5 142.9h1.6M478.3 141.1h1.6M482.5 145.1h1.6M491.6 141.8h1.6M467.8 123.2h1.6M467.2 143.0h1.6M481.8 138.1h1.6M476.9 140.5h1.6M480.1 143.4h1.6M476.4 143.3h1.6M474.3 122.2h1.6M472.1 135.7h1.6M488.0 136.9h1.6M465.8 137.4h1.6M473.4 127.4h1.6M468.6 133.6h1.6M478.8 129.8h1.6M461.6 133.3h1.6M469.7 138.1h1.6M492.0 131.7h1.6M363.0 142.8h1.6M366.9 142.6h1.6M393.5 142.4h1.6M373.3 144.2h1.6M409.2 143.9h1.6M397.0 143.7h1.6M379.7 148.3h1.6M435.5 143.4h1.6M420.7 145.5h1.6M425.3 142.2h1.6M419.6 147.1h1.6M421.4 144.4h1.6M430.4 146.8h1.6M442.4 144.6h1.6M460.8 146.5h1.6M459.9 145.2h1.6M486.2 141.1h1.6M476.5 144.4h1.6M462.9 145.7h1.6M448.7 148.3h1.6M440.6 144.3h1.6M362.7 145.1h1.6M369.2 149.1h1.6M362.5 150.4h1.6M368.9 156.2h1.6M399.1 147.8h1.6M378.6 150.7h1.6M373.6 165.2h1.6M398.7 163.8h1.6M427.1 150.5h1.6M411.0 185.6h1.6M435.2 184.8h1.6M419.7 157.5h1.6M444.2 191.7h1.6M439.9 194.7h1.6M436.7 161.5h1.6M460.4 63.7h1.6M470.0 45.5h1.6M460.3 74.9h1.6M456.3 38.6h1.6M457.6 59.0h1.6M463.2 41.0h1.6M471.6 103.2h1.6M463.9 94.2h1.6M460.0 109.6h1.6M462.7 82.1h1.6M453.7 110.2h1.6M470.6 102.9h1.6M461.7 140.2h1.6M465.2 99.4h1.6M449.5 128.3h1.6M462.5 80.9h1.6M460.0 69.4h1.6M360.3 75.3h1.6M383.9 100.0h1.6M463.3 109.7h1.6M460.8 116.2h1.6M460.2 109.7h1.6M470.5 102.0h1.6M471.6 122.3h1.6M465.8 104.5h1.6"/><path stroke="#ff6a00" d="M177.9 112.2h1.6M148.5 132.2h1.6M151.3 130.5h1.6M173.5 133.2h1.6M159.1 130.5h1.6M167.5 109.8h1.6M174.0 116.0h1.6M184.0 114.5h1.6M177.1 123.4h1.6M185.5 98.8h1.6M183.0 121.1h1.6M131.8 144.3h1.6M164.0 154.8h1.6M195.3 96.8h1.6M174.4 121.5h1.6M162.2 133.0h1.6M191.0 92.0h1.6M142.6 132.6h1.6M160.2 164.6h1.6M150.1 111.3h1.6M150.6 150.0h1.6M174.9 129.0h1.6M169.7 117.7h1.6M167.6 108.8h1.6M182.5 80.2h1.6M198.9 103.6h1.6M139.6 157.4h1.6M163.6 136.6h1.6M163.7 146.5h1.6M148.4 138.0h1.6M167.4 128.0h1.6M186.3 84.9h1.6M141.4 183.3h1.6M153.2 160.3h1.6M155.5 116.1h1.6M143.9 135.1h1.6M161.1 130.2h1.6M155.1 110.3h1.6M174.5 91.4h1.6M163.5 165.7h1.6M181.9 105.1h1.6M149.7 166.7h1.6M143.2 137.8h1.6M197.2 132.8h1.6M171.1 127.9h1.6M141.3 158.8h1.6M189.0 84.0h1.6M161.8 132.9h1.6M171.3 151.2h1.6M163.1 131.8h1.6M207.1 110.1h1.6M169.7 108.7h1.6M166.2 124.3h1.6M160.0 143.1h1.6M186.0 108.8h1.6M180.5 133.5h1.6M170.4 135.3h1.6M192.9 111.5h1.6M151.9 163.0h1.6M155.2 136.1h1.6M178.7 133.1h1.6M172.9 142.4h1.6M150.7 135.7h1.6M188.5 111.3h1.6M182.6 109.4h1.6M149.0 136.7h1.6M180.0 136.2h1.6M155.6 131.6h1.6M161.8 130.6h1.6M173.2 116.4h1.6M167.2 118.5h1.6M167.3 126.9h1.6M158.8 114.7h1.6M135.4 161.3h1.6M167.4 149.0h1.6M174.6 121.5h1.6M201.0 129.0h1.6M186.8 117.7h1.6M131.4 179.3h1.6M177.6 110.2h1.6M184.4 140.9h1.6M168.5 113.3h1.6M149.7 138.2h1.6M158.7 126.3h1.6M164.4 124.1h1.6M152.8 138.6h1.6M200.5 140.6h1.6M170.0 118.0h1.6M156.5 89.1h1.6M197.5 84.3h1.6M164.0 159.8h1.6M175.0 129.6h1.6M172.8 95.0h1.6M177.7 136.5h1.6M194.9 129.4h1.6M161.0 127.3h1.6M142.4 91.2h1.6M159.1 99.3h1.6M157.0 173.6h1.6M142.6 170.5h1.6M148.7 135.3h1.6M146.8 150.1h1.6M195.1 108.4h1.6M154.8 157.6h1.6M144.1 99.9h1.6M189.7 107.0h1.6M193.5 102.3h1.6M184.6 157.3h1.6M159.9 85.4h1.6M169.6 156.1h1.6M179.3 81.5h1.6M188.4 93.8h1.6M183.6 92.0h1.6M153.5 116.2h1.6M170.6 105.0h1.6M155.0 94.8h1.6M184.8 124.2h1.6M203.3 128.7h1.6M153.0 95.4h1.6M157.5 111.3h1.6M168.1 60.1h1.6M205.8 85.3h1.6M171.7 104.9h1.6M184.4 66.2h1.6M225.0 78.0h1.6M191.2 89.0h1.6M173.8 90.1h1.6M173.0 113.3h1.6M220.9 72.3h1.6M177.6 72.2h1.6M212.1 78.2h1.6M210.6 60.7h1.6M178.0 43.5h1.6M234.6 30.3h1.6M206.7 152.4h1.6M219.5 165.8h1.6M221.0 154.1h1.6M139.5 149.8h1.6M140.4 181.7h1.6M157.0 165.6h1.6M147.6 172.4h1.6M134.4 176.3h1.6M177.0 160.1h1.6M173.6 143.8h1.6M152.8 175.4h1.6M156.6 181.5h1.6M172.7 135.3h1.6M156.4 170.6h1.6M148.1 173.2h1.6M163.0 180.3h1.6M127.1 183.0h1.6M161.0 155.4h1.6M151.7 168.4h1.6M138.2 177.6h1.6M130.9 126.3h1.6M136.6 136.0h1.6M134.5 142.4h1.6M131.6 157.7h1.6M128.7 155.0h1.6M125.4 140.4h1.6M498.0 123.9h1.6M495.7 140.6h1.6M497.9 134.7h1.6M489.8 126.3h1.6M495.1 137.6h1.6M498.1 135.0h1.6M504.0 144.2h1.6M514.7 136.2h1.6M469.5 110.2h1.6M507.9 139.2h1.6M493.3 125.5h1.6M490.5 120.8h1.6M494.4 128.4h1.6M494.1 127.0h1.6M499.0 121.9h1.6M497.2 126.3h1.6M490.3 124.9h1.6M495.8 117.8h1.6M505.4 131.5h1.6M488.7 116.6h1.6M501.8 122.0h1.6M493.3 137.4h1.6M518.8 127.5h1.6M499.7 114.0h1.6M492.9 123.4h1.6M484.7 119.0h1.6M504.4 120.8h1.6M489.7 134.8h1.6M499.4 118.1h1.6M501.6 113.3h1.6M507.1 126.3h1.6M502.6 134.3h1.6M508.9 131.5h1.6M487.6 138.6h1.6M505.6 130.1h1.6M507.0 141.0h1.6M509.8 137.4h1.6M500.2 131.6h1.6M511.7 130.0h1.6M510.5 126.1h1.6M501.5 134.2h1.6M492.1 141.3h1.6M508.2 133.5h1.6M526.7 140.2h1.6M531.4 141.1h1.6M521.3 133.8h1.6M477.4 114.3h1.6M508.1 118.8h1.6M496.8 95.9h1.6M505.0 120.0h1.6M504.1 123.3h1.6M519.5 98.7h1.6M494.3 130.2h1.6M496.3 132.6h1.6M488.4 111.4h1.6M467.8 67.9h1.6M471.9 69.2h1.6M459.3 102.2h1.6M473.9 80.3h1.6M452.5 105.7h1.6M451.5 113.5h1.6M471.7 83.4h1.6M456.5 57.4h1.6M451.4 99.4h1.6M447.9 102.4h1.6M468.0 78.8h1.6M463.4 103.1h1.6M451.0 74.2h1.6M452.8 117.5h1.6M462.8 126.2h1.6M481.4 40.7h1.6M457.7 85.7h1.6M462.7 46.1h1.6M484.6 32.7h1.6M453.7 73.8h1.6M473.9 115.9h1.6M459.9 96.2h1.6M452.9 96.5h1.6M470.5 83.7h1.6M464.0 112.6h1.6M458.7 74.2h1.6M459.2 108.1h1.6M452.4 94.0h1.6M466.8 76.5h1.6M468.4 123.0h1.6M472.6 101.9h1.6M450.1 105.6h1.6M464.8 90.8h1.6M466.8 82.6h1.6M485.9 103.7h1.6M492.3 84.1h1.6M490.8 83.0h1.6M467.4 113.3h1.6M492.1 78.9h1.6M501.8 67.7h1.6M489.4 82.5h1.6M477.0 116.7h1.6M450.8 71.4h1.6M509.1 107.4h1.6M487.8 86.4h1.6M451.7 111.5h1.6M474.1 53.3h1.6M476.9 143.0h1.6M478.3 98.8h1.6M473.3 44.3h1.6M483.3 45.9h1.6M459.9 78.9h1.6M521.2 77.0h1.6M489.9 70.0h1.6M461.8 126.0h1.6M451.0 109.9h1.6M461.9 89.4h1.6M483.1 125.3h1.6M490.7 32.3h1.6M444.8 60.5h1.6M464.3 164.2h1.6M387.0 128.4h1.6"/><path stroke="#00b0ff" d="M106.0 180.5h1.6M96.4 182.4h1.6M119.5 173.1h1.6M98.5 189.9h1.6M111.7 186.4h1.6M110.2 167.0h1.6M106.1 174.7h1.6M112.6 175.0h1.6M93.6 182.3h1.6M109.6 172.8h1.6M102.2 179.0h1.6M113.9 174.2h1.6M102.2 176.9h1.6M103.3 179.9h1.6M111.8 176.2h1.6M101.5 180.7h1.6M111.7 185.7h1.6M91.3 190.5h1.6M107.7 177.8h1.6M95.3 170.1h1.6M97.7 183.1h1.6M107.2 174.7h1.6M107.8 178.9h1.6M104.1 183.0h1.6M104.7 176.4h1.6M104.4 168.3h1.6M94.3 190.4h1.6M80.9 187.7h1.6M96.9 176.9h1.6M109.1 174.3h1.6M96.5 182.1h1.6M117.3 169.6h1.6M106.9 181.6h1.6M106.4 176.0h1.6M106.8 180.4h1.6M106.2 189.8h1.6M109.8 178.8h1.6M113.9 157.1h1.6M129.6 155.0h1.6M102.2 184.9h1.6M135.8 155.5h1.6M135.9 141.1h1.6M130.0 164.1h1.6M142.4 142.9h1.6M126.8 172.2h1.6M130.8 161.4h1.6M138.8 148.9h1.6M155.0 142.5h1.6M145.5 145.8h1.6M130.6 140.2h1.6M132.6 151.9h1.6M134.6 147.6h1.6M145.8 156.3h1.6M134.5 147.4h1.6M116.0 154.8h1.6M131.4 163.5h1.6M145.5 142.5h1.6M162.0 136.2h1.6M149.5 156.7h1.6M123.0 177.7h1.6M155.7 143.6h1.6M134.4 146.2h1.6M141.9 164.4h1.6M158.3 157.6h1.6M149.0 159.3h1.6M125.6 173.6h1.6M119.1 163.3h1.6M149.9 143.3h1.6M111.6 178.7h1.6M133.5 160.6h1.6M156.0 136.5h1.6M134.3 171.3h1.6M149.3 155.1h1.6M150.7 138.5h1.6M178.9 123.0h1.6M138.8 164.2h1.6M121.0 158.4h1.6M128.1 154.6h1.6M130.8 157.7h1.6M137.7 153.7h1.6M116.2 161.2h1.6M144.7 150.2h1.6M144.6 139.3h1.6M139.6 149.2h1.6M124.5 167.6h1.6M160.7 84.6h1.6M178.9 20.0h1.6M185.4 123.1h1.6M148.1 48.1h1.6M193.7 64.7h1.6M182.7 88.3h1.6M150.5 98.4h1.6M103.1 157.5h1.6M76.7 162.4h1.6M144.8 34.4h1.6M482.7 139.7h1.6M460.3 146.9h1.6M472.2 141.4h1.6M481.7 128.9h1.6M480.4 142.9h1.6M487.8 137.5h1.6M458.5 144.4h1.6M471.6 144.0h1.6M469.2 143.9h1.6M484.7 137.4h1.6M482.9 141.2h1.6M476.3 130.9h1.6M473.8 144.4h1.6M465.8 136.5h1.6M471.5 130.8h1.6M480.8 144.6h1.6M464.9 142.7h1.6M479.5 142.7h1.6M476.1 145.1h1.6M468.8 116.7h1.6M480.3 144.6h1.6M464.0 146.2h1.6M474.7 130.8h1.6M487.6 132.3h1.6M479.7 142.8h1.6M472.1 135.6h1.6M379.2 143.1h1.6M380.9 143.2h1.6M363.2 143.2h1.6M369.6 143.7h1.6M365.4 142.9h1.6M378.0 144.2h1.6M387.7 143.8h1.6M364.5 144.1h1.6M393.3 143.9h1.6M381.8 142.2h1.6M396.4 143.8h1.6M391.7 146.8h1.6M389.6 148.6h1.6M430.5 145.3h1.6M418.1 144.0h1.6M429.4 146.3h1.6M413.4 146.9h1.6M417.2 145.1h1.6M416.7 141.5h1.6M424.2 144.3h1.6M430.9 145.2h1.6M416.2 141.3h1.6M456.0 145.5h1.6M489.8 143.7h1.6M488.2 144.4h1.6M472.2 141.9h1.6M445.7 140.4h1.6M456.6 144.4h1.6M476.5 141.5h1.6M452.9 146.6h1.6M453.5 146.2h1.6M469.6 145.5h1.6M453.3 143.6h1.6M440.1 145.5h1.6M444.9 143.1h1.6M484.3 143.3h1.6M462.8 142.7h1.6M456.7 143.7h1.6M475.6 143.1h1.6M359.8 155.6h1.6M365.3 158.0h1.6M361.5 145.9h1.6M336.7 143.9h1.6M409.1 149.4h1.6M411.1 177.6h1.6M438.7 182.8h1.6M412.0 197.7h1.6M415.0 159.2h1.6M409.5 179.6h1.6M405.6 177.0h1.6M439.9 164.9h1.6M440.4 170.5h1.6M484.0 189.5h1.6M476.9 89.0h1.6M466.1 114.0h1.6M480.3 25.6h1.6M474.8 78.1h1.6M476.1 78.9h1.6M466.4 80.3h1.6M458.4 134.0h1.6M468.1 57.3h1.6M467.1 58.9h1.6M462.0 119.4h1.6M489.0 67.2h1.6M485.9 61.7h1.6M377.2 47.1h1.6M400.0 131.5h1.6M422.3 38.3h1.6M449.6 118.1h1.6M466.7 126.4h1.6M448.9 110.1h1.6M453.7 108.3h1.6M451.2 126.3h1.6M450.6 122.1h1.6M466.7 110.5h1.6"/><path stroke="#ff6a00" d="M142.4 187.4h1.6M185.6 95.7h1.6M173.0 146.6h1.6M160.4 145.4h1.6M189.0 120.3h1.6M175.7 84.5h1.6M149.5 136.2h1.6M159.0 118.8h1.6M197.8 119.3h1.6M167.5 122.1h1.6M177.3 118.4h1.6M154.3 143.4h1.6M179.7 93.2h1.6M146.5 91.2h1.6M154.7 143.4h1.6M175.3 95.5h1.6M184.8 131.6h1.6M162.9 122.1h1.6M180.7 136.5h1.6M181.1 85.2h1.6M152.3 122.1h1.6M175.6 99.0h1.6M166.6 145.5h1.6M159.3 133.7h1.6M157.6 130.4h1.6M168.9 122.8h1.6M177.4 159.3h1.6M151.0 164.4h1.6M179.2 102.9h1.6M182.9 108.1h1.6M182.9 120.5h1.6M146.4 157.6h1.6M156.5 134.6h1.6M189.1 122.3h1.6M179.5 108.1h1.6M132.7 179.3h1.6M166.8 89.5h1.6M151.8 105.3h1.6M137.0 169.1h1.6M163.4 138.1h1.6M135.5 149.6h1.6M154.8 146.1h1.6M150.4 110.6h1.6M209.2 86.8h1.6M150.2 148.0h1.6M163.9 114.3h1.6M161.9 134.9h1.6M170.4 128.3h1.6M155.8 125.9h1.6M164.9 135.0h1.6M176.3 121.2h1.6M151.7 146.8h1.6M169.4 126.8h1.6M175.7 101.2h1.6M187.6 124.1h1.6M147.4 124.9h1.6M159.1 116.5h1.6M129.1 159.1h1.6M173.2 123.6h1.6M175.3 56.0h1.6M177.8 154.7h1.6M179.7 84.6h1.6M159.2 132.3h1.6M160.8 99.5h1.6M205.4 104.6h1.6M165.9 129.0h1.6M141.3 168.8h1.6M143.8 124.9h1.6M190.2 86.9h1.6M133.7 134.3h1.6M138.3 173.1h1.6M142.7 146.7h1.6M202.8 99.5h1.6M163.5 83.4h1.6M159.5 125.2h1.6M148.2 151.2h1.6M217.0 27.4h1.6M165.6 120.0h1.6M176.2 134.8h1.6M147.1 130.7h1.6M168.4 135.5h1.6M184.4 112.0h1.6M191.4 105.3h1.6M143.9 109.9h1.6M190.5 95.7h1.6M137.9 173.1h1.6M153.4 167.7h1.6M217.9 62.5h1.6M160.7 143.1h1.6M170.9 102.5h1.6M185.9 128.1h1.6M171.3 131.2h1.6M161.2 111.2h1.6M188.8 89.4h1.6M208.2 71.2h1.6M160.9 114.7h1.6M182.9 156.4h1.6M181.7 108.6h1.6M176.7 152.6h1.6M181.9 110.4h1.6M160.3 156.8h1.6M158.1 104.7h1.6M161.1 121.8h1.6M176.0 109.6h1.6M167.4 116.8h1.6M187.0 107.7h1.6M149.2 110.1h1.6M208.7 69.0h1.6M208.4 95.8h1.6M181.5 78.9h1.6M206.5 70.5h1.6M195.8 84.5h1.6M206.9 78.8h1.6M222.5 92.4h1.6M174.4 69.8h1.6M177.7 95.9h1.6M186.9 114.9h1.6M198.7 107.3h1.6M189.7 87.3h1.6M181.4 86.0h1.6M210.6 45.6h1.6M190.8 168.7h1.6M205.4 142.6h1.6M178.0 151.8h1.6M138.7 158.7h1.6M158.5 148.0h1.6M159.7 171.6h1.6M172.3 142.4h1.6M169.6 142.3h1.6M160.1 163.7h1.6M164.9 161.8h1.6M124.0 175.1h1.6M148.5 174.3h1.6M171.8 149.6h1.6M160.0 140.5h1.6M178.5 126.2h1.6M162.5 160.2h1.6M152.7 157.8h1.6M126.6 145.8h1.6M120.9 131.1h1.6M116.0 160.8h1.6M110.7 134.6h1.6M117.7 145.4h1.6M499.7 129.4h1.6M499.9 118.9h1.6M515.1 135.3h1.6M499.7 129.7h1.6M509.9 131.5h1.6M484.3 111.5h1.6M506.3 139.9h1.6M502.8 126.8h1.6M505.1 131.8h1.6M500.4 120.2h1.6M503.2 142.9h1.6M497.7 119.7h1.6M492.7 120.1h1.6M499.2 145.4h1.6M493.9 131.4h1.6M502.2 126.0h1.6M504.8 123.5h1.6M503.2 132.6h1.6M491.6 131.0h1.6M494.4 127.9h1.6M493.8 120.6h1.6M492.7 128.1h1.6M490.6 117.0h1.6M505.0 121.1h1.6M494.1 116.7h1.6M493.8 127.0h1.6M509.8 134.2h1.6M495.1 133.5h1.6M505.0 128.4h1.6M501.0 129.3h1.6M488.7 139.0h1.6M518.7 139.4h1.6M503.5 127.2h1.6M483.8 106.4h1.6M507.2 134.9h1.6M471.3 80.8h1.6M477.2 110.8h1.6M463.4 102.8h1.6M471.7 124.4h1.6M466.0 88.7h1.6M446.8 58.1h1.6M457.2 91.1h1.6M469.2 89.3h1.6M473.2 113.2h1.6M461.8 73.6h1.6M465.0 82.5h1.6M446.7 117.6h1.6M462.9 71.7h1.6M492.9 114.1h1.6M474.5 71.6h1.6M461.0 131.3h1.6M446.7 93.0h1.6M472.0 81.6h1.6M465.4 33.7h1.6M478.0 62.6h1.6M451.2 127.9h1.6M475.7 86.3h1.6M476.5 117.6h1.6M453.5 53.4h1.6M447.9 78.0h1.6M461.1 73.7h1.6M470.8 62.7h1.6M458.7 93.6h1.6M451.3 110.7h1.6M469.6 98.4h1.6M470.9 93.7h1.6M503.8 116.6h1.6M465.2 107.6h1.6M468.2 100.6h1.6M478.6 102.7h1.6M498.8 143.1h1.6M454.1 72.1h1.6M470.7 81.4h1.6M523.8 65.9h1.6M490.0 100.1h1.6M505.3 101.9h1.6M482.8 79.0h1.6M506.8 77.9h1.6M454.7 110.1h1.6M454.3 32.1h1.6M450.0 103.0h1.6M514.1 56.3h1.6M483.2 95.4h1.6M452.1 111.0h1.6M452.5 89.1h1.6M454.4 70.4h1.6M472.7 22.8h1.6M509.3 39.1h1.6M443.5 30.4h1.6M478.6 39.9h1.6M463.2 162.6h1.6M387.7 137.2h1.6"/><path stroke="#00b0ff" d="M101.5 181.6h1.6M119.2 181.9h1.6M107.4 174.5h1.6M107.5 178.3h1.6M107.8 182.2h1.6M104.1 179.0h1.6M113.9 178.4h1.6M106.7 177.2h1.6M91.0 182.3h1.6M104.2 181.0h1.6M91.4 186.2h1.6M118.3 172.9h1.6M114.4 182.2h1.6M106.5 185.8h1.6M118.8 174.6h1.6M107.4 176.9h1.6M97.2 184.8h1.6M96.9 181.8h1.6M90.9 182.2h1.6M100.8 164.6h1.6M110.3 182.5h1.6M118.8 176.6h1.6M103.2 185.8h1.6M103.4 172.2h1.6M111.7 172.6h1.6M100.7 181.0h1.6M113.6 181.0h1.6M91.9 189.7h1.6M98.0 182.9h1.6M96.2 185.0h1.6M87.4 178.7h1.6M108.2 186.1h1.6M93.8 182.1h1.6M103.4 176.9h1.6M117.4 181.3h1.6M103.8 175.8h1.6M119.0 179.6h1.6M139.5 155.1h1.6M154.2 149.4h1.6M142.1 154.7h1.6M137.5 154.7h1.6M126.6 167.2h1.6M111.2 178.9h1.6M149.6 140.2h1.6M156.4 144.2h1.6M145.6 158.9h1.6M174.9 125.9h1.6M145.2 148.9h1.6M133.1 149.0h1.6M149.9 151.6h1.6M131.9 177.1h1.6M159.6 135.9h1.6M124.5 156.8h1.6M148.8 146.9h1.6M135.3 143.6h1.6M148.6 136.2h1.6M154.6 147.5h1.6M124.4 162.9h1.6M138.8 159.3h1.6M134.4 148.3h1.6M156.1 150.8h1.6M142.0 168.1h1.6M149.5 152.5h1.6M111.5 182.7h1.6M151.2 146.1h1.6M157.5 136.1h1.6M120.6 180.0h1.6M154.6 156.4h1.6M128.8 165.1h1.6M149.0 153.9h1.6M137.0 154.4h1.6M148.3 152.1h1.6M133.4 170.7h1.6M138.9 146.0h1.6M153.8 146.2h1.6M113.3 176.6h1.6M105.6 180.8h1.6M129.5 161.4h1.6M148.9 143.2h1.6M131.5 166.8h1.6M115.9 181.0h1.6M100.8 185.8h1.6M140.1 159.2h1.6M152.1 142.8h1.6M151.4 161.1h1.6M139.8 159.9h1.6M130.9 148.4h1.6M137.4 151.4h1.6M99.5 191.5h1.6M135.0 149.4h1.6M141.8 170.2h1.6M161.7 148.0h1.6M146.4 145.7h1.6M145.3 144.7h1.6M172.6 80.5h1.6M169.4 74.3h1.6M175.4 51.9h1.6M120.4 136.4h1.6M188.7 119.0h1.6M473.4 143.4h1.6M468.1 130.4h1.6M482.1 146.6h1.6M481.1 128.7h1.6M472.3 139.4h1.6M477.3 139.5h1.6M463.0 139.3h1.6M485.2 142.2h1.6M468.7 130.9h1.6M478.8 138.6h1.6M476.8 146.2h1.6M471.7 142.3h1.6M474.8 126.9h1.6M475.2 142.9h1.6M473.6 129.1h1.6M479.4 133.9h1.6M470.1 128.4h1.6M474.4 140.1h1.6M472.5 133.0h1.6M479.0 143.4h1.6M475.5 141.2h1.6M468.7 126.0h1.6M465.5 142.2h1.6M470.6 140.0h1.6M474.1 143.6h1.6M490.3 146.2h1.6M479.6 115.6h1.6M481.3 131.9h1.6M495.2 127.7h1.6M477.3 111.8h1.6M483.5 131.9h1.6M480.9 144.0h1.6M465.7 146.9h1.6M480.4 138.1h1.6M494.1 139.7h1.6M485.5 132.3h1.6M379.7 144.2h1.6M393.5 143.3h1.6M372.9 143.8h1.6M388.6 144.0h1.6M371.3 143.1h1.6M368.9 143.9h1.6M370.1 143.2h1.6M381.5 143.9h1.6M380.4 143.6h1.6M379.3 144.3h1.6M389.1 144.3h1.6M378.4 143.9h1.6M409.3 143.8h1.6M406.7 142.4h1.6M382.8 146.9h1.6M424.6 145.0h1.6M438.1 141.9h1.6M412.4 147.2h1.6M419.4 142.5h1.6M413.0 140.8h1.6M462.2 148.7h1.6M483.4 146.7h1.6M463.6 143.5h1.6M453.8 145.7h1.6M448.4 141.6h1.6M452.8 144.0h1.6M482.8 144.4h1.6M477.7 141.5h1.6M476.2 146.2h1.6M447.2 144.1h1.6M450.7 142.6h1.6M449.1 147.4h1.6M456.0 144.9h1.6M489.3 147.3h1.6M367.1 149.0h1.6M359.3 161.2h1.6M367.7 145.8h1.6M342.6 143.9h1.6M381.6 177.0h1.6M383.9 180.7h1.6M413.4 148.9h1.6M404.7 172.1h1.6M436.8 159.3h1.6M415.2 161.8h1.6M440.4 166.9h1.6M430.5 173.7h1.6M418.1 192.5h1.6M444.6 165.1h1.6M441.2 159.7h1.6M470.7 72.6h1.6M442.3 47.6h1.6M469.0 80.0h1.6M464.3 85.3h1.6M465.4 75.6h1.6M459.2 73.3h1.6M456.9 125.9h1.6M469.0 117.0h1.6M466.6 105.3h1.6M462.9 110.5h1.6M450.1 93.9h1.6M458.8 113.4h1.6"/><path stroke="#ff6a00" d="M168.9 136.1h1.6M148.6 158.5h1.6M159.9 126.1h1.6M186.3 96.4h1.6M161.5 121.4h1.6M176.4 107.4h1.6M149.1 137.2h1.6M199.5 109.2h1.6M153.2 128.3h1.6M157.9 146.3h1.6M200.0 75.4h1.6M161.0 126.9h1.6M148.6 155.1h1.6M166.1 118.6h1.6M133.6 137.3h1.6M143.5 166.4h1.6M176.3 111.9h1.6M172.0 113.2h1.6M166.6 134.5h1.6M163.2 134.1h1.6M156.9 134.5h1.6M170.6 133.7h1.6M145.8 147.9h1.6M162.6 112.8h1.6M159.4 138.7h1.6M149.8 107.3h1.6M197.3 115.1h1.6M138.7 136.0h1.6M183.4 118.0h1.6M206.5 138.0h1.6M172.7 138.2h1.6M132.7 156.1h1.6M153.0 133.8h1.6M156.3 122.9h1.6M176.7 110.6h1.6M178.8 107.5h1.6M149.8 113.5h1.6M189.7 133.1h1.6M211.3 94.8h1.6M132.1 125.0h1.6M161.5 121.3h1.6M174.3 147.0h1.6M191.9 93.6h1.6M149.5 131.4h1.6M177.4 106.8h1.6M135.9 155.9h1.6M163.0 107.7h1.6M200.4 97.0h1.6M183.9 100.5h1.6M173.2 109.6h1.6M193.8 116.0h1.6M174.9 73.9h1.6M167.5 112.6h1.6M136.7 151.9h1.6M172.7 133.0h1.6M173.5 126.7h1.6M186.0 116.0h1.6M137.2 177.9h1.6M164.8 126.0h1.6M153.8 148.2h1.6M154.0 133.9h1.6M154.3 119.1h1.6M224.9 54.7h1.6M168.3 107.0h1.6M189.2 146.5h1.6M159.2 115.9h1.6M174.8 128.2h1.6M137.7 133.4h1.6M144.9 148.4h1.6M192.5 107.1h1.6M156.7 127.8h1.6M124.7 112.6h1.6M157.4 179.0h1.6M180.1 84.4h1.6M188.1 123.7h1.6M184.3 141.9h1.6M163.9 115.2h1.6M167.8 114.2h1.6M148.7 155.1h1.6M188.9 116.5h1.6M164.8 141.2h1.6M161.1 164.2h1.6M174.8 79.4h1.6M184.4 122.0h1.6M173.6 118.6h1.6M151.6 155.8h1.6M149.9 156.3h1.6M173.9 156.4h1.6M198.8 45.6h1.6M139.1 112.8h1.6M126.9 156.9h1.6M198.8 74.0h1.6M156.3 114.5h1.6M177.9 150.9h1.6M174.1 108.1h1.6M168.7 123.8h1.6M168.1 83.2h1.6M189.0 95.1h1.6M155.9 96.5h1.6M169.8 161.3h1.6M165.7 158.7h1.6M149.6 98.1h1.6M173.8 90.9h1.6M161.1 86.9h1.6M207.0 99.5h1.6M149.4 114.7h1.6M166.9 97.3h1.6M160.4 119.9h1.6M159.0 114.7h1.6M135.8 103.0h1.6M187.1 134.0h1.6M165.6 128.1h1.6M187.0 130.3h1.6M154.9 138.2h1.6M149.2 142.2h1.6M164.3 109.5h1.6M175.5 141.1h1.6M179.0 147.2h1.6M155.8 117.7h1.6M146.4 95.7h1.6M181.4 82.3h1.6M173.2 73.2h1.6M167.0 78.0h1.6M183.1 86.5h1.6M163.5 73.6h1.6M175.5 77.1h1.6M158.7 94.5h1.6M202.9 93.1h1.6M173.2 73.2h1.6M164.7 86.4h1.6M146.1 28.4h1.6M207.7 154.0h1.6M163.6 177.4h1.6M177.3 134.8h1.6M153.1 148.5h1.6M152.2 153.7h1.6M136.9 180.3h1.6M150.8 172.1h1.6M140.1 162.3h1.6M117.7 188.5h1.6M152.6 148.0h1.6M174.6 174.1h1.6M131.2 145.3h1.6M125.4 160.5h1.6M150.6 143.2h1.6M115.9 154.9h1.6M134.1 151.0h1.6M132.6 135.0h1.6M117.8 154.3h1.6M144.3 132.8h1.6M507.9 129.3h1.6M492.9 113.8h1.6M495.3 130.9h1.6M482.6 124.1h1.6M497.9 120.4h1.6M495.8 135.4h1.6M491.9 124.0h1.6M497.4 122.2h1.6M490.6 109.1h1.6M508.5 139.9h1.6M512.3 118.6h1.6M501.2 143.4h1.6M499.1 117.8h1.6M491.7 116.3h1.6M492.6 117.5h1.6M507.2 127.2h1.6M497.7 145.6h1.6M501.6 111.2h1.6M499.4 127.2h1.6M505.6 129.1h1.6M490.6 130.6h1.6M504.0 127.1h1.6M504.8 136.2h1.6M506.0 123.7h1.6M514.1 139.7h1.6M490.5 120.7h1.6M495.5 105.4h1.6M482.7 124.2h1.6M494.6 113.4h1.6M504.7 139.1h1.6M506.6 119.2h1.6M506.4 123.2h1.6M501.9 121.2h1.6M502.5 121.4h1.6M501.3 146.6h1.6M498.3 143.5h1.6M524.2 122.5h1.6M520.7 137.6h1.6M514.7 127.4h1.6M516.8 134.7h1.6M510.2 130.1h1.6M515.0 137.3h1.6M483.2 115.8h1.6M515.2 100.8h1.6M494.0 113.4h1.6M512.6 114.2h1.6M477.8 123.3h1.6M514.4 110.2h1.6M476.9 81.6h1.6M473.5 120.0h1.6M486.3 36.6h1.6M455.5 145.1h1.6M457.9 123.7h1.6M466.6 124.4h1.6M456.1 80.2h1.6M444.3 122.9h1.6M461.8 137.7h1.6M446.7 89.8h1.6M476.6 107.5h1.6M452.0 108.3h1.6M448.4 97.3h1.6M478.5 67.5h1.6M468.3 73.6h1.6M460.5 104.1h1.6M455.2 108.5h1.6M457.0 76.7h1.6M466.4 100.6h1.6M478.5 48.3h1.6M455.6 142.2h1.6M449.1 142.7h1.6M445.9 80.8h1.6M465.1 113.2h1.6M483.4 93.5h1.6M464.4 119.9h1.6M453.3 66.8h1.6M475.0 103.9h1.6M466.2 76.5h1.6M469.8 89.0h1.6M456.5 122.2h1.6M467.5 102.7h1.6M469.3 77.3h1.6M459.5 65.7h1.6M475.1 55.8h1.6M462.0 100.1h1.6M460.4 143.9h1.6M479.0 103.4h1.6M467.2 96.1h1.6M493.1 96.1h1.6M489.4 47.7h1.6M494.2 71.3h1.6M487.4 105.0h1.6M499.8 118.4h1.6M492.5 73.2h1.6M487.3 115.4h1.6M481.7 101.2h1.6M490.8 71.6h1.6M450.7 78.3h1.6M481.6 93.2h1.6M517.2 102.7h1.6M468.4 93.0h1.6M473.4 54.2h1.6M461.5 99.6h1.6M459.3 73.2h1.6M483.0 87.6h1.6M491.5 75.7h1.6M488.3 104.7h1.6M496.2 51.4h1.6M467.1 113.6h1.6M474.2 55.9h1.6M504.4 24.2h1.6M511.3 79.2h1.6M481.1 44.4h1.6M464.2 60.3h1.6M353.3 135.2h1.6"/><path stroke="#00b0ff" d="M100.3 187.2h1.6M111.9 183.2h1.6M105.9 186.3h1.6M105.9 183.2h1.6M108.0 184.3h1.6M113.1 180.6h1.6M103.1 181.4h1.6M108.8 181.9h1.6M91.9 177.4h1.6M105.4 190.5h1.6M111.5 173.4h1.6M91.7 186.5h1.6M116.9 181.5h1.6M111.7 166.4h1.6M91.2 182.2h1.6M99.1 166.3h1.6M108.4 188.7h1.6M111.7 176.3h1.6M101.5 184.7h1.6M99.5 176.3h1.6M119.3 177.8h1.6M104.9 168.4h1.6M112.2 185.3h1.6M114.7 175.7h1.6M110.4 172.3h1.6M111.0 180.6h1.6M96.3 177.3h1.6M90.2 190.5h1.6M118.8 175.0h1.6M115.4 179.9h1.6M108.8 179.2h1.6M112.5 184.4h1.6M99.7 187.5h1.6M92.9 184.1h1.6M94.0 183.8h1.6M95.1 185.7h1.6M135.1 169.0h1.6M118.5 172.2h1.6M108.5 180.8h1.6M101.9 173.8h1.6M131.6 169.3h1.6M144.8 149.4h1.6M128.5 155.9h1.6M146.9 143.4h1.6M183.7 129.4h1.6M128.1 155.3h1.6M168.4 134.9h1.6M139.1 142.2h1.6M149.9 147.8h1.6M137.9 157.1h1.6M159.7 140.0h1.6M117.5 165.3h1.6M154.1 147.1h1.6M147.1 148.1h1.6M153.7 143.5h1.6M153.8 141.2h1.6M140.0 153.7h1.6M139.1 148.0h1.6M137.1 157.6h1.6M138.0 163.8h1.6M174.2 135.4h1.6M121.2 148.7h1.6M140.7 145.3h1.6M128.4 178.3h1.6M138.9 146.4h1.6M150.1 135.8h1.6M126.5 162.1h1.6M151.3 159.2h1.6M168.4 137.8h1.6M148.3 142.2h1.6M123.6 157.5h1.6M130.4 157.6h1.6M147.3 145.8h1.6M135.5 171.8h1.6M131.3 165.4h1.6M143.1 142.2h1.6M124.4 161.5h1.6M142.0 162.4h1.6M108.1 172.1h1.6M143.9 149.3h1.6M136.1 149.1h1.6M121.2 168.2h1.6M130.4 165.7h1.6M176.3 89.4h1.6M132.3 136.7h1.6M169.1 59.1h1.6M136.9 89.3h1.6M113.3 107.8h1.6M160.8 88.3h1.6M158.5 115.1h1.6M170.1 112.0h1.6M90.4 158.0h1.6M99.1 156.5h1.6M80.2 161.3h1.6M479.0 144.6h1.6M473.4 126.1h1.6M485.8 143.1h1.6M475.7 124.9h1.6M474.2 140.9h1.6M486.4 145.9h1.6M474.1 127.4h1.6M478.7 141.0h1.6M487.9 138.1h1.6M472.5 143.4h1.6M477.6 139.1h1.6M481.4 144.0h1.6M481.1 144.0h1.6M472.9 145.1h1.6M488.0 134.7h1.6M475.4 136.1h1.6M467.5 136.0h1.6M479.6 130.3h1.6M459.0 132.3h1.6M469.3 143.4h1.6M480.3 138.2h1.6M480.8 133.2h1.6M472.5 124.9h1.6M467.9 140.6h1.6M486.4 142.4h1.6M469.2 134.8h1.6M465.7 136.1h1.6M464.1 143.2h1.6M465.9 128.6h1.6M492.7 139.9h1.6M482.0 141.3h1.6M473.7 142.2h1.6M479.4 143.2h1.6M481.3 130.9h1.6M492.4 144.0h1.6M473.1 143.9h1.6M478.5 139.8h1.6M469.7 124.8h1.6M472.2 141.9h1.6M470.1 128.2h1.6M482.4 145.0h1.6M475.6 143.6h1.6M476.6 149.2h1.6M487.3 132.1h1.6M489.3 137.9h1.6M387.0 143.3h1.6M363.8 143.7h1.6M386.2 142.3h1.6M378.4 143.8h1.6M384.3 144.0h1.6M406.3 143.5h1.6M439.3 141.2h1.6M439.4 144.7h1.6M429.8 146.0h1.6M425.6 142.2h1.6M435.4 143.2h1.6M420.2 142.2h1.6M432.0 147.2h1.6M426.1 145.1h1.6M465.4 143.5h1.6M463.0 139.3h1.6M477.0 143.3h1.6M468.6 139.8h1.6M470.8 145.2h1.6M469.7 145.6h1.6M440.5 144.6h1.6M455.3 144.6h1.6M471.2 146.0h1.6M473.2 146.0h1.6M486.0 141.3h1.6M466.7 139.8h1.6M459.9 143.3h1.6M465.7 143.6h1.6M444.2 143.8h1.6M489.4 144.1h1.6M364.4 151.2h1.6M361.4 150.3h1.6M367.9 148.2h1.6M365.7 144.5h1.6M357.1 170.3h1.6M358.3 158.6h1.6M375.1 165.9h1.6M387.5 166.9h1.6M442.6 150.0h1.6M428.2 151.3h1.6M434.6 176.9h1.6M409.4 156.5h1.6M435.6 180.1h1.6M469.6 95.7h1.6M470.2 79.3h1.6M456.6 62.1h1.6M464.2 127.1h1.6M440.7 89.5h1.6M481.0 72.4h1.6M462.6 136.4h1.6M471.6 60.1h1.6M468.8 114.1h1.6M479.7 122.0h1.6M478.5 98.9h1.6M465.7 113.5h1.6M349.4 121.4h1.6M345.4 58.4h1.6M372.0 79.0h1.6M473.6 105.9h1.6M458.8 134.2h1.6M451.2 128.5h1.6M458.3 121.2h1.6M457.1 117.7h1.6M467.3 102.0h1.6M437.3 136.5h1.6M467.1 116.7h1.6M462.9 105.5h1.6M462.9 97.4h1.6M459.8 138.6h1.6"/><path stroke="#ff6a00" d="M170.4 110.5h1.6M160.3 130.7h1.6M176.9 112.3h1.6M153.2 140.3h1.6M152.5 128.0h1.6M167.7 123.1h1.6M181.7 149.4h1.6M203.3 92.8h1.6M152.2 136.5h1.6M140.6 150.5h1.6M155.6 142.3h1.6M157.3 124.6h1.6M166.2 148.8h1.6M132.7 176.2h1.6M173.8 135.8h1.6M148.2 127.3h1.6M137.5 158.4h1.6M160.7 133.9h1.6M175.2 124.7h1.6M176.2 111.0h1.6M169.1 118.2h1.6M172.3 125.9h1.6M170.9 123.8h1.6M184.5 79.0h1.6M158.1 131.2h1.6M181.3 107.6h1.6M195.2 121.7h1.6M151.2 174.1h1.6M144.4 113.1h1.6M175.3 108.5h1.6M196.8 138.3h1.6M126.0 165.0h1.6M137.6 139.8h1.6M152.1 146.0h1.6M175.8 123.9h1.6M128.5 156.6h1.6M181.6 89.1h1.6M152.3 148.9h1.6M174.0 94.8h1.6M172.3 140.4h1.6M186.7 84.3h1.6M182.0 95.4h1.6M172.3 127.1h1.6M160.7 152.2h1.6M169.1 137.2h1.6M170.4 128.9h1.6M162.2 129.9h1.6M202.4 122.8h1.6M173.8 104.3h1.6M148.4 148.7h1.6M171.9 115.7h1.6M149.9 136.3h1.6M137.5 164.7h1.6M180.3 108.4h1.6M157.3 152.9h1.6M177.8 131.2h1.6M162.8 127.4h1.6M185.1 110.0h1.6M182.5 120.9h1.6M148.1 125.8h1.6M161.2 145.7h1.6M168.3 124.7h1.6M159.0 150.5h1.6M181.8 70.2h1.6M156.4 132.0h1.6M163.9 111.5h1.6M161.1 132.4h1.6M160.1 122.8h1.6M148.1 137.7h1.6M167.6 133.9h1.6M137.0 120.6h1.6M188.2 151.2h1.6M178.6 122.4h1.6M147.3 141.5h1.6M164.9 88.9h1.6M214.5 97.0h1.6M169.6 91.1h1.6M143.8 159.4h1.6M143.3 88.2h1.6M173.7 123.7h1.6M168.5 147.1h1.6M176.7 97.8h1.6M115.8 144.7h1.6M181.5 109.0h1.6M148.8 149.1h1.6M177.8 152.2h1.6M185.3 132.5h1.6M152.2 129.9h1.6M166.6 129.7h1.6M146.9 149.5h1.6M181.1 138.2h1.6M134.4 134.6h1.6M165.0 83.1h1.6M167.1 75.1h1.6M180.5 169.6h1.6M154.8 116.6h1.6M155.1 107.7h1.6M147.5 96.7h1.6M179.1 99.9h1.6M208.6 119.2h1.6M133.3 118.5h1.6M169.0 146.1h1.6M189.2 114.2h1.6M193.1 145.2h1.6M205.4 96.7h1.6M172.9 137.9h1.6M190.2 104.0h1.6M167.6 86.7h1.6M214.4 126.1h1.6M182.2 101.1h1.6M165.1 120.1h1.6M211.8 89.5h1.6M144.5 160.0h1.6M160.5 130.5h1.6M175.8 121.0h1.6M156.9 121.4h1.6M192.4 63.6h1.6M143.4 135.9h1.6M154.2 96.9h1.6M168.8 76.5h1.6M155.9 134.1h1.6M170.2 113.2h1.6M178.7 112.3h1.6M144.2 92.4h1.6M200.9 120.2h1.6M182.3 87.9h1.6M154.0 133.9h1.6M183.1 59.3h1.6M186.3 66.7h1.6M181.3 73.8h1.6M162.3 103.6h1.6M183.8 75.4h1.6M211.3 36.1h1.6M185.1 66.3h1.6M187.7 111.3h1.6M205.1 39.5h1.6M184.7 52.9h1.6M200.7 90.1h1.6M202.0 56.5h1.6M194.9 104.2h1.6M183.8 161.6h1.6M212.2 134.7h1.6M198.3 167.6h1.6M220.1 159.9h1.6M182.5 140.6h1.6M221.1 146.8h1.6M145.9 183.3h1.6M161.7 166.1h1.6M156.3 166.9h1.6M141.7 177.2h1.6M160.8 141.3h1.6M148.8 161.3h1.6M134.8 134.5h1.6M126.0 117.8h1.6M130.6 138.7h1.6M135.0 144.9h1.6M145.7 137.4h1.6M114.7 126.9h1.6M130.1 136.1h1.6M491.8 130.0h1.6M500.8 121.5h1.6M502.9 134.3h1.6M493.1 126.4h1.6M493.5 144.0h1.6M494.2 133.1h1.6M504.0 121.9h1.6M500.6 127.4h1.6M504.4 142.7h1.6M503.2 129.5h1.6M506.7 117.3h1.6M495.3 99.9h1.6M498.1 139.9h1.6M489.2 129.3h1.6M501.0 130.8h1.6M488.3 131.0h1.6M495.8 124.8h1.6M503.5 138.6h1.6M503.4 140.9h1.6M498.7 112.0h1.6M509.9 144.0h1.6M501.9 130.1h1.6M497.2 146.5h1.6M502.8 135.4h1.6M497.3 129.6h1.6M491.2 131.3h1.6M500.2 120.6h1.6M506.3 132.5h1.6M495.8 128.6h1.6M499.8 139.1h1.6M497.2 128.2h1.6M496.6 120.8h1.6M490.6 126.7h1.6M486.9 129.2h1.6M501.9 127.1h1.6M492.5 138.3h1.6M503.0 126.1h1.6M504.8 140.5h1.6M497.1 132.5h1.6M508.9 125.9h1.6M489.3 112.7h1.6M501.6 140.2h1.6M499.2 125.9h1.6M500.9 108.3h1.6M515.1 138.6h1.6M503.4 136.6h1.6M513.0 138.2h1.6M513.0 140.1h1.6M514.9 145.0h1.6M518.7 135.6h1.6M507.1 136.7h1.6M501.5 142.3h1.6M500.9 133.7h1.6M486.7 128.6h1.6M496.4 142.6h1.6M490.9 119.5h1.6M490.2 104.2h1.6M509.5 93.7h1.6M500.7 120.8h1.6M490.1 114.6h1.6M493.4 112.7h1.6M487.8 110.0h1.6M470.3 108.4h1.6M475.5 109.9h1.6M445.2 124.8h1.6M466.1 120.9h1.6M470.1 111.8h1.6M462.2 109.5h1.6M458.7 102.1h1.6M451.6 116.8h1.6M488.1 70.0h1.6M451.5 91.6h1.6M461.6 107.9h1.6M463.2 57.9h1.6M453.4 89.5h1.6M463.9 92.1h1.6M451.5 108.2h1.6M468.1 105.4h1.6M459.8 148.3h1.6M485.4 67.1h1.6M456.0 129.6h1.6M453.2 89.3h1.6M465.2 111.9h1.6M471.9 72.4h1.6M448.0 71.9h1.6M477.8 61.4h1.6M470.9 103.2h1.6M485.0 77.7h1.6M465.2 133.0h1.6M488.4 108.6h1.6M447.2 120.3h1.6M459.8 85.6h1.6M460.2 62.3h1.6M473.1 103.3h1.6M470.3 138.1h1.6M501.9 124.1h1.6M476.9 93.4h1.6M482.3 138.7h1.6M482.2 68.5h1.6M495.6 91.1h1.6M490.4 127.8h1.6M463.3 44.0h1.6M507.9 79.7h1.6M464.7 115.2h1.6M495.4 105.5h1.6M492.6 97.8h1.6M499.1 86.3h1.6M454.5 44.6h1.6M494.7 109.1h1.6M465.0 94.6h1.6M513.1 133.6h1.6M445.8 49.1h1.6M451.9 43.1h1.6M497.9 55.9h1.6M504.7 34.7h1.6"/><path stroke="#00b0ff" d="M95.0 179.0h1.6M105.8 175.4h1.6M105.4 180.1h1.6M98.2 179.3h1.6M100.6 187.4h1.6M101.8 178.2h1.6M97.3 169.9h1.6M121.7 168.6h1.6M124.4 170.2h1.6M109.0 185.6h1.6M102.9 184.6h1.6M102.8 192.8h1.6M99.8 179.8h1.6M104.5 175.8h1.6M98.5 185.0h1.6M108.7 168.3h1.6M115.4 175.6h1.6M97.0 177.0h1.6M103.5 185.3h1.6M106.1 177.0h1.6M99.5 182.7h1.6M96.7 189.3h1.6M108.4 167.3h1.6M106.1 171.6h1.6M112.2 179.8h1.6M102.2 183.6h1.6M111.1 182.2h1.6M118.1 171.2h1.6M92.1 174.4h1.6M97.0 187.3h1.6M94.8 172.1h1.6M99.5 183.7h1.6M109.0 178.2h1.6M95.6 185.6h1.6M102.4 187.6h1.6M100.4 172.4h1.6M104.9 176.6h1.6M100.8 173.0h1.6M113.7 177.5h1.6M112.9 182.6h1.6M108.3 177.7h1.6M97.9 184.8h1.6M108.5 184.8h1.6M104.2 176.4h1.6M114.8 179.2h1.6M134.4 149.6h1.6M142.4 150.9h1.6M115.1 174.8h1.6M158.1 141.1h1.6M154.0 145.0h1.6M123.4 161.2h1.6M159.2 142.8h1.6M107.4 176.0h1.6M129.7 162.5h1.6M114.8 172.2h1.6M141.1 164.0h1.6M134.2 157.4h1.6M127.7 156.4h1.6M136.4 164.7h1.6M136.0 159.0h1.6M161.8 136.5h1.6M133.0 170.5h1.6M151.4 145.7h1.6M141.5 150.5h1.6M146.1 135.7h1.6M131.7 162.6h1.6M127.0 166.2h1.6M145.2 152.0h1.6M146.0 146.2h1.6M134.0 172.1h1.6M134.9 157.7h1.6M131.1 154.8h1.6M134.3 145.2h1.6M158.7 138.7h1.6M120.6 176.1h1.6M121.2 179.2h1.6M148.3 136.4h1.6M134.0 146.2h1.6M148.3 144.1h1.6M142.8 153.8h1.6M121.3 173.4h1.6M157.4 136.2h1.6M183.7 107.3h1.6M150.6 149.5h1.6M142.0 150.3h1.6M127.3 162.8h1.6M134.4 160.9h1.6M152.1 143.0h1.6M122.2 178.1h1.6M149.8 149.5h1.6M128.7 155.2h1.6M170.9 126.4h1.6M126.9 149.5h1.6M134.8 167.3h1.6M121.1 173.1h1.6M136.5 154.4h1.6M137.1 167.1h1.6M127.3 172.0h1.6M166.0 124.8h1.6M138.3 158.0h1.6M146.2 150.2h1.6M176.9 74.9h1.6M164.4 102.7h1.6M137.7 130.9h1.6M178.0 58.2h1.6M120.4 112.7h1.6M150.4 138.6h1.6M108.0 113.6h1.6M165.3 86.7h1.6M81.5 161.1h1.6M144.2 64.0h1.6M489.7 142.9h1.6M481.0 138.4h1.6M479.9 138.5h1.6M474.6 126.8h1.6M479.8 144.2h1.6M481.3 139.9h1.6M475.7 144.9h1.6M466.8 136.5h1.6M466.2 133.9h1.6M464.7 146.3h1.6M481.5 133.2h1.6M467.7 141.0h1.6M475.8 141.5h1.6M481.7 142.7h1.6M471.5 134.1h1.6M484.8 134.4h1.6M470.9 144.8h1.6M460.2 143.0h1.6M477.7 133.7h1.6M469.0 133.2h1.6M460.5 142.7h1.6M489.4 135.8h1.6M482.4 133.5h1.6M482.4 137.9h1.6M466.9 130.4h1.6M487.6 139.1h1.6M463.9 141.7h1.6M485.0 144.0h1.6M468.2 143.8h1.6M478.7 142.8h1.6M469.1 123.3h1.6M478.2 141.6h1.6M485.0 138.4h1.6M478.9 121.9h1.6M488.2 145.0h1.6M465.8 139.8h1.6M482.1 141.8h1.6M483.4 122.1h1.6M362.4 142.4h1.6M377.4 142.8h1.6M368.1 143.1h1.6M367.0 143.2h1.6M377.2 143.3h1.6M377.6 143.7h1.6M372.9 143.3h1.6M374.3 142.4h1.6M395.4 143.5h1.6M419.7 147.3h1.6M436.7 146.8h1.6M431.0 141.2h1.6M437.6 145.8h1.6M412.4 140.9h1.6M419.9 143.7h1.6M419.3 146.4h1.6M434.0 145.4h1.6M418.2 146.7h1.6M423.6 142.8h1.6M424.0 145.2h1.6M422.5 148.9h1.6M439.3 141.9h1.6M437.2 143.8h1.6M419.4 143.9h1.6M436.3 144.2h1.6M445.4 145.4h1.6M478.1 142.7h1.6M451.0 144.3h1.6M442.5 140.7h1.6M456.8 148.5h1.6M472.9 142.0h1.6M484.7 140.9h1.6M487.3 146.4h1.6M448.3 147.5h1.6M454.5 143.5h1.6M446.2 143.5h1.6M470.7 141.1h1.6M482.2 143.8h1.6M459.6 145.8h1.6M461.9 144.9h1.6M363.4 152.3h1.6M367.1 145.3h1.6M370.2 144.1h1.6M425.6 182.0h1.6M439.0 163.6h1.6M444.3 163.7h1.6M406.4 162.3h1.6M445.1 186.0h1.6M442.9 158.7h1.6M440.5 165.7h1.6M476.6 186.0h1.6M464.2 100.2h1.6M452.5 110.3h1.6M464.5 54.2h1.6M444.5 100.0h1.6M461.7 97.5h1.6M456.0 130.7h1.6M464.0 77.6h1.6M442.5 131.0h1.6M453.4 104.8h1.6M444.9 123.7h1.6M460.5 132.6h1.6M445.7 123.3h1.6M480.9 79.4h1.6M456.4 48.4h1.6M428.7 95.4h1.6M455.3 109.1h1.6M468.5 118.5h1.6M478.3 141.3h1.6M463.8 99.4h1.6M467.9 118.2h1.6M467.7 134.4h1.6M469.8 99.1h1.6M470.6 94.8h1.6M462.6 104.3h1.6"/><path stroke="#ff6a00" d="M180.6 99.0h1.6M164.9 131.3h1.6M162.6 133.7h1.6M161.6 143.0h1.6M190.8 113.2h1.6M152.9 157.7h1.6M149.2 164.0h1.6M203.3 79.2h1.6M191.7 97.1h1.6M153.7 173.1h1.6M168.3 108.7h1.6M171.0 104.6h1.6M157.8 125.4h1.6M176.0 97.5h1.6M166.4 98.5h1.6M156.6 165.1h1.6M167.7 158.4h1.6M165.5 147.5h1.6M183.6 92.8h1.6M159.2 141.0h1.6M184.7 131.3h1.6M149.7 173.1h1.6M177.3 111.8h1.6M149.0 144.4h1.6M167.9 112.7h1.6M168.3 122.4h1.6M155.6 154.7h1.6M160.4 121.7h1.6M188.6 106.9h1.6M150.0 133.8h1.6M158.2 137.9h1.6M204.5 88.2h1.6M160.4 165.9h1.6M183.7 70.5h1.6M177.8 138.7h1.6M160.8 139.0h1.6M200.2 97.8h1.6M153.2 149.3h1.6M177.5 123.4h1.6M181.3 120.1h1.6M175.1 92.7h1.6M184.7 122.7h1.6M165.0 121.7h1.6M175.2 112.4h1.6M151.0 130.7h1.6M175.3 122.4h1.6M167.9 93.9h1.6M190.3 114.2h1.6M180.6 110.9h1.6M161.4 150.3h1.6M152.0 163.3h1.6M160.9 126.3h1.6M209.9 76.1h1.6M182.0 115.4h1.6M217.1 99.2h1.6M197.1 130.7h1.6M146.1 166.5h1.6M187.0 65.2h1.6M158.7 165.2h1.6M180.8 101.2h1.6M180.2 96.8h1.6M157.4 129.9h1.6M186.2 98.9h1.6M125.5 159.6h1.6M163.0 119.7h1.6M183.5 125.2h1.6M131.2 133.5h1.6M196.6 72.6h1.6M171.8 151.7h1.6M162.5 162.0h1.6M179.3 41.4h1.6M150.1 143.9h1.6M161.7 109.8h1.6M122.2 172.8h1.6M209.5 133.0h1.6M143.3 115.2h1.6M136.6 87.7h1.6M184.7 144.3h1.6M177.3 99.4h1.6M170.8 133.1h1.6M180.2 133.4h1.6M152.7 155.4h1.6M137.5 125.8h1.6M154.8 179.4h1.6M180.2 130.0h1.6M195.3 133.7h1.6M154.9 103.9h1.6M141.7 132.1h1.6M164.3 110.8h1.6M156.1 142.3h1.6M114.1 145.9h1.6M126.9 90.1h1.6M151.8 123.1h1.6M167.5 121.3h1.6M179.3 74.3h1.6M216.7 60.3h1.6M213.6 124.9h1.6M147.0 89.1h1.6M151.1 151.6h1.6M149.8 154.6h1.6M158.2 115.3h1.6M133.9 86.7h1.6M219.1 74.2h1.6M193.5 79.8h1.6M173.7 107.0h1.6M145.8 140.4h1.6M184.2 139.3h1.6M202.2 79.4h1.6M196.5 117.5h1.6M210.3 67.9h1.6M194.0 55.1h1.6M201.1 71.3h1.6M187.3 81.1h1.6M174.2 61.6h1.6M183.4 60.2h1.6M183.4 83.0h1.6M202.9 66.8h1.6M200.4 75.3h1.6M213.6 75.8h1.6M169.6 59.6h1.6M157.0 38.8h1.6M180.0 69.1h1.6M193.8 94.2h1.6M179.7 36.7h1.6M148.5 53.8h1.6M200.0 139.9h1.6M187.6 151.1h1.6M178.6 162.6h1.6M127.4 179.0h1.6M163.6 135.5h1.6M145.8 179.6h1.6M196.8 149.9h1.6M156.5 161.3h1.6M145.2 155.3h1.6M150.8 147.1h1.6M147.2 162.0h1.6M163.9 156.0h1.6M173.1 164.6h1.6M181.1 155.5h1.6M184.8 141.3h1.6M165.2 173.8h1.6M161.4 167.5h1.6M134.1 179.0h1.6M149.1 168.4h1.6M136.3 171.6h1.6M173.6 165.9h1.6M164.7 141.1h1.6M117.6 133.5h1.6M127.4 145.7h1.6M128.3 124.8h1.6M127.0 145.7h1.6M145.8 128.4h1.6M134.7 120.4h1.6M151.1 103.4h1.6M507.1 108.9h1.6M495.6 131.7h1.6M499.8 142.0h1.6M502.6 120.1h1.6M496.2 120.6h1.6M491.0 139.6h1.6M499.9 128.0h1.6M504.6 124.4h1.6M495.3 117.4h1.6M496.0 138.9h1.6M503.7 125.3h1.6M496.9 119.1h1.6M520.6 147.8h1.6M508.8 135.6h1.6M499.9 131.8h1.6M502.1 112.0h1.6M498.4 129.1h1.6M495.0 134.3h1.6M492.7 125.0h1.6M494.4 128.5h1.6M492.2 124.8h1.6M488.5 126.7h1.6M492.8 125.4h1.6M509.2 123.8h1.6M495.5 144.9h1.6M509.3 141.8h1.6M502.7 137.8h1.6M501.5 147.4h1.6M493.6 129.6h1.6M495.2 122.3h1.6M503.6 128.0h1.6M487.2 125.9h1.6M496.4 129.3h1.6M490.6 121.7h1.6M496.1 132.0h1.6M492.7 131.0h1.6M490.7 132.8h1.6M505.9 143.4h1.6M485.9 127.5h1.6M495.6 120.3h1.6M499.1 138.4h1.6M529.5 146.0h1.6M508.3 125.3h1.6M522.6 133.7h1.6M508.0 131.9h1.6M518.6 139.5h1.6M505.5 128.5h1.6M511.5 140.9h1.6M516.5 133.7h1.6M516.0 139.0h1.6M497.3 130.1h1.6M521.9 138.3h1.6M515.8 136.1h1.6M512.6 115.7h1.6M504.2 125.7h1.6M451.6 113.2h1.6M478.5 107.5h1.6M470.6 92.6h1.6M457.9 117.6h1.6M471.4 87.2h1.6M463.8 83.6h1.6M453.9 88.3h1.6M445.6 102.5h1.6M479.1 106.5h1.6M449.8 99.8h1.6M458.0 83.6h1.6M482.7 64.7h1.6M457.8 92.7h1.6M445.5 55.6h1.6M459.7 82.6h1.6M487.8 50.5h1.6M468.5 89.2h1.6M460.7 106.8h1.6M443.7 106.5h1.6M449.1 110.4h1.6M449.5 68.6h1.6M445.8 131.4h1.6M476.8 103.4h1.6M485.9 43.6h1.6M460.9 51.0h1.6M473.8 41.0h1.6M450.5 100.9h1.6M472.2 51.7h1.6M465.0 128.7h1.6M452.3 142.6h1.6M464.6 103.2h1.6M470.5 102.5h1.6M480.6 96.0h1.6M457.0 103.2h1.6M481.4 115.9h1.6M466.2 126.2h1.6M457.4 114.5h1.6M513.1 110.0h1.6M463.9 107.0h1.6M477.3 65.8h1.6M466.8 78.6h1.6M491.1 38.9h1.6M485.9 77.1h1.6M484.6 35.7h1.6M464.5 118.7h1.6M524.4 91.6h1.6M456.9 100.9h1.6M506.6 105.6h1.6M529.7 89.7h1.6M505.6 69.2h1.6M487.9 84.8h1.6M502.6 119.9h1.6M487.0 128.4h1.6M470.3 116.0h1.6M527.8 126.7h1.6M483.7 92.9h1.6M488.9 61.4h1.6M466.4 88.0h1.6M515.4 106.2h1.6M501.8 42.8h1.6M528.6 59.9h1.6M445.8 31.4h1.6M386.6 119.9h1.6M389.3 133.5h1.6M489.3 155.0h1.6"/><path stroke="#00b0ff" d="M92.7 191.1h1.6M110.8 183.6h1.6M89.4 187.1h1.6M121.9 169.5h1.6M104.6 184.2h1.6M113.2 178.4h1.6M115.5 179.6h1.6M102.3 181.0h1.6M106.2 177.3h1.6M105.0 186.0h1.6M108.1 181.5h1.6M118.1 177.4h1.6M110.8 183.3h1.6M107.4 175.7h1.6M104.9 175.4h1.6M129.6 177.6h1.6M106.8 187.8h1.6M102.4 178.0h1.6M102.0 183.8h1.6M100.9 186.7h1.6M101.0 176.3h1.6M112.5 189.3h1.6M113.9 176.0h1.6M107.7 177.4h1.6M103.7 179.3h1.6M102.0 182.0h1.6M96.5 184.0h1.6M119.0 169.4h1.6M115.4 170.4h1.6M125.8 173.6h1.6M89.1 172.6h1.6M109.0 177.5h1.6M98.0 174.4h1.6M108.7 188.6h1.6M112.5 184.8h1.6M107.6 186.3h1.6M96.9 185.3h1.6M117.8 177.7h1.6M112.4 181.9h1.6M114.9 176.8h1.6M107.5 182.8h1.6M100.5 187.2h1.6M102.4 188.3h1.6M101.8 172.4h1.6M98.9 185.3h1.6M98.6 185.6h1.6M94.9 185.7h1.6M110.2 170.0h1.6M111.1 173.9h1.6M92.6 186.0h1.6M108.3 170.0h1.6M87.7 187.8h1.6M92.5 180.1h1.6M106.8 180.4h1.6M109.9 183.1h1.6M102.6 171.2h1.6M104.4 170.3h1.6M100.2 182.0h1.6M96.2 186.3h1.6M81.5 192.7h1.6M98.5 182.7h1.6M116.2 174.2h1.6M141.8 143.1h1.6M166.9 140.0h1.6M166.6 127.3h1.6M145.0 147.6h1.6M151.5 130.8h1.6M146.6 158.3h1.6M124.6 164.7h1.6M159.7 138.3h1.6M158.1 138.7h1.6M144.4 162.0h1.6M142.8 136.4h1.6M138.5 157.7h1.6M148.5 157.3h1.6M116.1 176.8h1.6M125.3 176.7h1.6M134.5 158.8h1.6M145.8 159.0h1.6M149.0 157.3h1.6M134.3 148.0h1.6M119.5 179.8h1.6M121.3 167.9h1.6M143.0 154.3h1.6M130.4 168.3h1.6M179.9 132.0h1.6M147.4 144.7h1.6M105.7 168.3h1.6M142.2 169.3h1.6M132.2 161.2h1.6M108.6 177.9h1.6M147.4 151.5h1.6M169.9 126.3h1.6M150.8 139.5h1.6M169.5 136.0h1.6M144.5 149.9h1.6M138.1 150.0h1.6M139.5 151.0h1.6M114.8 175.5h1.6M135.0 165.6h1.6M141.7 141.9h1.6M163.1 133.6h1.6M120.5 162.6h1.6M150.6 140.0h1.6M152.7 143.5h1.6M161.4 136.5h1.6M165.6 129.5h1.6M155.4 146.7h1.6M119.7 193.6h1.6M182.3 116.7h1.6M181.2 25.1h1.6M112.4 123.2h1.6M170.8 144.5h1.6M480.3 140.0h1.6M468.5 135.1h1.6M475.1 135.7h1.6M474.7 141.2h1.6M481.1 146.2h1.6M477.1 140.9h1.6M484.1 129.2h1.6M479.9 146.3h1.6M487.2 134.5h1.6M482.5 131.3h1.6M464.7 141.1h1.6M483.6 135.2h1.6M474.3 136.9h1.6M473.3 143.6h1.6M465.4 137.0h1.6M483.1 124.7h1.6M487.9 140.7h1.6M465.8 133.8h1.6M482.7 133.1h1.6M480.9 144.2h1.6M474.8 145.5h1.6M491.4 141.6h1.6M459.6 145.9h1.6M480.2 132.3h1.6M482.0 130.9h1.6M481.9 134.0h1.6M481.7 124.2h1.6M481.9 136.7h1.6M467.3 140.0h1.6M479.1 138.4h1.6M471.6 142.8h1.6M393.4 143.1h1.6M386.4 142.4h1.6M385.8 142.9h1.6M402.6 144.3h1.6M399.5 143.0h1.6M391.3 174.9h1.6M440.0 145.5h1.6M438.7 144.2h1.6M433.9 144.1h1.6M439.4 144.3h1.6M434.8 145.3h1.6M436.9 145.3h1.6M482.3 143.6h1.6M474.8 144.6h1.6M454.9 143.1h1.6M446.8 146.0h1.6M454.1 142.0h1.6M440.1 143.0h1.6M440.7 143.7h1.6M469.2 144.2h1.6M444.7 145.2h1.6M492.9 142.4h1.6M489.0 145.3h1.6M366.2 144.9h1.6M363.2 159.1h1.6M360.5 154.7h1.6M392.0 176.5h1.6M426.6 153.6h1.6M440.5 165.3h1.6M435.8 168.6h1.6M438.9 168.5h1.6M449.2 153.8h1.6M462.9 60.0h1.6M472.6 79.1h1.6M461.2 92.9h1.6M464.4 66.4h1.6M463.9 67.7h1.6M469.8 52.1h1.6M493.9 121.5h1.6M440.4 72.0h1.6M444.0 67.1h1.6M438.7 50.4h1.6M471.0 124.1h1.6M471.7 61.0h1.6M466.1 97.8h1.6M458.7 101.9h1.6M438.9 97.2h1.6M466.7 108.2h1.6M458.6 94.1h1.6M463.5 103.7h1.6M402.9 72.0h1.6M447.2 109.0h1.6M446.8 104.7h1.6M465.7 92.3h1.6M458.5 134.3h1.6M465.4 97.1h1.6M457.2 104.4h1.6M463.9 129.4h1.6M465.6 90.8h1.6M464.4 114.7h1.6M456.6 112.4h1.6M464.8 104.4h1.6M460.3 130.4h1.6"/><path stroke="#ff6a00" d="M167.3 131.1h1.6M177.2 107.1h1.6M180.1 110.8h1.6M182.6 89.6h1.6M164.8 118.9h1.6M195.7 90.7h1.6M151.5 116.5h1.6M147.8 131.8h1.6M166.7 111.3h1.6M154.7 174.1h1.6M171.9 137.0h1.6M171.3 140.4h1.6M187.8 121.6h1.6M151.1 177.8h1.6M177.1 85.9h1.6M176.2 109.0h1.6M160.2 147.8h1.6M161.3 122.5h1.6M149.4 152.2h1.6M182.7 107.8h1.6M145.8 136.9h1.6M172.4 89.2h1.6M192.1 99.3h1.6M186.1 96.9h1.6M161.6 122.9h1.6M161.5 101.3h1.6M152.9 158.8h1.6M177.2 111.5h1.6M169.4 146.1h1.6M158.5 122.4h1.6M134.1 175.3h1.6M146.7 143.3h1.6M147.1 171.0h1.6M158.8 136.0h1.6M171.9 123.8h1.6M171.0 147.8h1.6M147.5 141.7h1.6M185.0 81.3h1.6M168.6 113.5h1.6M179.8 117.0h1.6M178.4 123.9h1.6M189.3 110.1h1.6M193.2 97.0h1.6M155.9 145.5h1.6M164.2 119.5h1.6M172.9 122.6h1.6M144.7 93.7h1.6M158.3 149.1h1.6M154.7 140.9h1.6M153.7 133.4h1.6M154.4 136.4h1.6M168.5 123.0h1.6M174.5 144.0h1.6M176.5 132.3h1.6M193.3 116.1h1.6M170.1 143.7h1.6M161.2 121.1h1.6M120.1 188.8h1.6M162.7 129.5h1.6M202.9 149.5h1.6M156.9 118.5h1.6M172.5 123.2h1.6M148.1 129.4h1.6M163.9 112.4h1.6M193.0 122.8h1.6M161.0 134.8h1.6M190.3 80.8h1.6M136.7 129.5h1.6M170.0 170.1h1.6M162.0 84.7h1.6M110.2 183.7h1.6M177.9 138.1h1.6M182.7 122.7h1.6M163.9 125.8h1.6M143.9 176.9h1.6M203.3 126.7h1.6M142.3 85.7h1.6M180.0 135.4h1.6M171.0 150.1h1.6M147.5 139.1h1.6M159.0 135.6h1.6M173.6 110.3h1.6M175.6 129.3h1.6M174.0 113.0h1.6M145.7 159.6h1.6M198.7 116.3h1.6M125.8 142.3h1.6M157.2 64.7h1.6M156.9 143.8h1.6M162.8 156.3h1.6M187.2 116.0h1.6M145.1 97.5h1.6M197.8 117.5h1.6M189.3 118.7h1.6M189.7 110.7h1.6M177.7 141.7h1.6M167.0 145.8h1.6M130.3 87.4h1.6M147.8 113.3h1.6M163.8 168.7h1.6M163.3 159.0h1.6M134.7 124.7h1.6M183.9 171.7h1.6M183.6 71.7h1.6M115.7 141.4h1.6M161.9 77.1h1.6M130.6 163.9h1.6M218.1 96.8h1.6M196.2 72.5h1.6M141.7 121.1h1.6M152.7 176.0h1.6M152.1 123.2h1.6M185.2 76.8h1.6M129.8 137.4h1.6M187.0 100.1h1.6M190.4 136.7h1.6M173.0 86.6h1.6M168.4 165.5h1.6M128.3 104.9h1.6M157.1 103.5h1.6M179.3 83.2h1.6M222.3 84.1h1.6M208.7 91.7h1.6M168.9 108.0h1.6M186.3 74.2h1.6M164.9 67.2h1.6M174.5 73.8h1.6M191.2 58.0h1.6M229.7 75.9h1.6M193.5 64.9h1.6M180.5 53.0h1.6M211.3 67.3h1.6M228.4 35.7h1.6M201.9 26.3h1.6M191.7 143.9h1.6M207.8 156.6h1.6M187.3 163.7h1.6M158.7 148.6h1.6M154.5 157.5h1.6M155.2 154.8h1.6M184.5 147.3h1.6M153.3 161.5h1.6M144.2 154.0h1.6M163.7 152.5h1.6M129.1 167.0h1.6M156.1 142.9h1.6M164.6 166.7h1.6M181.5 150.4h1.6M158.1 169.0h1.6M132.5 176.3h1.6M166.1 176.0h1.6M138.2 173.8h1.6M171.1 155.8h1.6M169.1 168.6h1.6M116.5 145.7h1.6M142.6 148.5h1.6M142.1 129.0h1.6M134.9 163.0h1.6M132.0 154.9h1.6M122.2 140.3h1.6M141.5 137.0h1.6M130.5 149.2h1.6M140.6 137.9h1.6M128.5 147.8h1.6M145.1 125.0h1.6M112.1 153.4h1.6M128.3 159.0h1.6M160.3 120.7h1.6M121.3 167.2h1.6M136.7 139.1h1.6M123.5 142.4h1.6M133.9 143.1h1.6M122.9 135.0h1.6M141.2 135.2h1.6M500.8 127.9h1.6M496.5 133.7h1.6M498.5 120.8h1.6M494.9 121.8h1.6M510.4 133.1h1.6M504.0 137.3h1.6M499.5 135.2h1.6M499.0 129.8h1.6M491.4 128.1h1.6M490.7 138.5h1.6M490.2 126.8h1.6M504.9 113.7h1.6M496.5 139.2h1.6M502.5 144.9h1.6M498.2 119.6h1.6M494.6 118.4h1.6M494.5 128.1h1.6M485.4 119.8h1.6M506.8 137.0h1.6M496.0 118.2h1.6M495.5 134.6h1.6M488.0 126.0h1.6M518.4 123.0h1.6M495.4 109.3h1.6M497.8 145.5h1.6M503.6 129.5h1.6M494.3 139.3h1.6M507.9 128.0h1.6M497.8 126.7h1.6M505.7 125.6h1.6M498.4 112.8h1.6M495.9 119.1h1.6M491.0 126.4h1.6M493.1 130.7h1.6M510.8 118.0h1.6M507.7 117.7h1.6M502.4 128.7h1.6M506.4 120.5h1.6M497.9 134.3h1.6M509.8 118.0h1.6M497.7 120.9h1.6M495.2 111.5h1.6M493.1 112.5h1.6M505.8 144.7h1.6M511.0 136.0h1.6M518.4 133.8h1.6M510.1 137.9h1.6M519.5 136.0h1.6M505.8 138.2h1.6M517.2 129.9h1.6M510.4 142.7h1.6M510.1 132.2h1.6M498.4 146.2h1.6M485.1 119.0h1.6M499.9 113.2h1.6M492.2 129.0h1.6M512.1 120.4h1.6M491.4 102.6h1.6M492.8 115.4h1.6M494.4 119.9h1.6M505.8 111.5h1.6M513.7 126.1h1.6M441.5 82.3h1.6M463.4 72.1h1.6M478.4 125.5h1.6M487.5 100.7h1.6M483.8 121.1h1.6M461.4 100.6h1.6M465.2 113.4h1.6M473.7 109.7h1.6M464.8 78.2h1.6M457.6 108.7h1.6M470.6 114.7h1.6M454.7 132.4h1.6M460.0 72.9h1.6M476.9 50.3h1.6M476.1 85.2h1.6M463.8 101.1h1.6M454.1 45.7h1.6M473.5 80.7h1.6M447.1 119.4h1.6M470.9 103.9h1.6M484.8 121.7h1.6M462.4 108.3h1.6M479.3 90.9h1.6M462.9 90.4h1.6M455.0 55.4h1.6M503.3 103.2h1.6M457.2 98.0h1.6M465.5 119.7h1.6M472.4 102.5h1.6M454.2 91.0h1.6M458.8 45.9h1.6M491.0 81.4h1.6M461.2 38.2h1.6M454.4 62.1h1.6M445.9 87.8h1.6M478.4 69.8h1.6M470.2 117.5h1.6M460.3 131.6h1.6M467.4 83.7h1.6M449.2 112.2h1.6M443.2 98.5h1.6M467.0 82.4h1.6M467.1 35.2h1.6M451.1 60.9h1.6M450.0 68.1h1.6M465.4 99.1h1.6M445.4 56.9h1.6M506.0 80.5h1.6M468.2 76.5h1.6M465.9 93.4h1.6M474.1 120.6h1.6M509.7 80.9h1.6M501.8 80.6h1.6M478.9 100.5h1.6M462.7 74.0h1.6M479.0 91.7h1.6M463.9 141.7h1.6M472.6 117.5h1.6M488.8 135.3h1.6M481.8 81.2h1.6M462.0 120.2h1.6M491.9 58.3h1.6M508.5 127.1h1.6M466.3 89.4h1.6M493.4 70.3h1.6M506.1 71.8h1.6M468.1 34.1h1.6M471.4 49.0h1.6M359.2 196.4h1.6"/><path stroke="#00b0ff" d="M122.3 176.4h1.6M99.6 187.6h1.6M93.0 188.7h1.6M99.9 184.8h1.6M126.4 168.8h1.6M102.5 180.4h1.6M121.7 183.2h1.6M108.1 175.9h1.6M100.1 185.5h1.6M102.0 176.7h1.6M98.0 177.0h1.6M103.5 181.9h1.6M101.1 183.2h1.6M106.5 182.9h1.6M114.1 173.5h1.6M105.9 174.8h1.6M106.4 174.5h1.6M105.9 181.7h1.6M121.0 180.4h1.6M104.3 183.1h1.6M96.3 190.9h1.6M109.9 165.9h1.6M115.5 184.4h1.6M100.6 181.2h1.6M117.6 174.8h1.6M120.8 181.1h1.6M118.9 178.4h1.6M110.4 180.5h1.6M90.5 178.1h1.6M103.1 177.5h1.6M116.7 169.6h1.6M104.5 184.9h1.6M107.3 185.0h1.6M104.0 176.4h1.6M105.8 180.1h1.6M97.1 176.7h1.6M112.2 185.8h1.6M103.4 180.1h1.6M106.8 182.2h1.6M105.2 177.9h1.6M105.2 184.9h1.6M110.7 174.7h1.6M110.9 162.1h1.6M147.9 145.5h1.6M116.6 176.8h1.6M148.4 146.1h1.6M126.5 162.5h1.6M125.5 142.8h1.6M135.2 164.7h1.6M148.5 146.0h1.6M124.5 169.3h1.6M117.2 159.8h1.6M152.7 153.5h1.6M160.5 128.7h1.6M133.7 150.8h1.6M134.0 159.5h1.6M152.8 133.7h1.6M131.8 164.8h1.6M145.4 145.4h1.6M156.4 146.5h1.6M123.9 176.6h1.6M145.2 151.5h1.6M141.5 163.1h1.6M126.1 159.6h1.6M142.6 148.5h1.6M134.4 163.1h1.6M144.0 146.1h1.6M143.9 167.9h1.6M144.4 145.8h1.6M147.1 152.1h1.6M148.7 137.9h1.6M140.8 175.4h1.6M140.5 150.6h1.6M143.6 160.7h1.6M132.0 169.4h1.6M136.8 136.5h1.6M114.8 177.8h1.6M174.9 137.6h1.6M143.5 145.8h1.6M149.6 150.1h1.6M139.1 161.7h1.6M168.5 134.9h1.6M139.9 152.9h1.6M166.1 129.7h1.6M125.1 175.3h1.6M127.9 151.6h1.6M131.3 154.3h1.6M118.4 90.4h1.6M179.9 57.6h1.6M108.1 161.3h1.6M98.9 154.3h1.6M468.4 145.7h1.6M483.4 140.5h1.6M475.7 127.0h1.6M469.0 128.9h1.6M468.0 139.8h1.6M489.0 141.9h1.6M467.0 145.1h1.6M476.8 136.7h1.6M462.8 143.9h1.6M464.0 137.3h1.6M485.1 141.8h1.6M481.9 127.4h1.6M464.7 135.6h1.6M478.0 127.8h1.6M483.1 144.7h1.6M488.8 143.6h1.6M487.3 144.9h1.6M468.5 131.6h1.6M473.0 132.7h1.6M492.1 127.1h1.6M387.8 143.9h1.6M389.3 142.8h1.6M381.5 143.9h1.6M391.1 143.3h1.6M373.3 143.0h1.6M363.6 142.9h1.6M366.0 143.9h1.6M369.6 143.2h1.6M437.1 146.3h1.6M413.3 141.9h1.6M417.4 142.9h1.6M425.2 145.8h1.6M432.2 143.5h1.6M418.7 142.2h1.6M474.5 143.6h1.6M458.2 145.7h1.6M492.5 144.4h1.6M488.7 143.8h1.6M473.3 142.9h1.6M490.2 142.1h1.6M489.3 146.6h1.6M452.1 143.9h1.6M441.7 147.6h1.6M441.0 141.6h1.6M456.1 142.0h1.6M443.7 144.5h1.6M363.0 144.7h1.6M364.4 156.5h1.6M340.1 145.7h1.6M432.0 169.0h1.6M439.1 159.2h1.6M433.4 152.9h1.6M431.9 149.6h1.6M434.3 185.0h1.6M408.3 153.5h1.6M435.1 151.0h1.6M433.5 154.7h1.6M438.7 151.9h1.6M440.0 151.0h1.6M441.2 156.8h1.6M455.4 152.0h1.6M484.0 160.0h1.6M474.6 92.7h1.6M478.5 104.4h1.6M460.8 104.3h1.6M455.4 48.8h1.6M454.0 106.9h1.6M444.6 86.3h1.6M448.6 106.9h1.6M456.6 133.0h1.6M455.8 91.9h1.6M462.7 116.3h1.6M465.4 109.7h1.6M464.8 109.0h1.6M463.5 113.2h1.6"/><path stroke="#ff6a00" d="M182.9 109.2h1.6M163.6 116.2h1.6M185.6 108.2h1.6M159.5 159.4h1.6M183.9 84.4h1.6M142.9 136.1h1.6M184.7 93.8h1.6M185.1 115.5h1.6M186.1 103.5h1.6M146.7 145.8h1.6M164.7 117.3h1.6M157.9 145.1h1.6M197.3 118.5h1.6M166.0 117.5h1.6M160.4 137.7h1.6M167.9 140.7h1.6M138.2 150.6h1.6M183.0 90.5h1.6M173.8 126.0h1.6M190.4 88.3h1.6M178.9 121.6h1.6M174.4 109.6h1.6M168.6 108.1h1.6M183.4 114.9h1.6M183.2 86.6h1.6M162.9 136.3h1.6M156.8 140.1h1.6M169.7 112.5h1.6M162.6 140.0h1.6M153.1 184.9h1.6M170.2 119.5h1.6M152.8 103.0h1.6M132.9 128.8h1.6M166.7 146.5h1.6M150.8 163.0h1.6M151.9 128.4h1.6M154.8 129.8h1.6M179.3 122.5h1.6M170.7 147.7h1.6M186.1 132.8h1.6M169.6 116.3h1.6M163.5 144.0h1.6M147.9 160.2h1.6M148.4 120.2h1.6M189.5 118.5h1.6M152.3 145.7h1.6M189.1 126.9h1.6M137.4 166.6h1.6M159.9 116.9h1.6M146.3 149.6h1.6M167.5 129.4h1.6M162.5 116.6h1.6M173.2 141.4h1.6M181.7 98.6h1.6M183.2 152.3h1.6M170.1 122.4h1.6M152.5 155.9h1.6M147.2 151.8h1.6M186.6 112.3h1.6M159.1 125.2h1.6M148.2 139.4h1.6M95.3 178.0h1.6M177.4 102.6h1.6M176.4 127.5h1.6M141.6 147.8h1.6M146.4 163.3h1.6M108.9 148.0h1.6M135.3 126.2h1.6M193.7 131.5h1.6M181.6 127.3h1.6M200.3 79.8h1.6M137.8 163.2h1.6M177.3 103.5h1.6M155.8 125.9h1.6M191.4 151.5h1.6M169.3 53.8h1.6M189.4 42.0h1.6M174.5 142.0h1.6M182.2 124.4h1.6M164.2 136.4h1.6M163.5 121.9h1.6M140.5 148.3h1.6M151.3 135.3h1.6M149.9 131.8h1.6M165.0 168.5h1.6M170.2 115.9h1.6M185.1 109.2h1.6M175.1 126.8h1.6M192.7 93.8h1.6M165.6 140.2h1.6M193.6 149.3h1.6M153.7 139.8h1.6M175.1 143.7h1.6M181.1 114.7h1.6M183.3 146.8h1.6M213.0 118.4h1.6M148.2 137.8h1.6M168.5 135.4h1.6M169.3 152.2h1.6M185.2 178.5h1.6M177.4 99.2h1.6M206.6 88.6h1.6M189.2 128.0h1.6M168.7 62.4h1.6M151.2 123.4h1.6M214.3 54.2h1.6M168.9 104.9h1.6M175.8 102.1h1.6M183.9 133.2h1.6M116.3 88.5h1.6M178.2 165.0h1.6M171.9 157.1h1.6M164.8 117.6h1.6M177.2 129.2h1.6M208.6 83.0h1.6M180.3 36.5h1.6M185.9 83.5h1.6M194.7 78.3h1.6M208.6 73.7h1.6M177.6 96.1h1.6M211.1 76.5h1.6M209.0 79.9h1.6M183.7 102.0h1.6M178.0 93.1h1.6M154.2 76.6h1.6M141.0 67.2h1.6M208.2 94.9h1.6M207.8 59.5h1.6M198.3 130.6h1.6M187.5 145.0h1.6M199.1 137.1h1.6M153.3 175.1h1.6M168.4 143.7h1.6M144.9 172.0h1.6M157.4 181.9h1.6M167.2 170.3h1.6M167.6 158.0h1.6M145.9 162.3h1.6M162.3 144.9h1.6M156.6 152.7h1.6M176.7 174.5h1.6M144.8 182.8h1.6M154.2 180.6h1.6M187.1 132.3h1.6M102.4 165.8h1.6M113.1 152.3h1.6M113.1 161.5h1.6M119.3 149.5h1.6M140.7 141.4h1.6M142.4 131.5h1.6M131.2 156.1h1.6M118.3 126.6h1.6M136.2 136.4h1.6M134.2 146.5h1.6M114.9 151.5h1.6M116.1 145.0h1.6M117.1 159.6h1.6M508.9 134.9h1.6M503.3 138.8h1.6M496.3 124.2h1.6M492.0 123.6h1.6M498.0 141.8h1.6M495.6 134.2h1.6M501.6 107.8h1.6M497.4 133.1h1.6M502.3 143.7h1.6M497.8 124.7h1.6M503.6 123.4h1.6M500.7 130.3h1.6M490.1 132.1h1.6M501.4 115.7h1.6M504.4 115.5h1.6M494.8 133.4h1.6M496.3 133.8h1.6M493.6 127.5h1.6M503.3 104.8h1.6M502.3 129.8h1.6M500.1 141.1h1.6M493.2 127.3h1.6M497.5 130.6h1.6M510.8 132.9h1.6M498.1 142.1h1.6M493.9 139.7h1.6M494.6 144.3h1.6M508.2 132.6h1.6M497.5 126.9h1.6M493.8 138.3h1.6M510.6 117.2h1.6M496.3 142.4h1.6M493.7 129.3h1.6M518.5 141.3h1.6M502.3 137.6h1.6M513.1 138.6h1.6M525.2 136.7h1.6M531.9 126.5h1.6M522.5 139.6h1.6M504.9 122.7h1.6M517.1 137.6h1.6M505.3 121.2h1.6M511.6 139.1h1.6M512.0 118.6h1.6M516.1 115.7h1.6M506.6 119.5h1.6M487.0 127.7h1.6M496.4 121.5h1.6M472.3 113.3h1.6M487.1 114.0h1.6M471.5 115.9h1.6M475.7 95.7h1.6M461.3 98.0h1.6M484.8 89.1h1.6M470.1 112.7h1.6M467.5 120.6h1.6M449.5 143.3h1.6M464.9 92.7h1.6M464.8 116.4h1.6M476.6 51.0h1.6M463.2 84.6h1.6M474.5 109.5h1.6M477.7 90.1h1.6M450.0 124.1h1.6M478.5 104.0h1.6M475.9 112.6h1.6M474.6 87.9h1.6M470.1 64.3h1.6M463.6 121.6h1.6M456.6 138.7h1.6M451.4 86.3h1.6M474.1 35.2h1.6M479.1 122.7h1.6M506.5 102.8h1.6M467.2 57.1h1.6M508.6 112.6h1.6M448.6 52.1h1.6M516.1 103.0h1.6M484.3 105.9h1.6M451.6 80.0h1.6M504.2 94.4h1.6M471.9 110.7h1.6M509.9 108.2h1.6M489.6 42.3h1.6M460.2 108.5h1.6M508.3 120.4h1.6M457.5 103.7h1.6M509.2 114.6h1.6M472.7 78.6h1.6M502.4 113.0h1.6M499.9 42.2h1.6M490.3 134.5h1.6M492.5 107.3h1.6M510.8 140.0h1.6M464.5 77.9h1.6M474.1 67.0h1.6M455.8 94.5h1.6M482.0 67.5h1.6M481.9 57.6h1.6M500.8 103.4h1.6M481.4 95.1h1.6M505.1 20.2h1.6M445.5 58.9h1.6M425.2 63.1h1.6M482.4 153.5h1.6"/><path stroke="#00b0ff" d="M92.0 184.8h1.6M95.8 181.3h1.6M101.5 189.6h1.6M102.1 184.0h1.6M88.5 183.7h1.6M105.5 170.8h1.6M106.3 172.5h1.6M102.9 183.9h1.6M116.5 183.6h1.6M103.3 180.1h1.6M118.4 178.2h1.6M110.4 188.7h1.6M97.3 188.3h1.6M115.2 174.6h1.6M94.6 176.1h1.6M94.5 179.6h1.6M94.0 180.8h1.6M103.6 169.0h1.6M103.6 184.7h1.6M111.4 171.8h1.6M111.8 171.5h1.6M100.3 181.2h1.6M98.2 191.1h1.6M116.9 167.0h1.6M108.4 181.3h1.6M98.1 184.1h1.6M112.2 188.7h1.6M108.3 173.8h1.6M103.6 187.0h1.6M106.7 176.3h1.6M95.5 191.2h1.6M106.2 178.5h1.6M101.8 172.9h1.6M101.5 163.6h1.6M99.9 186.1h1.6M119.0 171.7h1.6M98.3 181.0h1.6M102.2 174.8h1.6M110.7 178.1h1.6M107.5 181.4h1.6M105.2 184.1h1.6M89.8 192.0h1.6M127.5 165.6h1.6M126.8 171.0h1.6M142.3 153.7h1.6M126.7 155.8h1.6M162.7 124.8h1.6M150.2 159.2h1.6M128.6 161.0h1.6M105.7 181.6h1.6M124.0 170.2h1.6M120.7 159.1h1.6M165.3 143.4h1.6M148.0 150.8h1.6M149.3 160.1h1.6M142.0 145.1h1.6M144.7 164.8h1.6M143.7 144.3h1.6M140.2 160.0h1.6M169.0 126.7h1.6M162.9 126.1h1.6M149.2 159.5h1.6M135.8 162.9h1.6M137.7 144.9h1.6M139.7 152.1h1.6M146.8 156.6h1.6M151.2 169.8h1.6M155.2 138.2h1.6M175.6 117.5h1.6M112.3 177.5h1.6M138.2 162.1h1.6M129.7 147.1h1.6M157.3 135.2h1.6M120.0 167.9h1.6M144.1 142.5h1.6M151.5 143.4h1.6M147.6 147.6h1.6M133.0 156.7h1.6M144.4 142.4h1.6M131.7 153.2h1.6M149.3 149.6h1.6M146.7 156.0h1.6M165.0 130.2h1.6M123.7 174.1h1.6M127.6 162.6h1.6M134.4 170.8h1.6M140.8 158.4h1.6M106.4 191.7h1.6M121.9 153.8h1.6M101.3 186.6h1.6M118.8 164.3h1.6M121.7 161.2h1.6M146.1 147.2h1.6M174.3 55.6h1.6M192.1 83.7h1.6M174.4 43.3h1.6M137.2 32.1h1.6M459.3 141.0h1.6M466.4 126.1h1.6M473.1 145.3h1.6M466.0 136.7h1.6M475.5 127.4h1.6M472.0 140.7h1.6M464.3 134.4h1.6M470.4 132.1h1.6M488.6 139.6h1.6M461.4 142.8h1.6M474.1 131.5h1.6M468.9 135.3h1.6M467.5 134.1h1.6M474.7 128.5h1.6M488.3 146.0h1.6M484.1 129.8h1.6M482.3 133.8h1.6M471.6 122.9h1.6M480.8 133.4h1.6M483.9 138.8h1.6M482.2 138.8h1.6M490.8 143.0h1.6M475.0 138.0h1.6M472.1 126.6h1.6M468.3 143.8h1.6M482.9 123.4h1.6M483.4 127.0h1.6M461.9 130.3h1.6M363.9 143.9h1.6M365.3 144.0h1.6M378.1 143.9h1.6M369.7 142.9h1.6M370.2 143.8h1.6M391.4 143.9h1.6M381.7 143.2h1.6M376.2 159.1h1.6M388.7 146.8h1.6M375.5 149.8h1.6M429.3 144.8h1.6M420.0 144.4h1.6M434.6 145.0h1.6M437.3 145.5h1.6M429.0 144.5h1.6M413.9 145.9h1.6M413.1 141.9h1.6M439.1 143.2h1.6M430.5 146.3h1.6M454.8 147.9h1.6M478.4 141.6h1.6M478.2 145.3h1.6M476.1 143.7h1.6M442.7 142.4h1.6M460.7 139.3h1.6M447.5 143.1h1.6M466.1 143.7h1.6M446.5 140.5h1.6M459.3 145.0h1.6M480.9 143.8h1.6M490.0 148.9h1.6M464.5 145.3h1.6M487.3 147.8h1.6M491.6 144.2h1.6M487.6 143.7h1.6M363.9 147.4h1.6M363.6 145.7h1.6M367.4 152.6h1.6M355.7 148.4h1.6M420.8 150.4h1.6M427.1 198.4h1.6M428.6 153.5h1.6M431.5 180.8h1.6M405.4 162.6h1.6M408.5 172.7h1.6M436.0 191.3h1.6M467.8 175.3h1.6M472.8 108.2h1.6M468.2 97.7h1.6M466.9 133.3h1.6M463.4 127.9h1.6M443.8 125.7h1.6M478.9 102.2h1.6M461.7 108.3h1.6M378.7 49.0h1.6M351.0 59.2h1.6M428.7 113.4h1.6M460.6 112.7h1.6M460.2 120.4h1.6M453.3 108.7h1.6M452.9 123.2h1.6M455.7 104.3h1.6M465.8 128.4h1.6"/><path stroke="#ff6a00" d="M196.9 136.2h1.6M182.6 129.7h1.6M121.6 182.1h1.6M201.8 77.2h1.6M159.3 102.2h1.6M189.0 134.0h1.6M169.5 139.8h1.6M154.1 155.8h1.6M173.9 146.0h1.6M160.9 135.3h1.6M170.7 117.4h1.6M154.2 128.5h1.6M162.6 134.8h1.6M156.1 132.9h1.6M152.5 152.2h1.6M173.4 104.0h1.6M154.0 140.6h1.6M158.0 109.2h1.6M186.8 117.7h1.6M129.1 189.7h1.6M162.9 128.3h1.6M180.1 103.4h1.6M138.1 144.3h1.6M178.6 100.8h1.6M170.0 101.5h1.6M166.9 127.2h1.6M184.6 108.1h1.6M171.6 85.4h1.6M169.6 147.2h1.6M146.8 125.4h1.6M171.5 118.3h1.6M188.5 102.4h1.6M140.3 152.9h1.6M171.8 119.5h1.6M155.3 110.2h1.6M180.6 101.6h1.6M155.3 137.7h1.6M166.6 130.6h1.6M167.1 105.6h1.6M147.0 174.3h1.6M168.8 124.1h1.6M198.7 130.0h1.6M155.1 132.6h1.6M175.7 129.5h1.6M193.9 107.5h1.6M175.5 116.1h1.6M169.2 123.6h1.6M152.1 159.7h1.6M178.6 128.1h1.6M176.4 114.9h1.6M169.8 122.2h1.6M161.2 143.5h1.6M163.7 138.2h1.6M167.9 118.7h1.6M199.6 86.7h1.6M173.8 110.0h1.6M194.4 87.1h1.6M159.0 112.4h1.6M196.6 95.7h1.6M166.4 142.3h1.6M146.9 123.4h1.6M158.5 126.8h1.6M165.1 109.9h1.6M134.2 165.2h1.6M187.0 85.0h1.6M151.9 156.6h1.6M154.7 129.4h1.6M153.7 117.1h1.6M164.7 115.6h1.6M159.3 114.8h1.6M175.0 130.0h1.6M159.4 108.6h1.6M177.7 115.7h1.6M170.4 142.7h1.6M182.4 99.2h1.6M135.6 141.3h1.6M118.8 142.2h1.6M176.2 115.0h1.6M140.5 140.3h1.6M171.1 59.9h1.6M190.2 80.0h1.6M147.7 119.5h1.6M144.0 156.2h1.6M159.6 88.5h1.6M166.8 123.6h1.6M173.2 116.1h1.6M178.0 91.8h1.6M153.6 126.7h1.6M160.7 120.4h1.6M158.0 170.1h1.6M159.5 123.0h1.6M120.0 181.9h1.6M210.2 117.2h1.6M193.0 136.5h1.6M167.8 97.3h1.6M130.2 102.4h1.6M190.5 151.6h1.6M219.0 87.2h1.6M157.7 176.5h1.6M188.0 116.1h1.6M169.7 164.2h1.6M169.3 138.4h1.6M159.9 104.7h1.6M145.1 143.7h1.6M202.9 125.8h1.6M196.3 94.8h1.6M163.8 164.0h1.6M170.3 111.9h1.6M161.3 171.6h1.6M161.2 141.6h1.6M187.7 98.8h1.6M139.7 165.0h1.6M213.6 63.2h1.6M178.3 118.4h1.6M188.4 105.1h1.6M148.4 112.7h1.6M167.4 110.2h1.6M177.3 80.3h1.6M198.4 89.9h1.6M208.5 82.2h1.6M180.7 76.4h1.6M218.2 71.4h1.6M183.7 59.0h1.6M207.1 47.0h1.6M181.4 48.9h1.6M218.8 148.5h1.6M216.5 150.0h1.6M197.5 156.0h1.6M151.3 180.5h1.6M150.3 168.7h1.6M149.4 163.1h1.6M159.2 149.9h1.6M153.9 155.8h1.6M166.0 164.7h1.6M143.3 164.9h1.6M149.4 171.3h1.6M167.9 161.6h1.6M134.2 164.2h1.6M142.5 174.3h1.6M165.0 158.6h1.6M172.7 155.8h1.6M125.5 189.5h1.6M135.5 178.1h1.6M153.7 148.5h1.6M156.4 164.3h1.6M135.7 128.6h1.6M133.7 150.8h1.6M146.1 114.7h1.6M148.8 132.6h1.6M137.2 132.2h1.6M123.1 154.6h1.6M143.1 138.7h1.6M125.8 150.8h1.6M115.0 125.7h1.6M111.7 137.0h1.6M494.6 129.4h1.6M497.8 138.7h1.6M501.9 102.3h1.6M502.1 132.3h1.6M499.0 135.8h1.6M497.3 122.8h1.6M486.8 132.0h1.6M496.6 111.8h1.6M497.9 141.2h1.6M516.4 136.1h1.6M503.8 133.9h1.6M494.3 138.7h1.6M499.8 129.7h1.6M501.4 121.2h1.6M510.2 131.8h1.6M510.4 128.3h1.6M505.3 119.6h1.6M490.3 127.1h1.6M500.0 131.2h1.6M487.7 128.1h1.6M495.9 114.4h1.6M494.8 123.3h1.6M495.1 142.8h1.6M502.7 140.0h1.6M502.6 138.2h1.6M489.0 112.9h1.6M491.0 118.1h1.6M504.7 127.5h1.6M498.1 139.6h1.6M517.5 141.2h1.6M527.0 142.3h1.6M522.0 140.5h1.6M507.0 134.4h1.6M515.4 133.5h1.6M505.0 128.2h1.6M514.6 129.5h1.6M507.2 138.9h1.6M504.1 143.2h1.6M515.5 134.6h1.6M490.2 132.9h1.6M514.9 132.3h1.6M520.2 139.9h1.6M488.9 114.5h1.6M513.9 116.5h1.6M500.3 111.2h1.6M500.1 122.2h1.6M506.0 117.9h1.6M512.7 108.8h1.6M475.6 35.6h1.6M446.0 81.3h1.6M467.0 85.2h1.6M475.2 144.6h1.6M453.0 112.4h1.6M469.6 99.2h1.6M481.1 97.7h1.6M465.5 60.9h1.6M453.3 140.9h1.6M464.5 94.2h1.6M446.1 79.1h1.6M470.3 108.8h1.6M460.3 92.8h1.6M480.9 81.6h1.6M450.0 100.8h1.6M494.1 91.6h1.6M485.7 89.5h1.6M481.3 95.4h1.6M472.1 83.3h1.6M465.0 127.4h1.6M458.1 104.0h1.6M473.1 72.6h1.6M475.4 118.0h1.6M469.7 105.2h1.6M470.0 81.1h1.6M470.1 105.7h1.6M467.7 37.1h1.6M460.8 70.2h1.6M461.4 68.7h1.6M478.9 136.9h1.6M466.5 106.6h1.6M456.3 74.9h1.6M478.9 84.7h1.6M460.5 75.1h1.6M467.9 86.7h1.6M458.7 64.2h1.6M453.3 87.0h1.6M459.5 80.1h1.6M476.5 100.7h1.6M487.3 108.6h1.6M495.0 117.2h1.6M477.5 34.4h1.6M460.8 82.2h1.6M482.4 90.3h1.6M520.8 84.5h1.6M463.0 80.5h1.6M492.6 98.2h1.6M499.0 74.0h1.6M517.1 51.8h1.6M499.4 58.3h1.6M506.6 63.9h1.6M459.5 66.4h1.6M453.4 131.0h1.6M472.1 111.0h1.6M481.7 88.3h1.6M486.4 73.0h1.6M485.1 124.2h1.6M491.1 74.1h1.6M474.9 88.8h1.6M478.9 90.5h1.6M502.9 112.6h1.6M485.1 102.8h1.6M496.1 69.8h1.6M449.6 35.8h1.6M507.3 31.1h1.6M453.2 55.2h1.6M351.9 151.7h1.6"/><path stroke="#00b0ff" d="M108.9 173.6h1.6M108.5 182.9h1.6M105.6 180.8h1.6M104.6 173.6h1.6M125.2 173.3h1.6M107.3 181.2h1.6M109.4 190.4h1.6M90.7 175.1h1.6M87.4 181.7h1.6M104.8 178.1h1.6M119.6 176.8h1.6M88.8 186.3h1.6M99.3 176.0h1.6M102.0 178.8h1.6M107.8 184.7h1.6M116.5 175.2h1.6M107.3 177.5h1.6M102.4 180.8h1.6M106.7 184.7h1.6M108.2 188.2h1.6M100.7 183.7h1.6M108.9 179.1h1.6M121.8 172.9h1.6M101.8 182.3h1.6M108.7 179.1h1.6M95.6 185.2h1.6M126.7 188.4h1.6M113.3 178.9h1.6M108.4 176.4h1.6M120.0 172.3h1.6M119.2 168.5h1.6M101.2 178.8h1.6M122.7 168.8h1.6M104.9 190.1h1.6M104.2 185.1h1.6M143.0 169.1h1.6M165.3 133.7h1.6M123.3 159.1h1.6M154.3 144.5h1.6M166.0 145.2h1.6M130.3 163.7h1.6M166.0 157.3h1.6M158.9 129.8h1.6M136.5 142.5h1.6M118.2 176.4h1.6M131.9 157.0h1.6M138.3 157.0h1.6M143.9 143.8h1.6M146.4 159.1h1.6M136.3 154.9h1.6M123.3 176.7h1.6M131.1 166.4h1.6M139.2 163.9h1.6M143.0 133.8h1.6M153.0 142.8h1.6M144.7 148.1h1.6M125.8 172.6h1.6M137.1 158.6h1.6M136.3 171.4h1.6M129.8 157.7h1.6M123.5 165.9h1.6M156.2 140.0h1.6M148.3 146.8h1.6M169.1 125.3h1.6M128.9 147.0h1.6M144.0 143.3h1.6M151.0 143.6h1.6M143.8 156.0h1.6M133.1 163.9h1.6M136.8 166.8h1.6M110.1 178.6h1.6M125.8 175.7h1.6M136.8 154.6h1.6M123.3 162.1h1.6M161.0 121.0h1.6M140.1 140.8h1.6M130.9 164.7h1.6M151.4 152.4h1.6M154.4 97.2h1.6M138.6 181.8h1.6M148.1 77.9h1.6M147.5 90.9h1.6M147.8 69.7h1.6M181.1 75.8h1.6M83.7 162.9h1.6M472.7 135.7h1.6M486.6 134.6h1.6M471.9 132.9h1.6M487.1 133.8h1.6M469.8 138.0h1.6M490.5 142.7h1.6M476.3 138.3h1.6M484.0 140.3h1.6M474.0 122.0h1.6M465.7 141.8h1.6M459.0 142.7h1.6M468.6 142.9h1.6M487.7 147.5h1.6M477.8 138.6h1.6M486.8 146.0h1.6M467.7 131.4h1.6M476.8 147.0h1.6M470.2 120.9h1.6M463.2 142.9h1.6M468.4 142.8h1.6M483.7 142.5h1.6M471.0 134.7h1.6M491.7 142.9h1.6M482.5 129.8h1.6M464.8 136.2h1.6M468.0 145.8h1.6M467.2 131.9h1.6M478.6 145.2h1.6M496.9 135.6h1.6M485.3 127.4h1.6M464.0 131.8h1.6M464.2 121.8h1.6M463.2 145.4h1.6M462.1 145.2h1.6M487.0 131.3h1.6M467.8 141.6h1.6M468.8 140.4h1.6M477.0 137.3h1.6M464.7 143.1h1.6M473.7 142.0h1.6M390.4 143.2h1.6M388.8 143.1h1.6M393.6 143.3h1.6M385.5 142.7h1.6M390.8 143.0h1.6M391.2 142.7h1.6M364.4 143.0h1.6M383.8 143.1h1.6M387.2 142.5h1.6M397.2 142.7h1.6M398.5 143.4h1.6M373.5 170.6h1.6M379.2 154.9h1.6M419.1 148.4h1.6M420.8 146.0h1.6M436.4 143.4h1.6M434.7 142.9h1.6M430.0 143.9h1.6M423.6 145.6h1.6M430.3 147.7h1.6M418.8 147.3h1.6M428.1 140.8h1.6M421.3 143.3h1.6M423.3 144.7h1.6M430.1 143.9h1.6M455.5 145.4h1.6M456.9 139.6h1.6M485.6 146.4h1.6M455.0 143.7h1.6M475.2 146.2h1.6M474.9 141.9h1.6M491.9 143.2h1.6M475.8 143.0h1.6M441.9 141.1h1.6M447.2 142.2h1.6M462.7 144.6h1.6M483.0 143.6h1.6M452.5 148.2h1.6M486.1 144.0h1.6M458.7 145.2h1.6M360.8 153.3h1.6M369.2 156.9h1.6M365.0 149.8h1.6M362.5 145.2h1.6M366.1 148.7h1.6M369.8 146.0h1.6M364.1 146.0h1.6M338.4 145.2h1.6M338.4 145.0h1.6M430.1 151.3h1.6M415.0 177.4h1.6M412.1 149.4h1.6M407.1 188.6h1.6M441.4 155.7h1.6M472.6 174.4h1.6M453.8 123.6h1.6M455.3 124.0h1.6M444.7 82.9h1.6M470.1 114.9h1.6M466.3 90.8h1.6M469.5 106.4h1.6M433.9 93.8h1.6M483.0 34.7h1.6M456.6 134.4h1.6M439.3 114.4h1.6M476.4 135.4h1.6M467.5 106.0h1.6M462.3 33.1h1.6M445.1 33.2h1.6M455.6 79.0h1.6M407.3 59.7h1.6M443.8 138.6h1.6M449.3 116.5h1.6M450.3 106.2h1.6M480.9 128.6h1.6M448.8 109.1h1.6M459.2 126.2h1.6M456.7 105.2h1.6M462.2 103.3h1.6M482.6 110.7h1.6M463.8 124.7h1.6M469.2 111.9h1.6M458.5 125.4h1.6M455.2 120.5h1.6M450.1 133.7h1.6"/><path stroke="#ff6a00" d="M151.3 164.8h1.6M208.5 66.4h1.6M163.9 126.6h1.6M161.1 132.8h1.6M184.1 115.6h1.6M176.2 137.2h1.6M155.6 158.0h1.6M182.1 91.0h1.6M130.5 175.3h1.6M169.1 115.9h1.6M173.6 151.4h1.6M184.0 105.7h1.6M152.8 149.8h1.6M139.3 176.5h1.6M160.1 153.2h1.6M167.5 111.9h1.6M155.7 117.1h1.6M185.1 128.6h1.6M173.2 143.4h1.6M169.6 150.3h1.6M163.2 153.1h1.6M186.1 110.8h1.6M189.8 86.3h1.6M128.1 164.3h1.6M150.8 132.6h1.6M160.4 135.9h1.6M140.8 151.5h1.6M148.6 116.7h1.6M135.9 168.1h1.6M153.6 118.3h1.6M178.9 119.4h1.6M154.0 141.7h1.6M145.8 120.9h1.6M159.1 123.9h1.6M167.1 99.9h1.6M158.6 120.4h1.6M205.5 118.0h1.6M126.4 187.1h1.6M138.8 182.3h1.6M184.0 105.5h1.6M158.2 128.1h1.6M193.3 108.5h1.6M165.4 125.7h1.6M181.1 119.4h1.6M173.3 117.7h1.6M115.0 160.3h1.6M163.5 118.2h1.6M162.9 137.3h1.6M176.1 92.1h1.6M161.6 131.2h1.6M135.9 133.4h1.6M163.1 127.7h1.6M207.9 91.6h1.6M160.4 120.7h1.6M178.9 136.8h1.6M165.8 121.2h1.6M169.6 149.7h1.6M204.0 87.9h1.6M149.9 128.9h1.6M164.8 99.4h1.6M162.0 129.8h1.6M157.6 99.4h1.6M177.3 86.8h1.6M199.9 151.0h1.6M169.1 135.7h1.6M193.5 109.1h1.6M165.3 136.6h1.6M180.7 113.8h1.6M94.5 173.3h1.6M194.6 111.2h1.6M164.3 138.1h1.6M177.0 127.8h1.6M157.0 117.0h1.6M172.5 117.3h1.6M166.3 77.7h1.6M188.5 144.4h1.6M219.5 138.2h1.6M153.8 110.7h1.6M181.8 113.8h1.6M162.7 139.0h1.6M155.1 126.6h1.6M167.5 139.3h1.6M160.8 90.1h1.6M174.0 143.0h1.6M165.4 115.8h1.6M188.1 128.7h1.6M137.2 152.3h1.6M157.4 137.4h1.6M168.2 132.2h1.6M166.8 151.5h1.6M204.0 97.8h1.6M185.8 169.4h1.6M191.9 120.7h1.6M195.1 101.2h1.6M189.8 32.9h1.6M152.8 115.5h1.6M186.5 85.3h1.6M133.6 143.5h1.6M172.8 118.8h1.6M173.8 151.1h1.6M167.0 164.4h1.6M163.5 171.7h1.6M145.9 129.2h1.6M203.3 87.5h1.6M163.5 177.4h1.6M151.9 127.3h1.6M166.9 134.3h1.6M184.6 115.6h1.6M175.7 122.5h1.6M156.5 123.8h1.6M206.9 110.3h1.6M147.9 120.6h1.6M169.3 157.2h1.6M167.9 147.1h1.6M166.6 144.3h1.6M175.2 138.5h1.6M164.0 174.3h1.6M164.6 116.9h1.6M163.6 91.7h1.6M173.1 121.7h1.6M155.1 120.2h1.6M175.0 84.1h1.6M210.7 75.4h1.6M202.6 77.8h1.6M184.5 71.3h1.6M162.6 72.8h1.6M190.6 54.3h1.6M219.0 157.1h1.6M199.6 144.8h1.6M223.2 156.1h1.6M144.2 173.8h1.6M134.1 178.6h1.6M149.6 160.2h1.6M161.3 168.2h1.6M169.9 140.6h1.6M166.8 157.1h1.6M121.8 185.3h1.6M142.7 183.8h1.6M146.1 162.9h1.6M183.7 141.7h1.6M172.8 147.0h1.6M158.2 174.6h1.6M153.3 159.9h1.6M131.0 147.9h1.6M104.2 158.4h1.6M135.1 157.2h1.6M128.0 136.4h1.6M123.1 152.2h1.6M113.4 142.2h1.6M145.3 123.2h1.6M503.2 114.5h1.6M493.9 131.7h1.6M500.9 133.1h1.6M489.3 121.4h1.6M499.3 135.7h1.6M499.2 115.9h1.6M505.6 120.3h1.6M497.0 128.2h1.6M489.5 121.2h1.6M498.6 134.2h1.6M496.1 128.3h1.6M520.7 125.7h1.6M506.3 124.3h1.6M499.0 128.7h1.6M493.6 124.3h1.6M492.5 126.9h1.6M490.7 139.8h1.6M484.2 143.1h1.6M496.6 105.8h1.6M501.9 133.9h1.6M500.5 134.4h1.6M500.4 124.7h1.6M510.6 105.4h1.6M495.3 119.4h1.6M484.4 138.0h1.6M493.4 126.7h1.6M495.4 129.0h1.6M506.8 133.9h1.6M505.8 131.2h1.6M509.4 129.1h1.6M497.6 131.9h1.6M488.2 130.4h1.6M497.7 139.4h1.6M490.0 128.3h1.6M486.5 111.0h1.6M498.7 135.4h1.6M514.8 131.2h1.6M506.4 134.9h1.6M531.8 129.2h1.6M507.1 133.5h1.6M501.3 142.9h1.6M501.0 144.9h1.6M517.7 135.0h1.6M506.8 126.9h1.6M499.5 130.5h1.6M508.1 125.2h1.6M499.5 107.2h1.6M499.7 112.1h1.6M490.6 106.6h1.6M530.5 121.3h1.6M467.9 82.3h1.6M493.9 120.2h1.6M460.9 110.9h1.6M466.7 98.5h1.6M484.9 138.7h1.6M460.3 110.3h1.6M479.1 36.5h1.6M476.9 89.2h1.6M469.8 101.6h1.6M453.3 109.5h1.6M494.6 110.8h1.6M448.0 84.8h1.6M451.5 117.8h1.6M463.7 115.3h1.6M451.3 83.8h1.6M475.4 94.5h1.6M452.4 106.6h1.6M450.3 70.3h1.6M443.0 101.7h1.6M449.5 99.1h1.6M470.6 82.4h1.6M459.7 102.9h1.6M456.0 140.5h1.6M486.3 94.5h1.6M495.4 93.7h1.6M495.3 78.6h1.6M463.2 133.2h1.6M491.0 61.7h1.6M445.7 85.7h1.6M464.2 115.7h1.6M481.4 76.6h1.6M478.0 119.7h1.6M499.8 53.6h1.6M481.0 120.5h1.6M465.1 114.6h1.6M475.2 54.5h1.6M495.1 52.0h1.6M449.0 112.3h1.6M458.1 91.2h1.6M486.7 91.6h1.6M491.8 105.1h1.6M478.8 79.9h1.6M468.6 109.7h1.6M469.7 73.8h1.6M502.0 83.6h1.6M472.7 133.3h1.6M504.0 33.0h1.6M484.0 39.3h1.6M491.0 21.0h1.6M446.5 45.9h1.6M466.9 43.1h1.6M493.6 46.5h1.6M448.8 50.8h1.6M481.4 148.8h1.6M386.3 109.2h1.6M387.6 137.8h1.6M460.4 153.3h1.6"/><path stroke="#00b0ff" d="M104.6 180.3h1.6M110.0 178.7h1.6M105.3 184.1h1.6M106.7 175.9h1.6M114.4 179.5h1.6M104.7 170.1h1.6M95.9 175.2h1.6M97.2 181.7h1.6M107.0 177.9h1.6M108.6 178.0h1.6M106.0 174.4h1.6M86.9 182.7h1.6M101.3 187.4h1.6M103.9 183.0h1.6M99.8 177.2h1.6M108.1 172.3h1.6M105.3 178.7h1.6M109.4 174.9h1.6M99.1 188.6h1.6M104.4 190.5h1.6M107.2 183.3h1.6M89.2 183.7h1.6M111.7 171.0h1.6M114.1 180.8h1.6M99.6 184.5h1.6M91.8 186.4h1.6M102.8 179.0h1.6M99.2 185.0h1.6M86.6 185.2h1.6M93.1 187.5h1.6M105.7 176.6h1.6M109.6 178.4h1.6M107.1 176.1h1.6M116.4 177.5h1.6M103.8 187.1h1.6M107.5 174.4h1.6M102.7 182.7h1.6M97.6 173.4h1.6M96.2 181.5h1.6M100.2 184.6h1.6M109.5 187.8h1.6M108.8 168.2h1.6M115.3 178.0h1.6M100.1 186.9h1.6M105.6 174.4h1.6M103.6 187.7h1.6M113.6 171.7h1.6M101.6 178.7h1.6M150.8 152.6h1.6M120.5 172.4h1.6M141.7 148.9h1.6M143.9 157.1h1.6M158.3 138.6h1.6M142.2 143.1h1.6M167.1 139.6h1.6M161.3 148.6h1.6M125.7 173.5h1.6M127.2 172.4h1.6M133.5 160.3h1.6M163.2 135.0h1.6M136.1 154.2h1.6M133.1 164.7h1.6M129.8 164.6h1.6M140.6 157.5h1.6M147.1 147.0h1.6M136.2 151.6h1.6M130.2 147.6h1.6M141.6 153.5h1.6M135.5 147.8h1.6M131.0 147.5h1.6M135.1 157.3h1.6M135.0 163.5h1.6M123.3 152.2h1.6M134.4 152.1h1.6M142.7 146.2h1.6M142.4 148.7h1.6M127.5 178.5h1.6M145.5 151.0h1.6M158.2 125.5h1.6M131.9 180.0h1.6M133.9 156.8h1.6M136.0 160.0h1.6M133.8 155.4h1.6M134.1 163.9h1.6M173.6 141.9h1.6M148.7 151.9h1.6M135.0 156.5h1.6M152.4 137.1h1.6M143.4 145.4h1.6M157.4 121.0h1.6M150.0 153.3h1.6M119.9 157.9h1.6M140.9 156.6h1.6M125.7 166.9h1.6M143.6 135.7h1.6M125.2 161.2h1.6M136.2 149.7h1.6M148.7 135.0h1.6M81.5 156.0h1.6M467.7 129.2h1.6M484.9 142.2h1.6M486.3 127.9h1.6M468.3 144.7h1.6M464.7 137.2h1.6M470.9 133.4h1.6M468.4 141.2h1.6M484.7 144.6h1.6M484.2 133.7h1.6M485.0 141.7h1.6M467.0 135.6h1.6M485.7 134.1h1.6M478.6 127.6h1.6M478.7 132.9h1.6M470.4 142.4h1.6M479.9 136.6h1.6M473.5 146.2h1.6M469.9 138.0h1.6M472.7 143.7h1.6M484.0 143.9h1.6M488.8 138.4h1.6M455.7 109.6h1.6M488.5 135.1h1.6M464.7 141.1h1.6M475.5 134.0h1.6M475.6 134.6h1.6M458.7 136.6h1.6M489.8 115.2h1.6M485.8 142.4h1.6M475.1 124.6h1.6M475.5 134.9h1.6M465.4 125.3h1.6M390.4 143.2h1.6M380.2 143.4h1.6M391.1 143.4h1.6M388.2 142.8h1.6M379.1 144.6h1.6M380.4 143.4h1.6M380.9 142.5h1.6M385.5 143.7h1.6M373.3 142.5h1.6M367.3 143.2h1.6M408.1 142.3h1.6M413.9 144.5h1.6M435.0 147.7h1.6M424.0 144.7h1.6M420.5 145.3h1.6M417.8 146.5h1.6M433.1 144.1h1.6M418.5 143.6h1.6M416.5 140.0h1.6M438.6 150.8h1.6M412.2 147.1h1.6M487.1 144.5h1.6M491.8 145.3h1.6M471.8 148.9h1.6M456.7 144.0h1.6M444.5 142.0h1.6M455.9 146.7h1.6M460.8 144.0h1.6M471.9 144.1h1.6M483.9 141.0h1.6M487.3 145.1h1.6M465.0 145.2h1.6M456.2 144.1h1.6M368.8 145.4h1.6M364.9 153.3h1.6M362.9 148.4h1.6M436.1 150.2h1.6M440.4 154.7h1.6M428.0 156.6h1.6M437.8 162.6h1.6M437.9 149.0h1.6M442.6 169.3h1.6M479.5 194.1h1.6M476.9 99.7h1.6M468.2 117.1h1.6M478.3 70.9h1.6M469.1 54.2h1.6M473.4 59.1h1.6M457.2 49.2h1.6M452.7 127.4h1.6M460.6 58.1h1.6M477.3 71.2h1.6M453.5 84.5h1.6M463.8 57.6h1.6M461.9 101.9h1.6M457.5 106.4h1.6M452.7 131.6h1.6M451.3 115.8h1.6M452.5 121.2h1.6"/><path stroke="#ff6a00" d="M156.7 142.0h1.6M145.2 134.1h1.6M172.0 106.0h1.6M160.6 109.6h1.6M162.0 139.5h1.6M173.4 133.6h1.6M114.8 165.2h1.6M155.8 139.9h1.6M183.5 82.6h1.6M201.8 54.1h1.6M145.5 150.2h1.6M135.4 175.0h1.6M146.7 116.1h1.6M160.0 132.3h1.6M132.4 170.2h1.6M159.5 137.4h1.6M173.9 113.0h1.6M182.0 141.2h1.6M179.0 117.6h1.6M165.9 96.0h1.6M141.2 150.2h1.6M153.7 149.4h1.6M162.1 155.8h1.6M161.7 131.8h1.6M166.7 136.5h1.6M182.5 108.8h1.6M155.5 119.7h1.6M162.3 124.8h1.6M157.0 110.2h1.6M168.6 113.9h1.6M152.3 116.0h1.6M175.2 110.7h1.6M144.7 132.2h1.6M177.8 112.1h1.6M160.1 99.1h1.6M189.2 128.6h1.6M164.0 108.5h1.6M176.5 137.2h1.6M151.0 140.2h1.6M154.4 96.6h1.6M136.5 180.6h1.6M145.4 116.5h1.6M170.7 137.6h1.6M136.3 149.6h1.6M182.7 115.5h1.6M136.8 172.0h1.6M169.2 129.8h1.6M157.1 135.7h1.6M181.8 111.1h1.6M202.4 98.9h1.6M184.5 85.7h1.6M155.0 158.6h1.6M144.6 173.3h1.6M192.3 90.1h1.6M188.9 95.4h1.6M148.1 170.8h1.6M194.8 82.1h1.6M177.1 91.9h1.6M179.0 91.5h1.6M149.1 151.6h1.6M189.0 111.0h1.6M186.8 129.0h1.6M176.5 125.6h1.6M161.4 88.5h1.6M181.8 138.0h1.6M174.0 114.5h1.6M112.4 138.3h1.6M168.0 128.8h1.6M126.5 160.2h1.6M171.6 113.1h1.6M162.5 172.3h1.6M157.7 139.5h1.6M187.7 128.4h1.6M165.7 119.1h1.6M187.6 134.5h1.6M153.8 130.8h1.6M169.3 114.8h1.6M189.4 80.0h1.6M161.2 103.1h1.6M201.4 116.8h1.6M150.6 124.4h1.6M192.6 79.7h1.6M173.6 122.1h1.6M143.2 141.0h1.6M172.6 135.1h1.6M169.7 124.6h1.6M177.4 119.0h1.6M209.4 92.4h1.6M141.7 114.1h1.6M173.5 144.3h1.6M168.1 117.1h1.6M156.3 131.6h1.6M163.0 75.0h1.6M182.8 164.0h1.6M173.0 145.4h1.6M168.7 121.2h1.6M209.1 80.8h1.6M157.7 98.9h1.6M164.5 136.7h1.6M181.0 133.4h1.6M173.6 130.0h1.6M193.7 88.5h1.6M173.0 124.2h1.6M183.6 154.6h1.6M177.0 69.2h1.6M194.8 147.3h1.6M192.1 124.0h1.6M143.4 175.9h1.6M194.3 113.3h1.6M190.2 83.1h1.6M156.5 135.8h1.6M196.4 146.8h1.6M191.8 105.4h1.6M176.9 64.1h1.6M173.0 57.4h1.6M174.7 85.9h1.6M213.0 62.0h1.6M190.3 105.0h1.6M171.6 74.4h1.6M221.5 70.5h1.6M194.1 90.0h1.6M162.3 47.3h1.6M159.2 36.6h1.6M208.6 152.6h1.6M199.5 156.3h1.6M204.1 141.6h1.6M150.9 164.7h1.6M134.8 183.8h1.6M149.6 149.1h1.6M126.3 190.6h1.6M163.5 156.0h1.6M166.0 166.6h1.6M165.6 166.1h1.6M156.3 166.0h1.6M177.9 142.0h1.6M147.9 155.4h1.6M166.7 162.8h1.6M145.7 171.2h1.6M164.6 170.6h1.6M152.2 160.5h1.6M158.7 154.7h1.6M145.5 170.6h1.6M163.8 148.3h1.6M152.9 164.8h1.6M186.8 142.6h1.6M128.4 145.2h1.6M127.9 148.8h1.6M145.2 152.5h1.6M133.0 140.7h1.6M129.7 151.9h1.6M145.4 131.7h1.6M141.4 138.3h1.6M122.1 168.6h1.6M128.4 151.9h1.6M128.0 136.0h1.6M143.1 139.7h1.6M132.2 141.0h1.6M132.5 136.3h1.6M500.3 128.9h1.6M496.5 113.7h1.6M489.1 112.8h1.6M497.1 126.3h1.6M493.1 121.5h1.6M508.5 118.5h1.6M494.2 131.0h1.6M493.3 131.5h1.6M497.6 120.6h1.6M499.0 139.6h1.6M494.5 126.9h1.6M492.3 123.9h1.6M504.3 135.6h1.6M490.5 125.2h1.6M493.3 136.2h1.6M494.4 128.4h1.6M499.9 123.1h1.6M499.6 129.8h1.6M498.9 122.0h1.6M502.8 120.1h1.6M505.5 140.6h1.6M501.0 114.8h1.6M513.0 137.0h1.6M492.6 123.6h1.6M491.7 143.3h1.6M491.5 112.3h1.6M494.7 133.3h1.6M491.7 123.7h1.6M498.9 140.9h1.6M504.7 122.0h1.6M502.2 145.2h1.6M505.4 122.2h1.6M487.0 143.0h1.6M498.9 117.1h1.6M502.4 117.4h1.6M488.7 108.4h1.6M511.5 130.0h1.6M501.7 142.9h1.6M511.3 130.9h1.6M515.0 128.1h1.6M501.2 138.5h1.6M523.0 128.6h1.6M512.4 143.0h1.6M522.5 132.6h1.6M509.3 126.5h1.6M502.4 145.6h1.6M514.3 143.4h1.6M514.6 134.0h1.6M513.1 138.0h1.6M478.5 105.7h1.6M507.5 109.8h1.6M512.5 102.9h1.6M504.9 123.6h1.6M492.7 147.4h1.6M459.9 93.9h1.6M479.6 92.5h1.6M454.2 130.8h1.6M461.7 117.4h1.6M464.7 129.0h1.6M443.8 42.2h1.6M488.1 50.2h1.6M451.8 81.7h1.6M461.2 86.7h1.6M463.8 119.2h1.6M455.2 106.6h1.6M459.5 121.0h1.6M452.7 95.0h1.6M459.6 83.6h1.6M483.4 97.0h1.6M473.1 84.3h1.6M485.8 95.3h1.6M477.2 96.8h1.6M470.6 94.9h1.6M455.8 115.7h1.6M462.1 65.7h1.6M472.9 103.1h1.6M459.2 120.1h1.6M462.2 119.1h1.6M458.5 88.1h1.6M459.0 96.8h1.6M477.9 82.8h1.6M465.1 121.8h1.6M466.3 82.8h1.6M451.5 70.9h1.6M458.2 104.1h1.6M448.5 118.0h1.6M457.9 123.7h1.6M456.2 131.4h1.6M468.8 97.4h1.6M506.1 78.7h1.6M503.9 81.6h1.6M509.6 115.2h1.6M486.3 87.2h1.6M477.7 77.3h1.6M509.8 82.7h1.6M475.8 105.3h1.6M455.9 97.5h1.6M476.6 108.4h1.6M474.2 89.9h1.6M457.6 113.6h1.6M456.2 116.6h1.6M455.8 142.6h1.6M507.5 84.7h1.6M528.9 84.6h1.6M471.5 124.6h1.6M517.6 77.5h1.6M503.4 90.5h1.6M466.6 56.0h1.6M452.3 40.9h1.6M524.5 59.2h1.6M506.8 46.0h1.6M432.8 121.6h1.6M468.0 160.1h1.6"/><path stroke="#00b0ff" d="M106.0 176.6h1.6M107.4 171.2h1.6M108.7 180.1h1.6M93.2 187.3h1.6M88.8 188.3h1.6M96.9 183.6h1.6M111.5 170.2h1.6M105.1 189.2h1.6M118.2 176.0h1.6M116.5 188.5h1.6M121.9 180.8h1.6M105.5 183.1h1.6M112.7 175.8h1.6M109.1 168.5h1.6M99.7 181.0h1.6M103.3 189.9h1.6M104.3 182.6h1.6M94.9 175.1h1.6M102.5 177.6h1.6M90.6 185.5h1.6M116.9 185.1h1.6M125.5 178.6h1.6M121.4 178.1h1.6M105.8 169.4h1.6M111.2 175.7h1.6M99.4 186.6h1.6M97.1 172.6h1.6M107.0 178.8h1.6M113.0 180.6h1.6M101.1 180.3h1.6M123.1 166.8h1.6M92.1 175.8h1.6M88.2 186.6h1.6M106.7 173.3h1.6M110.0 182.2h1.6M147.2 139.6h1.6M133.2 158.1h1.6M144.2 154.5h1.6M136.5 161.6h1.6M157.6 142.7h1.6M142.7 150.9h1.6M151.1 153.2h1.6M113.4 172.9h1.6M123.5 162.3h1.6M152.0 144.9h1.6M137.8 145.9h1.6M128.8 159.8h1.6M116.3 167.5h1.6M129.0 159.5h1.6M152.5 146.3h1.6M136.3 139.4h1.6M114.8 145.9h1.6M143.6 161.7h1.6M142.5 167.7h1.6M131.6 164.6h1.6M144.7 142.5h1.6M136.4 157.7h1.6M122.9 172.0h1.6M147.2 147.1h1.6M137.9 147.6h1.6M128.3 169.2h1.6M143.4 158.6h1.6M134.6 160.7h1.6M143.1 160.6h1.6M151.4 156.3h1.6M139.1 168.4h1.6M143.0 136.1h1.6M166.9 123.7h1.6M138.0 164.6h1.6M121.9 173.1h1.6M142.7 160.0h1.6M139.0 161.8h1.6M150.2 140.9h1.6M157.3 139.2h1.6M124.3 174.1h1.6M144.5 172.4h1.6M140.0 159.5h1.6M149.6 141.6h1.6M149.3 143.0h1.6M144.1 138.6h1.6M131.7 165.5h1.6M158.0 132.6h1.6M126.5 156.2h1.6M130.9 150.5h1.6M155.0 72.8h1.6M188.2 42.6h1.6M185.3 93.6h1.6M169.9 153.5h1.6M464.3 132.9h1.6M485.9 138.4h1.6M466.5 141.9h1.6M470.9 144.4h1.6M469.3 136.8h1.6M464.1 144.9h1.6M482.5 145.1h1.6M487.6 146.4h1.6M472.1 141.5h1.6M486.4 137.7h1.6M478.2 135.4h1.6M462.7 140.9h1.6M464.6 128.9h1.6M468.7 131.1h1.6M469.1 140.1h1.6M474.6 127.3h1.6M473.2 132.1h1.6M476.7 127.6h1.6M486.1 142.1h1.6M471.6 135.9h1.6M485.6 129.1h1.6M484.8 138.0h1.6M476.3 141.0h1.6M464.7 132.6h1.6M475.5 137.5h1.6M466.5 138.3h1.6M484.7 129.6h1.6M487.8 141.3h1.6M481.5 131.4h1.6M466.5 126.0h1.6M485.5 146.7h1.6M480.6 140.2h1.6M467.1 136.5h1.6M470.7 146.7h1.6M485.3 130.3h1.6M476.5 131.8h1.6M474.3 132.5h1.6M483.9 136.6h1.6M475.3 141.1h1.6M471.6 142.3h1.6M482.2 128.7h1.6M482.2 142.8h1.6M491.9 137.2h1.6M468.4 132.1h1.6M480.2 146.5h1.6M379.7 143.8h1.6M382.0 142.7h1.6M363.0 143.2h1.6M367.2 142.6h1.6M377.5 143.4h1.6M364.4 143.1h1.6M382.3 144.0h1.6M380.0 143.3h1.6M370.8 143.2h1.6M393.4 142.5h1.6M364.3 144.0h1.6M366.0 143.9h1.6M374.3 143.2h1.6M391.2 144.9h1.6M381.0 143.4h1.6M369.4 143.0h1.6M408.4 142.9h1.6M406.9 142.5h1.6M378.6 164.5h1.6M374.9 149.8h1.6M376.7 148.9h1.6M382.4 154.2h1.6M370.3 147.3h1.6M391.5 160.4h1.6M417.2 145.6h1.6M417.5 142.5h1.6M417.9 142.3h1.6M423.2 145.0h1.6M430.2 142.3h1.6M420.4 144.8h1.6M422.8 146.9h1.6M425.9 144.8h1.6M412.5 142.2h1.6M438.4 146.6h1.6M427.6 146.0h1.6M429.8 144.7h1.6M427.5 147.2h1.6M430.4 143.8h1.6M437.7 146.2h1.6M464.1 146.1h1.6M457.8 145.2h1.6M477.6 143.0h1.6M446.5 147.5h1.6M491.1 143.5h1.6M476.0 143.3h1.6M473.2 144.9h1.6M471.8 145.3h1.6M450.3 141.5h1.6M472.8 142.6h1.6M470.7 143.1h1.6M445.9 140.6h1.6M475.2 141.3h1.6M486.6 139.0h1.6M450.7 139.5h1.6M366.4 144.9h1.6M369.0 144.9h1.6M366.5 147.6h1.6M364.9 153.0h1.6M437.7 183.3h1.6M408.4 189.8h1.6M420.4 161.8h1.6M445.1 158.8h1.6M464.6 162.5h1.6M458.7 57.7h1.6M448.5 55.4h1.6M451.9 133.0h1.6M469.7 115.0h1.6M455.6 54.3h1.6M471.8 44.1h1.6M460.5 88.7h1.6M479.4 89.7h1.6M456.0 32.4h1.6M453.2 137.9h1.6M466.4 96.2h1.6M456.7 94.3h1.6M465.8 87.5h1.6M455.5 76.3h1.6M463.3 39.2h1.6M464.0 72.7h1.6M459.8 130.1h1.6M445.8 85.4h1.6M454.8 119.8h1.6M452.3 110.8h1.6M458.2 132.2h1.6M460.2 115.0h1.6M465.6 106.8h1.6M462.1 111.0h1.6"/></g>
<rect x="49.5" y="18.5" width="200" height="182" fill="none" stroke="#adadad" stroke-width="1"/>
<path d="M62.83 200.5v-2M62.83 18.5v2M76.17 200.5v-2M76.17 18.5v2M89.50 200.5v-2M89.50 18.5v2M102.83 200.5v-2M102.83 18.5v2M116.17 200.5v-4M116.17 18.5v4M129.50 200.5v-2M129.50 18.5v2M142.83 200.5v-2M142.83 18.5v2M156.17 200.5v-2M156.17 18.5v2M169.50 200.5v-2M169.50 18.5v2M182.83 200.5v-4M182.83 18.5v4M196.17 200.5v-2M196.17 18.5v2M209.50 200.5v-2M209.50 18.5v2M222.83 200.5v-2M222.83 18.5v2M236.17 200.5v-2M236.17 18.5v2M49.5 188.37h2M249.5 188.37h-2M49.5 176.23h2M249.5 176.23h-2M49.5 164.10h2M249.5 164.10h-2M49.5 151.97h2M249.5 151.97h-2M49.5 139.83h4M249.5 139.83h-4M49.5 127.70h2M249.5 127.70h-2M49.5 115.57h2M249.5 115.57h-2M49.5 103.43h2M249.5 103.43h-2M49.5 91.30h2M249.5 91.30h-2M49.5 79.17h4M249.5 79.17h-4M49.5 67.03h2M249.5 67.03h-2M49.5 54.90h2M249.5 54.90h-2M49.5 42.77h2M249.5 42.77h-2M49.5 30.63h2M249.5 30.63h-2" stroke="#adadad" stroke-width="1" fill="none"/>
<rect x="334.5" y="18.5" width="200" height="182" fill="none" stroke="#adadad" stroke-width="1"/>
<path d="M344.50 200.5v-2M344.50 18.5v2M354.50 200.5v-2M354.50 18.5v2M364.50 200.5v-2M364.50 18.5v2M374.50 200.5v-2M374.50 18.5v2M384.50 200.5v-4M384.50 18.5v4M394.50 200.5v-2M394.50 18.5v2M404.50 200.5v-2M404.50 18.5v2M414.50 200.5v-2M414.50 18.5v2M424.50 200.5v-2M424.50 18.5v2M434.50 200.5v-4M434.50 18.5v4M444.50 200.5v-2M444.50 18.5v2M454.50 200.5v-2M454.50 18.5v2M464.50 200.5v-2M464.50 18.5v2M474.50 200.5v-2M474.50 18.5v2M484.50 200.5v-4M484.50 18.5v4M494.50 200.5v-2M494.50 18.5v2M504.50 200.5v-2M504.50 18.5v2M514.50 200.5v-2M514.50 18.5v2M524.50 200.5v-2M524.50 18.5v2M334.5 189.13h2M534.5 189.13h-2M334.5 177.75h2M534.5 177.75h-2M334.5 166.38h2M534.5 166.38h-2M334.5 155.00h4M534.5 155.00h-4M334.5 143.62h2M534.5 143.62h-2M334.5 132.25h2M534.5 132.25h-2M334.5 120.87h2M534.5 120.87h-2M334.5 109.50h4M534.5 109.50h-4M334.5 98.12h2M534.5 98.12h-2M334.5 86.75h2M534.5 86.75h-2M334.5 75.38h2M534.5 75.38h-2M334.5 64.00h4M534.5 64.00h-4M334.5 52.62h2M534.5 52.62h-2M334.5 41.25h2M534.5 41.25h-2M334.5 29.87h2M534.5 29.87h-2" stroke="#adadad" stroke-width="1" fill="none"/>
<defs><filter id="bl" x="-5%" y="-5%" width="110%" height="110%"><feGaussianBlur stdDeviation="0.35"/></filter></defs>
<g fill="#000" stroke="#000" stroke-width="0.18" filter="url(#bl)"><text x="149.8" y="11.2" font-size="16" text-anchor="middle" letter-spacing="0.4" stroke-width="0">1.075 Rsun</text>
<text x="434.8" y="11.2" font-size="16" text-anchor="middle" letter-spacing="0.4" stroke-width="0">1.075 Rsun</text>
<text x="45.2" y="27.9" font-size="14" text-anchor="end" letter-spacing="0.8" >1.5</text>
<text x="45.2" y="84.2" font-size="14" text-anchor="end" letter-spacing="0.8" >1.0</text>
<text x="45.2" y="145.8" font-size="14" text-anchor="end" letter-spacing="0.8" >0.5</text>
<text x="45.2" y="200.9" font-size="14" text-anchor="end" letter-spacing="0.8" >0.0</text>
<text x="330.2" y="27.8" font-size="14" text-anchor="end" letter-spacing="0.8" >3.0</text>
<text x="330.2" y="69.8" font-size="14" text-anchor="end" letter-spacing="0.8" >2.8</text>
<text x="330.2" y="114.9" font-size="14" text-anchor="end" letter-spacing="0.8" >2.6</text>
<text x="330.2" y="160.9" font-size="14" text-anchor="end" letter-spacing="0.8" >2.4</text>
<text x="330.2" y="200.9" font-size="14" text-anchor="end" letter-spacing="0.8" >2.2</text>
<text x="49.5" y="220.5" font-size="14" text-anchor="middle" letter-spacing="0.8" >0.0</text>
<text x="116.2" y="220.5" font-size="14" text-anchor="middle" letter-spacing="0.8" >0.5</text>
<text x="182.8" y="220.5" font-size="14" text-anchor="middle" letter-spacing="0.8" >1.0</text>
<text x="249.5" y="220.5" font-size="14" text-anchor="middle" letter-spacing="0.8" >1.5</text>
<text x="334.5" y="220.5" font-size="14" text-anchor="middle" letter-spacing="0.8" >0.0</text>
<text x="384.5" y="220.5" font-size="14" text-anchor="middle" letter-spacing="0.8" >0.5</text>
<text x="434.5" y="220.5" font-size="14" text-anchor="middle" letter-spacing="0.8" >1.0</text>
<text x="484.5" y="220.5" font-size="14" text-anchor="middle" letter-spacing="0.8" >1.5</text>
<text x="534.5" y="220.5" font-size="14" text-anchor="middle" letter-spacing="0.8" >2.0</text>
<g transform="translate(0 0)"><ellipse cx="64.4" cy="46.5" rx="2.2" ry="2.65" fill="none" stroke="#000" stroke-width="1.25" transform="rotate(12 64.4 46.5)"/><path d="M62.7 46.6L60.3 53.4" fill="none" stroke="#000" stroke-width="1.25"/><rect x="69.7" y="44.5" width="7.5" height="1.15"/><rect x="69.7" y="47.0" width="7.5" height="1.15"/></g>
<text x="99.2" y="50.7" font-size="14" text-anchor="start" letter-spacing="0.6" >0.67</text>
<g transform="translate(285.1 0)"><ellipse cx="64.4" cy="46.5" rx="2.2" ry="2.65" fill="none" stroke="#000" stroke-width="1.25" transform="rotate(12 64.4 46.5)"/><path d="M62.7 46.6L60.3 53.4" fill="none" stroke="#000" stroke-width="1.25"/><rect x="69.7" y="44.5" width="7.5" height="1.15"/><rect x="69.7" y="47.0" width="7.5" height="1.15"/></g>
<text x="384" y="50.7" font-size="14" text-anchor="start" letter-spacing="0.6" >0.27</text>
<g transform="translate(96 236.2)"><text x="-0.77" y="0" font-size="13">N</text><text x="8.62" y="3.9" font-size="9.0" stroke-width="0.35">e,1</text><text x="27.67" y="0.8" font-size="14.5">[</text><text x="34.25" y="0" font-size="13">x</text><text x="41.21" y="0" font-size="13">1</text><text x="49.79" y="0" font-size="13">0</text><text x="57.91" y="-6.6" font-size="9.0" stroke-width="0.35">8</text><text x="69.65" y="0" font-size="13">c</text><text x="76.74" y="0" font-size="13">m</text><text x="91.10" y="-6.6" font-size="9.0" stroke-width="0.35">&#8722;</text><text x="95.56" y="-6.6" font-size="9.0" stroke-width="0.35">3</text><text x="102.19" y="0.8" font-size="14.5">]</text></g>
<g transform="translate(406.4 236.1)"><text x="0.01" y="0" font-size="13">T</text><text x="6.45" y="3.9" font-size="9.0" stroke-width="0.35">0,1</text><text x="26.37" y="0.8" font-size="14.5">[</text><text x="31.03" y="0" font-size="13">M</text><text x="42.33" y="0" font-size="13">K</text><text x="52.29" y="0.8" font-size="14.5">]</text></g>
<g transform="translate(13.2 163.0) rotate(-90)"><text x="-0.77" y="0" font-size="13">N</text><text x="8.62" y="3.9" font-size="9.0" stroke-width="0.35">e,2</text><text x="27.67" y="0.8" font-size="14.5">[</text><text x="34.25" y="0" font-size="13">x</text><text x="41.21" y="0" font-size="13">1</text><text x="49.79" y="0" font-size="13">0</text><text x="57.91" y="-6.6" font-size="9.0" stroke-width="0.35">8</text><text x="69.65" y="0" font-size="13">c</text><text x="76.74" y="0" font-size="13">m</text><text x="91.10" y="-6.6" font-size="9.0" stroke-width="0.35">&#8722;</text><text x="95.56" y="-6.6" font-size="9.0" stroke-width="0.35">3</text><text x="102.19" y="0.8" font-size="14.5">]</text></g>
<g transform="translate(293.6 137.6) rotate(-90)"><text x="0.01" y="0" font-size="13">T</text><text x="6.45" y="3.9" font-size="9.0" stroke-width="0.35">0,2</text><text x="26.37" y="0.8" font-size="14.5">[</text><text x="31.03" y="0" font-size="13">M</text><text x="42.33" y="0" font-size="13">K</text><text x="52.29" y="0.8" font-size="14.5">]</text></g></g>
</svg>
</body></html>
